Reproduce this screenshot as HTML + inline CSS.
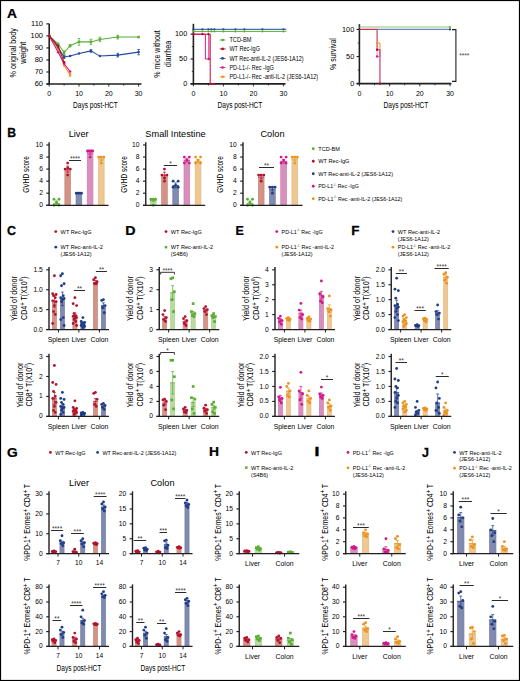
<!DOCTYPE html><html><head><meta charset="utf-8"><style>html,body{margin:0;padding:0;background:#fff}svg{display:block}text{font-family:"Liberation Sans",sans-serif;stroke:none}</style></head><body>
<svg width="520" height="681" viewBox="0 0 520 681">
<rect x="0" y="0" width="520" height="681" fill="#fff"/>
<text transform="translate(6.95 17.5) scale(1.0808 1)" x="0" y="0" font-size="12.8" font-weight="bold" fill="#000" style="stroke:#000;stroke-width:0.25px">A</text>
<line x1="49.2" y1="23.85" x2="49.2" y2="84.6" stroke="#231f20" stroke-width="1.6"/>
<line x1="46.4" y1="84" x2="49.2" y2="84" stroke="#231f20" stroke-width="1.15"/>
<text transform="translate(43 86.34)" x="-8.34" y="0" font-size="7.5">60</text>
<line x1="46.4" y1="71.97" x2="49.2" y2="71.97" stroke="#231f20" stroke-width="1.15"/>
<text transform="translate(43 74.31)" x="-8.34" y="0" font-size="7.5">70</text>
<line x1="46.4" y1="59.94" x2="49.2" y2="59.94" stroke="#231f20" stroke-width="1.15"/>
<text transform="translate(43 62.27)" x="-8.34" y="0" font-size="7.5">80</text>
<line x1="46.4" y1="47.91" x2="49.2" y2="47.91" stroke="#231f20" stroke-width="1.15"/>
<text transform="translate(43 50.24)" x="-8.34" y="0" font-size="7.5">90</text>
<line x1="46.4" y1="35.88" x2="49.2" y2="35.88" stroke="#231f20" stroke-width="1.15"/>
<text transform="translate(43 38.22)" x="-12.51" y="0" font-size="7.5">100</text>
<line x1="46.4" y1="23.85" x2="49.2" y2="23.85" stroke="#231f20" stroke-width="1.15"/>
<text transform="translate(43 26.18)" x="-11.96" y="0" font-size="7.5">110</text>
<line x1="46.4" y1="84" x2="141.5" y2="84" stroke="#231f20" stroke-width="1.6"/>
<line x1="49.2" y1="84" x2="49.2" y2="86.6" stroke="#231f20" stroke-width="0.9"/>
<line x1="64.1" y1="84" x2="64.1" y2="85.6" stroke="#231f20" stroke-width="0.9"/>
<line x1="79" y1="84" x2="79" y2="86.6" stroke="#231f20" stroke-width="0.9"/>
<line x1="93.9" y1="84" x2="93.9" y2="85.6" stroke="#231f20" stroke-width="0.9"/>
<line x1="108.8" y1="84" x2="108.8" y2="86.6" stroke="#231f20" stroke-width="0.9"/>
<line x1="123.7" y1="84" x2="123.7" y2="85.6" stroke="#231f20" stroke-width="0.9"/>
<line x1="138.6" y1="84" x2="138.6" y2="86.6" stroke="#231f20" stroke-width="0.9"/>
<text transform="translate(49.2 96.3)" x="-1.95" y="0" font-size="7">0</text>
<text transform="translate(79 96.3)" x="-3.89" y="0" font-size="7">10</text>
<text transform="translate(108.8 96.3)" x="-3.89" y="0" font-size="7">20</text>
<text transform="translate(138.6 96.3)" x="-3.89" y="0" font-size="7">30</text>
<text transform="translate(95.5 108.4) scale(0.7284 1)" x="-30.75" y="0" font-size="9">Days post-HCT</text>
<text transform="translate(15.5 52.7) rotate(-90) scale(0.7526 1)" x="-32.82" y="0" font-size="9.6">% original body</text>
<text transform="translate(26 52.7) rotate(-90) scale(0.7928 1)" x="-13.87" y="0" font-size="9.6">weight</text>
<polyline points="49.2,35.88 58.14,43.82 64.1,52.72 70.06,45.74 79,41.89 90.92,41.89 99.86,39.49 117.74,37.08 138.6,37.08" fill="none" stroke="#5aae32" stroke-width="1.05"/>
<rect x="47.95" y="34.63" width="2.5" height="2.5" fill="#5aae32"/>
<rect x="56.89" y="42.57" width="2.5" height="2.5" fill="#5aae32"/>
<rect x="62.85" y="51.47" width="2.5" height="2.5" fill="#5aae32"/>
<line x1="64.1" y1="50.92" x2="64.1" y2="54.53" stroke="#5aae32" stroke-width="0.8"/>
<line x1="62.8" y1="50.92" x2="65.4" y2="50.92" stroke="#5aae32" stroke-width="0.8"/>
<line x1="62.8" y1="54.53" x2="65.4" y2="54.53" stroke="#5aae32" stroke-width="0.8"/>
<rect x="68.81" y="44.49" width="2.5" height="2.5" fill="#5aae32"/>
<line x1="70.06" y1="44.54" x2="70.06" y2="46.95" stroke="#5aae32" stroke-width="0.8"/>
<line x1="68.76" y1="44.54" x2="71.36" y2="44.54" stroke="#5aae32" stroke-width="0.8"/>
<line x1="68.76" y1="46.95" x2="71.36" y2="46.95" stroke="#5aae32" stroke-width="0.8"/>
<rect x="77.75" y="40.64" width="2.5" height="2.5" fill="#5aae32"/>
<line x1="79" y1="38.53" x2="79" y2="45.26" stroke="#5aae32" stroke-width="0.8"/>
<line x1="77.7" y1="38.53" x2="80.3" y2="38.53" stroke="#5aae32" stroke-width="0.8"/>
<line x1="77.7" y1="45.26" x2="80.3" y2="45.26" stroke="#5aae32" stroke-width="0.8"/>
<rect x="89.67" y="40.64" width="2.5" height="2.5" fill="#5aae32"/>
<line x1="90.92" y1="39.37" x2="90.92" y2="44.42" stroke="#5aae32" stroke-width="0.8"/>
<line x1="89.62" y1="39.37" x2="92.22" y2="39.37" stroke="#5aae32" stroke-width="0.8"/>
<line x1="89.62" y1="44.42" x2="92.22" y2="44.42" stroke="#5aae32" stroke-width="0.8"/>
<rect x="98.61" y="38.24" width="2.5" height="2.5" fill="#5aae32"/>
<line x1="99.86" y1="37.2" x2="99.86" y2="41.77" stroke="#5aae32" stroke-width="0.8"/>
<line x1="98.56" y1="37.2" x2="101.16" y2="37.2" stroke="#5aae32" stroke-width="0.8"/>
<line x1="98.56" y1="41.77" x2="101.16" y2="41.77" stroke="#5aae32" stroke-width="0.8"/>
<rect x="116.49" y="35.83" width="2.5" height="2.5" fill="#5aae32"/>
<line x1="117.74" y1="35.16" x2="117.74" y2="39.01" stroke="#5aae32" stroke-width="0.8"/>
<line x1="116.44" y1="35.16" x2="119.04" y2="35.16" stroke="#5aae32" stroke-width="0.8"/>
<line x1="116.44" y1="39.01" x2="119.04" y2="39.01" stroke="#5aae32" stroke-width="0.8"/>
<rect x="137.35" y="35.83" width="2.5" height="2.5" fill="#5aae32"/>
<polyline points="49.2,35.88 58.14,47.67 64.1,56.93 70.06,56.09 79,53.44 90.92,50.92 99.86,56.09 117.74,55.13 138.6,52.12" fill="none" stroke="#24489a" stroke-width="1.05"/>
<circle cx="49.2" cy="35.88" r="1.25" fill="#24489a"/>
<circle cx="58.14" cy="47.67" r="1.25" fill="#24489a"/>
<circle cx="64.1" cy="56.93" r="1.25" fill="#24489a"/>
<line x1="64.1" y1="55.49" x2="64.1" y2="58.38" stroke="#24489a" stroke-width="0.8"/>
<line x1="62.8" y1="55.49" x2="65.4" y2="55.49" stroke="#24489a" stroke-width="0.8"/>
<line x1="62.8" y1="58.38" x2="65.4" y2="58.38" stroke="#24489a" stroke-width="0.8"/>
<circle cx="70.06" cy="56.09" r="1.25" fill="#24489a"/>
<circle cx="79" cy="53.44" r="1.25" fill="#24489a"/>
<circle cx="90.92" cy="50.92" r="1.25" fill="#24489a"/>
<line x1="90.92" y1="49.59" x2="90.92" y2="52.24" stroke="#24489a" stroke-width="0.8"/>
<line x1="89.62" y1="49.59" x2="92.22" y2="49.59" stroke="#24489a" stroke-width="0.8"/>
<line x1="89.62" y1="52.24" x2="92.22" y2="52.24" stroke="#24489a" stroke-width="0.8"/>
<circle cx="99.86" cy="56.09" r="1.25" fill="#24489a"/>
<circle cx="117.74" cy="55.13" r="1.25" fill="#24489a"/>
<line x1="117.74" y1="53.32" x2="117.74" y2="56.93" stroke="#24489a" stroke-width="0.8"/>
<line x1="116.44" y1="53.32" x2="119.04" y2="53.32" stroke="#24489a" stroke-width="0.8"/>
<line x1="116.44" y1="56.93" x2="119.04" y2="56.93" stroke="#24489a" stroke-width="0.8"/>
<circle cx="138.6" cy="52.12" r="1.25" fill="#24489a"/>
<line x1="138.6" y1="49.47" x2="138.6" y2="54.77" stroke="#24489a" stroke-width="0.8"/>
<line x1="137.3" y1="49.47" x2="139.9" y2="49.47" stroke="#24489a" stroke-width="0.8"/>
<line x1="137.3" y1="54.77" x2="139.9" y2="54.77" stroke="#24489a" stroke-width="0.8"/>
<polyline points="49.2,35.88 58.14,49.96 64.1,65.47 70.06,74.74" fill="none" stroke="#f0941c" stroke-width="1.05"/>
<circle cx="49.2" cy="35.88" r="1.25" fill="#f0941c"/>
<circle cx="58.14" cy="49.96" r="1.25" fill="#f0941c"/>
<circle cx="64.1" cy="65.47" r="1.25" fill="#f0941c"/>
<circle cx="70.06" cy="74.74" r="1.25" fill="#f0941c"/>
<line x1="70.06" y1="73.17" x2="70.06" y2="76.3" stroke="#f0941c" stroke-width="0.8"/>
<line x1="68.76" y1="73.17" x2="71.36" y2="73.17" stroke="#f0941c" stroke-width="0.8"/>
<line x1="68.76" y1="76.3" x2="71.36" y2="76.3" stroke="#f0941c" stroke-width="0.8"/>
<polyline points="49.2,35.88 58.14,52.36 64.1,63.55 70.06,71.61" fill="none" stroke="#e0158c" stroke-width="1.05"/>
<circle cx="49.2" cy="35.88" r="1.25" fill="#e0158c"/>
<circle cx="58.14" cy="52.36" r="1.25" fill="#e0158c"/>
<circle cx="64.1" cy="63.55" r="1.25" fill="#e0158c"/>
<circle cx="70.06" cy="71.61" r="1.25" fill="#e0158c"/>
<polyline points="49.2,35.88 58.14,46.11 64.1,62.35" fill="none" stroke="#a8102c" stroke-width="1.05"/>
<circle cx="49.2" cy="35.88" r="1.25" fill="#a8102c"/>
<circle cx="58.14" cy="46.11" r="1.25" fill="#a8102c"/>
<circle cx="64.1" cy="62.35" r="1.25" fill="#a8102c"/>
<line x1="193.4" y1="23.8" x2="193.4" y2="84.45" stroke="#231f20" stroke-width="1.6"/>
<line x1="190.6" y1="83.85" x2="193.4" y2="83.85" stroke="#231f20" stroke-width="1.15"/>
<text transform="translate(187.2 86.11)" x="-4.06" y="0" font-size="7.3">0</text>
<line x1="190.6" y1="59" x2="193.4" y2="59" stroke="#231f20" stroke-width="1.15"/>
<text transform="translate(187.2 61.26)" x="-8.12" y="0" font-size="7.3">50</text>
<line x1="190.6" y1="34.15" x2="193.4" y2="34.15" stroke="#231f20" stroke-width="1.15"/>
<text transform="translate(187.2 36.41)" x="-12.18" y="0" font-size="7.3">100</text>
<line x1="191.8" y1="71.42" x2="193.4" y2="71.42" stroke="#231f20" stroke-width="0.8"/>
<line x1="191.8" y1="46.57" x2="193.4" y2="46.57" stroke="#231f20" stroke-width="0.8"/>
<line x1="190.6" y1="83.85" x2="285.5" y2="83.85" stroke="#231f20" stroke-width="1.6"/>
<line x1="193.4" y1="83.85" x2="193.4" y2="86.45" stroke="#231f20" stroke-width="0.9"/>
<line x1="208.4" y1="83.85" x2="208.4" y2="85.45" stroke="#231f20" stroke-width="0.9"/>
<line x1="223.4" y1="83.85" x2="223.4" y2="86.45" stroke="#231f20" stroke-width="0.9"/>
<line x1="238.4" y1="83.85" x2="238.4" y2="85.45" stroke="#231f20" stroke-width="0.9"/>
<line x1="253.4" y1="83.85" x2="253.4" y2="86.45" stroke="#231f20" stroke-width="0.9"/>
<line x1="268.4" y1="83.85" x2="268.4" y2="85.45" stroke="#231f20" stroke-width="0.9"/>
<line x1="283.4" y1="83.85" x2="283.4" y2="86.45" stroke="#231f20" stroke-width="0.9"/>
<text transform="translate(193.4 96.2)" x="-1.95" y="0" font-size="7">0</text>
<text transform="translate(223.4 96.2)" x="-3.89" y="0" font-size="7">10</text>
<text transform="translate(253.4 96.2)" x="-3.89" y="0" font-size="7">20</text>
<text transform="translate(283.4 96.2)" x="-3.89" y="0" font-size="7">30</text>
<text transform="translate(240 108.4) scale(0.7284 1)" x="-30.75" y="0" font-size="9">Days post-HCT</text>
<text transform="translate(160 54) rotate(-90) scale(0.7374 1)" x="-32.28" y="0" font-size="9.6">% mice without</text>
<text transform="translate(171.1 54) rotate(-90) scale(0.7496 1)" x="-17.61" y="0" font-size="9.6">diarrhea</text>
<line x1="193.4" y1="29.3" x2="286.4" y2="29.3" stroke="#24489a" stroke-width="1"/>
<line x1="193.4" y1="31.4" x2="286.4" y2="31.4" stroke="#5aae32" stroke-width="1"/>
<circle cx="193.4" cy="29.3" r="1.1" fill="#24489a"/>
<circle cx="193.4" cy="31.4" r="1" fill="#5aae32"/>
<circle cx="202.4" cy="29.3" r="1.1" fill="#24489a"/>
<circle cx="202.4" cy="31.4" r="1" fill="#5aae32"/>
<circle cx="208.4" cy="29.3" r="1.1" fill="#24489a"/>
<circle cx="208.4" cy="31.4" r="1" fill="#5aae32"/>
<circle cx="211.4" cy="29.3" r="1.1" fill="#24489a"/>
<circle cx="211.4" cy="31.4" r="1" fill="#5aae32"/>
<circle cx="214.4" cy="29.3" r="1.1" fill="#24489a"/>
<circle cx="214.4" cy="31.4" r="1" fill="#5aae32"/>
<circle cx="223.4" cy="29.3" r="1.1" fill="#24489a"/>
<circle cx="223.4" cy="31.4" r="1" fill="#5aae32"/>
<circle cx="235.4" cy="29.3" r="1.1" fill="#24489a"/>
<circle cx="235.4" cy="31.4" r="1" fill="#5aae32"/>
<circle cx="244.4" cy="29.3" r="1.1" fill="#24489a"/>
<circle cx="244.4" cy="31.4" r="1" fill="#5aae32"/>
<circle cx="262.4" cy="29.3" r="1.1" fill="#24489a"/>
<circle cx="262.4" cy="31.4" r="1" fill="#5aae32"/>
<circle cx="283.4" cy="29.3" r="1.1" fill="#24489a"/>
<circle cx="283.4" cy="31.4" r="1" fill="#5aae32"/>
<polyline points="193.4,34.15 205.4,34.15 205.4,59 208.85,59 208.85,34.15" fill="none" stroke="#e0158c" stroke-width="1.0"/>
<circle cx="208.85" cy="59" r="1.2" fill="#e0158c"/>
<polyline points="193.4,34.15 210.2,34.15 210.2,83.85 215,83.85" fill="none" stroke="#c8143c" stroke-width="1.05"/>
<circle cx="193.4" cy="34.15" r="1.1" fill="#a8102c"/>
<circle cx="202.4" cy="34.15" r="1.1" fill="#a8102c"/>
<circle cx="208.4" cy="34.15" r="1.1" fill="#a8102c"/>
<circle cx="211.4" cy="83.85" r="1.1" fill="#a8102c"/>
<circle cx="214.4" cy="83.85" r="1.1" fill="#a8102c"/>
<line x1="219.7" y1="40" x2="225.6" y2="40" stroke="#5aae32" stroke-width="0.9"/>
<circle cx="222.6" cy="40" r="1.35" fill="#5aae32"/>
<text transform="translate(229.4 42.3) scale(0.8841 1)" x="0" y="0" font-size="6.4">TCD-BM</text>
<line x1="219.7" y1="48.9" x2="225.6" y2="48.9" stroke="#a8102c" stroke-width="0.9"/>
<circle cx="222.6" cy="48.9" r="1.35" fill="#a8102c"/>
<text transform="translate(229.4 51.2) scale(0.8635 1)" x="0" y="0" font-size="6.4">WT Rec-IgG</text>
<line x1="219.7" y1="58.4" x2="225.6" y2="58.4" stroke="#24489a" stroke-width="0.9"/>
<circle cx="222.6" cy="58.4" r="1.35" fill="#24489a"/>
<text transform="translate(229.4 60.7) scale(0.8562 1)" x="0" y="0" font-size="6.4">WT Rec-anti-IL-2 (JES6-1A12)</text>
<line x1="219.7" y1="67.5" x2="225.6" y2="67.5" stroke="#e0158c" stroke-width="0.9"/>
<circle cx="222.6" cy="67.5" r="1.35" fill="#e0158c"/>
<text transform="translate(229.4 69.8) scale(0.8611 1)" x="0" y="0" font-size="6.4">PD-L1-/- Rec -IgG</text>
<line x1="219.7" y1="76.8" x2="225.6" y2="76.8" stroke="#f0941c" stroke-width="0.9"/>
<circle cx="222.6" cy="76.8" r="1.35" fill="#f0941c"/>
<text transform="translate(229.4 79.1) scale(0.8610 1)" x="0" y="0" font-size="6.4">PD-L1-/- Rec -anti-IL-2 (JES6-1A12)</text>
<line x1="359.4" y1="24.2" x2="359.4" y2="84.25" stroke="#231f20" stroke-width="1.6"/>
<line x1="356.6" y1="83.65" x2="359.4" y2="83.65" stroke="#231f20" stroke-width="1.15"/>
<text transform="translate(354.2 85.91)" x="-4.06" y="0" font-size="7.3">0</text>
<line x1="356.6" y1="56.53" x2="359.4" y2="56.53" stroke="#231f20" stroke-width="1.15"/>
<text transform="translate(354.2 58.79)" x="-8.12" y="0" font-size="7.3">50</text>
<line x1="356.6" y1="29.4" x2="359.4" y2="29.4" stroke="#231f20" stroke-width="1.15"/>
<text transform="translate(354.2 31.66)" x="-12.18" y="0" font-size="7.3">100</text>
<line x1="357.8" y1="70.09" x2="359.4" y2="70.09" stroke="#231f20" stroke-width="0.8"/>
<line x1="357.8" y1="42.96" x2="359.4" y2="42.96" stroke="#231f20" stroke-width="0.8"/>
<line x1="356.6" y1="83.65" x2="451.4" y2="83.65" stroke="#231f20" stroke-width="1.6"/>
<line x1="359.4" y1="83.65" x2="359.4" y2="86.25" stroke="#231f20" stroke-width="0.9"/>
<line x1="374.5" y1="83.65" x2="374.5" y2="85.25" stroke="#231f20" stroke-width="0.9"/>
<line x1="389.6" y1="83.65" x2="389.6" y2="86.25" stroke="#231f20" stroke-width="0.9"/>
<line x1="404.7" y1="83.65" x2="404.7" y2="85.25" stroke="#231f20" stroke-width="0.9"/>
<line x1="419.8" y1="83.65" x2="419.8" y2="86.25" stroke="#231f20" stroke-width="0.9"/>
<line x1="434.9" y1="83.65" x2="434.9" y2="85.25" stroke="#231f20" stroke-width="0.9"/>
<line x1="450" y1="83.65" x2="450" y2="86.25" stroke="#231f20" stroke-width="0.9"/>
<text transform="translate(359.4 96.1)" x="-1.95" y="0" font-size="7">0</text>
<text transform="translate(389.6 96.1)" x="-3.89" y="0" font-size="7">10</text>
<text transform="translate(419.8 96.1)" x="-3.89" y="0" font-size="7">20</text>
<text transform="translate(450 96.1)" x="-3.89" y="0" font-size="7">30</text>
<text transform="translate(406 108) scale(0.7284 1)" x="-30.75" y="0" font-size="9">Days post-HCT</text>
<text transform="translate(335.9 54) rotate(-90) scale(0.7424 1)" x="-21.42" y="0" font-size="9.4">% survival</text>
<line x1="359.4" y1="27" x2="450" y2="27" stroke="#8cc46c" stroke-width="1.1"/>
<circle cx="450" cy="27" r="1.1" fill="#5aae32"/>
<line x1="377.22" y1="29.4" x2="450" y2="29.4" stroke="#6f83bd" stroke-width="1.1"/>
<circle cx="450" cy="29.4" r="1.1" fill="#24489a"/>
<polyline points="377.1,49.74 377.1,56.53 379.95,56.53 379.95,49.74" fill="none" stroke="#e68ac4" stroke-width="0.9"/>
<polyline points="377.1,42.96 379.95,42.96 379.95,50.02" fill="none" stroke="#f0941c" stroke-width="1.0"/>
<polyline points="359.4,29.4 377.1,29.4 377.1,49.74 379.95,49.74 379.95,83.65" fill="none" stroke="#c92f55" stroke-width="1.1"/>
<circle cx="377.1" cy="42.96" r="1.2" fill="#f0941c"/>
<circle cx="377.1" cy="56.53" r="1.2" fill="#e0158c"/>
<circle cx="377.1" cy="49.74" r="1.2" fill="#a8102c"/>
<circle cx="379.95" cy="83.65" r="1.2" fill="#a8102c"/>
<polyline points="452.0,29.6 455.9,29.6 455.9,81.4 452.0,81.4" fill="none" stroke="#231f20" stroke-width="1.1"/>
<text transform="translate(464.3 58.3)" x="-5.14" y="0" font-size="6.6" fill="#444">****</text>
<text transform="translate(7.3 137.2) scale(0.9556 1)" x="0" y="0" font-size="12.8" font-weight="bold" fill="#000" style="stroke:#000;stroke-width:0.25px">B</text>
<rect x="53.65" y="203.79" width="5.7" height="1.46" fill="#badaa2" stroke="#a9cf8e" stroke-width="0.7"/>
<rect x="64.85" y="169.45" width="5.7" height="35.8" fill="#d39487" stroke="#c7867a" stroke-width="0.7"/>
<rect x="76.05" y="193.55" width="5.7" height="11.7" fill="#818aaf" stroke="#727ba3" stroke-width="0.7"/>
<rect x="87.25" y="153.18" width="5.7" height="52.07" fill="#d890ba" stroke="#cc7dac" stroke-width="0.7"/>
<rect x="98.45" y="159.21" width="5.7" height="46.04" fill="#edc893" stroke="#e4b97e" stroke-width="0.7"/>
<line x1="56.5" y1="205.85" x2="56.5" y2="201.03" stroke="#5aae32" stroke-width="0.7"/>
<line x1="55" y1="201.03" x2="58" y2="201.03" stroke="#5aae32" stroke-width="0.7"/>
<line x1="55" y1="205.25" x2="58" y2="205.25" stroke="#5aae32" stroke-width="0.7"/>
<line x1="53.3" y1="203.44" x2="59.7" y2="203.44" stroke="#5aae32" stroke-width="0.7"/>
<line x1="67.7" y1="172.11" x2="67.7" y2="166.09" stroke="#b3122e" stroke-width="0.7"/>
<line x1="66.2" y1="166.09" x2="69.2" y2="166.09" stroke="#b3122e" stroke-width="0.7"/>
<line x1="66.2" y1="172.11" x2="69.2" y2="172.11" stroke="#b3122e" stroke-width="0.7"/>
<line x1="64.5" y1="169.1" x2="70.9" y2="169.1" stroke="#b3122e" stroke-width="0.7"/>
<line x1="75.7" y1="193.2" x2="82.1" y2="193.2" stroke="#1f3d87" stroke-width="0.7"/>
<line x1="90.1" y1="154.64" x2="90.1" y2="151.03" stroke="#d3168a" stroke-width="0.7"/>
<line x1="88.6" y1="151.03" x2="91.6" y2="151.03" stroke="#d3168a" stroke-width="0.7"/>
<line x1="88.6" y1="154.64" x2="91.6" y2="154.64" stroke="#d3168a" stroke-width="0.7"/>
<line x1="86.9" y1="152.83" x2="93.3" y2="152.83" stroke="#d3168a" stroke-width="0.7"/>
<line x1="101.3" y1="160.66" x2="101.3" y2="157.05" stroke="#ec921e" stroke-width="0.7"/>
<line x1="99.8" y1="157.05" x2="102.8" y2="157.05" stroke="#ec921e" stroke-width="0.7"/>
<line x1="99.8" y1="160.66" x2="102.8" y2="160.66" stroke="#ec921e" stroke-width="0.7"/>
<line x1="98.1" y1="158.86" x2="104.5" y2="158.86" stroke="#ec921e" stroke-width="0.7"/>
<circle cx="54" cy="199.22" r="1.42" fill="#5aae32"/>
<circle cx="59" cy="199.22" r="1.42" fill="#5aae32"/>
<circle cx="56.5" cy="202.24" r="1.42" fill="#5aae32"/>
<circle cx="54" cy="205.25" r="1.42" fill="#5aae32"/>
<circle cx="59" cy="205.25" r="1.42" fill="#5aae32"/>
<circle cx="67.7" cy="163.07" r="1.42" fill="#b3122e"/>
<circle cx="65.1" cy="169.1" r="1.42" fill="#b3122e"/>
<circle cx="70.3" cy="169.1" r="1.42" fill="#b3122e"/>
<circle cx="67.7" cy="167.89" r="1.42" fill="#b3122e"/>
<circle cx="67.7" cy="175.12" r="1.42" fill="#b3122e"/>
<circle cx="76.3" cy="193.2" r="1.42" fill="#1f3d87"/>
<circle cx="78" cy="193.2" r="1.42" fill="#1f3d87"/>
<circle cx="79.8" cy="193.2" r="1.42" fill="#1f3d87"/>
<circle cx="81.5" cy="193.2" r="1.42" fill="#1f3d87"/>
<circle cx="87.5" cy="151.03" r="1.42" fill="#d3168a"/>
<circle cx="89.2" cy="151.03" r="1.42" fill="#d3168a"/>
<circle cx="91" cy="151.03" r="1.42" fill="#d3168a"/>
<circle cx="92.7" cy="151.03" r="1.42" fill="#d3168a"/>
<circle cx="90.1" cy="157.05" r="1.42" fill="#d3168a"/>
<circle cx="98.7" cy="157.05" r="1.42" fill="#ec921e"/>
<circle cx="101.3" cy="157.05" r="1.42" fill="#ec921e"/>
<circle cx="103.9" cy="157.05" r="1.42" fill="#ec921e"/>
<circle cx="101.3" cy="163.07" r="1.42" fill="#ec921e"/>
<line x1="49.1" y1="142.2" x2="49.1" y2="205.85" stroke="#231f20" stroke-width="1.4"/>
<line x1="46.3" y1="205.25" x2="49.1" y2="205.25" stroke="#231f20" stroke-width="1.15"/>
<text transform="translate(42.9 207.3)" x="-3.73" y="0" font-size="6.7">0</text>
<line x1="46.3" y1="193.2" x2="49.1" y2="193.2" stroke="#231f20" stroke-width="1.15"/>
<text transform="translate(42.9 195.25)" x="-3.73" y="0" font-size="6.7">2</text>
<line x1="46.3" y1="181.15" x2="49.1" y2="181.15" stroke="#231f20" stroke-width="1.15"/>
<text transform="translate(42.9 183.2)" x="-3.73" y="0" font-size="6.7">4</text>
<line x1="46.3" y1="169.1" x2="49.1" y2="169.1" stroke="#231f20" stroke-width="1.15"/>
<text transform="translate(42.9 171.15)" x="-3.73" y="0" font-size="6.7">6</text>
<line x1="46.3" y1="157.05" x2="49.1" y2="157.05" stroke="#231f20" stroke-width="1.15"/>
<text transform="translate(42.9 159.1)" x="-3.73" y="0" font-size="6.7">8</text>
<line x1="46.3" y1="145" x2="49.1" y2="145" stroke="#231f20" stroke-width="1.15"/>
<text transform="translate(42.9 147.05)" x="-7.45" y="0" font-size="6.7">10</text>
<line x1="46.3" y1="205.25" x2="108.6" y2="205.25" stroke="#231f20" stroke-width="1.25"/>
<line x1="69" y1="160.5" x2="81" y2="160.5" stroke="#231f20" stroke-width="0.95"/>
<text transform="translate(75 161.1)" x="-5.06" y="0" font-size="6.5" fill="#333">****</text>
<text transform="translate(78.6 137.4)" x="-9.97" y="0" font-size="9.2">Liver</text>
<text transform="translate(29.3 174.4) rotate(-90) scale(0.7012 1)" x="-26.1" y="0" font-size="9.3">GVHD score</text>
<rect x="150.4" y="200.78" width="5.7" height="4.47" fill="#badaa2" stroke="#a9cf8e" stroke-width="0.7"/>
<rect x="161.6" y="175.47" width="5.7" height="29.77" fill="#d39487" stroke="#c7867a" stroke-width="0.7"/>
<rect x="172.8" y="185.72" width="5.7" height="19.53" fill="#818aaf" stroke="#727ba3" stroke-width="0.7"/>
<rect x="184" y="160.41" width="5.7" height="44.84" fill="#d890ba" stroke="#cc7dac" stroke-width="0.7"/>
<rect x="195.2" y="161.62" width="5.7" height="43.63" fill="#edc893" stroke="#e4b97e" stroke-width="0.7"/>
<line x1="153.25" y1="201.63" x2="153.25" y2="199.22" stroke="#5aae32" stroke-width="0.7"/>
<line x1="151.75" y1="199.22" x2="154.75" y2="199.22" stroke="#5aae32" stroke-width="0.7"/>
<line x1="151.75" y1="201.63" x2="154.75" y2="201.63" stroke="#5aae32" stroke-width="0.7"/>
<line x1="150.05" y1="200.43" x2="156.45" y2="200.43" stroke="#5aae32" stroke-width="0.7"/>
<line x1="164.45" y1="178.14" x2="164.45" y2="172.11" stroke="#b3122e" stroke-width="0.7"/>
<line x1="162.95" y1="172.11" x2="165.95" y2="172.11" stroke="#b3122e" stroke-width="0.7"/>
<line x1="162.95" y1="178.14" x2="165.95" y2="178.14" stroke="#b3122e" stroke-width="0.7"/>
<line x1="161.25" y1="175.12" x2="167.65" y2="175.12" stroke="#b3122e" stroke-width="0.7"/>
<line x1="175.65" y1="187.78" x2="175.65" y2="182.96" stroke="#1f3d87" stroke-width="0.7"/>
<line x1="174.15" y1="182.96" x2="177.15" y2="182.96" stroke="#1f3d87" stroke-width="0.7"/>
<line x1="174.15" y1="187.78" x2="177.15" y2="187.78" stroke="#1f3d87" stroke-width="0.7"/>
<line x1="172.45" y1="185.37" x2="178.85" y2="185.37" stroke="#1f3d87" stroke-width="0.7"/>
<line x1="186.85" y1="161.87" x2="186.85" y2="158.25" stroke="#d3168a" stroke-width="0.7"/>
<line x1="185.35" y1="158.25" x2="188.35" y2="158.25" stroke="#d3168a" stroke-width="0.7"/>
<line x1="185.35" y1="161.87" x2="188.35" y2="161.87" stroke="#d3168a" stroke-width="0.7"/>
<line x1="183.65" y1="160.06" x2="190.05" y2="160.06" stroke="#d3168a" stroke-width="0.7"/>
<line x1="198.05" y1="163.07" x2="198.05" y2="159.46" stroke="#ec921e" stroke-width="0.7"/>
<line x1="196.55" y1="159.46" x2="199.55" y2="159.46" stroke="#ec921e" stroke-width="0.7"/>
<line x1="196.55" y1="163.07" x2="199.55" y2="163.07" stroke="#ec921e" stroke-width="0.7"/>
<line x1="194.85" y1="161.27" x2="201.25" y2="161.27" stroke="#ec921e" stroke-width="0.7"/>
<circle cx="150.95" cy="199.22" r="1.42" fill="#5aae32"/>
<circle cx="153.25" cy="199.22" r="1.42" fill="#5aae32"/>
<circle cx="155.55" cy="199.22" r="1.42" fill="#5aae32"/>
<circle cx="153.25" cy="205.25" r="1.42" fill="#5aae32"/>
<circle cx="164.45" cy="169.1" r="1.42" fill="#b3122e"/>
<circle cx="161.95" cy="175.12" r="1.42" fill="#b3122e"/>
<circle cx="166.95" cy="175.12" r="1.42" fill="#b3122e"/>
<circle cx="164.45" cy="178.14" r="1.42" fill="#b3122e"/>
<circle cx="164.45" cy="181.15" r="1.42" fill="#b3122e"/>
<circle cx="173.15" cy="181.15" r="1.42" fill="#1f3d87"/>
<circle cx="178.15" cy="181.15" r="1.42" fill="#1f3d87"/>
<circle cx="175.65" cy="185.37" r="1.42" fill="#1f3d87"/>
<circle cx="173.15" cy="187.18" r="1.42" fill="#1f3d87"/>
<circle cx="178.15" cy="187.18" r="1.42" fill="#1f3d87"/>
<circle cx="184.35" cy="157.05" r="1.42" fill="#d3168a"/>
<circle cx="189.35" cy="157.05" r="1.42" fill="#d3168a"/>
<circle cx="186.85" cy="160.06" r="1.42" fill="#d3168a"/>
<circle cx="184.35" cy="163.07" r="1.42" fill="#d3168a"/>
<circle cx="189.35" cy="163.07" r="1.42" fill="#d3168a"/>
<circle cx="195.55" cy="157.05" r="1.42" fill="#ec921e"/>
<circle cx="200.55" cy="157.05" r="1.42" fill="#ec921e"/>
<circle cx="198.05" cy="160.06" r="1.42" fill="#ec921e"/>
<circle cx="195.55" cy="163.07" r="1.42" fill="#ec921e"/>
<circle cx="200.55" cy="163.07" r="1.42" fill="#ec921e"/>
<line x1="145.75" y1="142.2" x2="145.75" y2="205.85" stroke="#231f20" stroke-width="1.4"/>
<line x1="142.95" y1="205.25" x2="145.75" y2="205.25" stroke="#231f20" stroke-width="1.15"/>
<text transform="translate(139.55 207.3)" x="-3.73" y="0" font-size="6.7">0</text>
<line x1="142.95" y1="193.2" x2="145.75" y2="193.2" stroke="#231f20" stroke-width="1.15"/>
<text transform="translate(139.55 195.25)" x="-3.73" y="0" font-size="6.7">2</text>
<line x1="142.95" y1="181.15" x2="145.75" y2="181.15" stroke="#231f20" stroke-width="1.15"/>
<text transform="translate(139.55 183.2)" x="-3.73" y="0" font-size="6.7">4</text>
<line x1="142.95" y1="169.1" x2="145.75" y2="169.1" stroke="#231f20" stroke-width="1.15"/>
<text transform="translate(139.55 171.15)" x="-3.73" y="0" font-size="6.7">6</text>
<line x1="142.95" y1="157.05" x2="145.75" y2="157.05" stroke="#231f20" stroke-width="1.15"/>
<text transform="translate(139.55 159.1)" x="-3.73" y="0" font-size="6.7">8</text>
<line x1="142.95" y1="145" x2="145.75" y2="145" stroke="#231f20" stroke-width="1.15"/>
<text transform="translate(139.55 147.05)" x="-7.45" y="0" font-size="6.7">10</text>
<line x1="142.95" y1="205.25" x2="205.25" y2="205.25" stroke="#231f20" stroke-width="1.25"/>
<line x1="163.75" y1="165.5" x2="177" y2="165.5" stroke="#231f20" stroke-width="0.95"/>
<text transform="translate(170.38 166.1)" x="-1.26" y="0" font-size="6.5" fill="#333">*</text>
<text transform="translate(175.5 137.4)" x="-30.17" y="0" font-size="9.2">Small Intestine</text>
<text transform="translate(126.8 174.4) rotate(-90) scale(0.7012 1)" x="-26.1" y="0" font-size="9.3">GVHD score</text>
<rect x="247.15" y="203.79" width="5.7" height="1.46" fill="#badaa2" stroke="#a9cf8e" stroke-width="0.7"/>
<rect x="258.35" y="177.28" width="5.7" height="27.97" fill="#d39487" stroke="#c7867a" stroke-width="0.7"/>
<rect x="269.55" y="189.33" width="5.7" height="15.92" fill="#818aaf" stroke="#727ba3" stroke-width="0.7"/>
<rect x="280.75" y="161.62" width="5.7" height="43.63" fill="#d890ba" stroke="#cc7dac" stroke-width="0.7"/>
<rect x="291.95" y="159.21" width="5.7" height="46.04" fill="#edc893" stroke="#e4b97e" stroke-width="0.7"/>
<line x1="250" y1="205.85" x2="250" y2="201.03" stroke="#5aae32" stroke-width="0.7"/>
<line x1="248.5" y1="201.03" x2="251.5" y2="201.03" stroke="#5aae32" stroke-width="0.7"/>
<line x1="248.5" y1="205.25" x2="251.5" y2="205.25" stroke="#5aae32" stroke-width="0.7"/>
<line x1="246.8" y1="203.44" x2="253.2" y2="203.44" stroke="#5aae32" stroke-width="0.7"/>
<line x1="261.2" y1="178.74" x2="261.2" y2="175.12" stroke="#b3122e" stroke-width="0.7"/>
<line x1="259.7" y1="175.12" x2="262.7" y2="175.12" stroke="#b3122e" stroke-width="0.7"/>
<line x1="259.7" y1="178.74" x2="262.7" y2="178.74" stroke="#b3122e" stroke-width="0.7"/>
<line x1="258" y1="176.93" x2="264.4" y2="176.93" stroke="#b3122e" stroke-width="0.7"/>
<line x1="272.4" y1="190.79" x2="272.4" y2="187.18" stroke="#1f3d87" stroke-width="0.7"/>
<line x1="270.9" y1="187.18" x2="273.9" y2="187.18" stroke="#1f3d87" stroke-width="0.7"/>
<line x1="270.9" y1="190.79" x2="273.9" y2="190.79" stroke="#1f3d87" stroke-width="0.7"/>
<line x1="269.2" y1="188.98" x2="275.6" y2="188.98" stroke="#1f3d87" stroke-width="0.7"/>
<line x1="283.6" y1="163.07" x2="283.6" y2="159.46" stroke="#d3168a" stroke-width="0.7"/>
<line x1="282.1" y1="159.46" x2="285.1" y2="159.46" stroke="#d3168a" stroke-width="0.7"/>
<line x1="282.1" y1="163.07" x2="285.1" y2="163.07" stroke="#d3168a" stroke-width="0.7"/>
<line x1="280.4" y1="161.27" x2="286.8" y2="161.27" stroke="#d3168a" stroke-width="0.7"/>
<line x1="294.8" y1="160.66" x2="294.8" y2="157.05" stroke="#ec921e" stroke-width="0.7"/>
<line x1="293.3" y1="157.05" x2="296.3" y2="157.05" stroke="#ec921e" stroke-width="0.7"/>
<line x1="293.3" y1="160.66" x2="296.3" y2="160.66" stroke="#ec921e" stroke-width="0.7"/>
<line x1="291.6" y1="158.86" x2="298" y2="158.86" stroke="#ec921e" stroke-width="0.7"/>
<circle cx="247.5" cy="199.22" r="1.42" fill="#5aae32"/>
<circle cx="252.5" cy="199.22" r="1.42" fill="#5aae32"/>
<circle cx="250" cy="202.24" r="1.42" fill="#5aae32"/>
<circle cx="247.5" cy="205.25" r="1.42" fill="#5aae32"/>
<circle cx="252.5" cy="205.25" r="1.42" fill="#5aae32"/>
<circle cx="258.6" cy="175.12" r="1.42" fill="#b3122e"/>
<circle cx="261.2" cy="175.12" r="1.42" fill="#b3122e"/>
<circle cx="263.8" cy="175.12" r="1.42" fill="#b3122e"/>
<circle cx="261.2" cy="181.15" r="1.42" fill="#b3122e"/>
<circle cx="269.8" cy="187.18" r="1.42" fill="#1f3d87"/>
<circle cx="272.4" cy="187.18" r="1.42" fill="#1f3d87"/>
<circle cx="275" cy="187.18" r="1.42" fill="#1f3d87"/>
<circle cx="272.4" cy="193.2" r="1.42" fill="#1f3d87"/>
<circle cx="281.1" cy="157.05" r="1.42" fill="#d3168a"/>
<circle cx="286.1" cy="157.05" r="1.42" fill="#d3168a"/>
<circle cx="283.6" cy="160.06" r="1.42" fill="#d3168a"/>
<circle cx="281.1" cy="163.07" r="1.42" fill="#d3168a"/>
<circle cx="286.1" cy="163.07" r="1.42" fill="#d3168a"/>
<circle cx="292.2" cy="157.05" r="1.42" fill="#ec921e"/>
<circle cx="294.8" cy="157.05" r="1.42" fill="#ec921e"/>
<circle cx="297.4" cy="157.05" r="1.42" fill="#ec921e"/>
<circle cx="294.8" cy="163.07" r="1.42" fill="#ec921e"/>
<line x1="243" y1="142.2" x2="243" y2="205.85" stroke="#231f20" stroke-width="1.4"/>
<line x1="240.2" y1="205.25" x2="243" y2="205.25" stroke="#231f20" stroke-width="1.15"/>
<text transform="translate(236.8 207.3)" x="-3.73" y="0" font-size="6.7">0</text>
<line x1="240.2" y1="193.2" x2="243" y2="193.2" stroke="#231f20" stroke-width="1.15"/>
<text transform="translate(236.8 195.25)" x="-3.73" y="0" font-size="6.7">2</text>
<line x1="240.2" y1="181.15" x2="243" y2="181.15" stroke="#231f20" stroke-width="1.15"/>
<text transform="translate(236.8 183.2)" x="-3.73" y="0" font-size="6.7">4</text>
<line x1="240.2" y1="169.1" x2="243" y2="169.1" stroke="#231f20" stroke-width="1.15"/>
<text transform="translate(236.8 171.15)" x="-3.73" y="0" font-size="6.7">6</text>
<line x1="240.2" y1="157.05" x2="243" y2="157.05" stroke="#231f20" stroke-width="1.15"/>
<text transform="translate(236.8 159.1)" x="-3.73" y="0" font-size="6.7">8</text>
<line x1="240.2" y1="145" x2="243" y2="145" stroke="#231f20" stroke-width="1.15"/>
<text transform="translate(236.8 147.05)" x="-7.45" y="0" font-size="6.7">10</text>
<line x1="240.2" y1="205.25" x2="302.5" y2="205.25" stroke="#231f20" stroke-width="1.25"/>
<line x1="259" y1="167.5" x2="274" y2="167.5" stroke="#231f20" stroke-width="0.95"/>
<text transform="translate(266.5 168.1)" x="-2.53" y="0" font-size="6.5" fill="#333">**</text>
<text transform="translate(272.5 137.4)" x="-12.02" y="0" font-size="9.2">Colon</text>
<text transform="translate(223.2 174.4) rotate(-90) scale(0.7012 1)" x="-26.1" y="0" font-size="9.3">GVHD score</text>
<circle cx="313.25" cy="148.75" r="1.4" fill="#5aae32"/>
<text transform="translate(318.3 150.85) scale(0.9216 1)" x="0" y="0" font-size="6">TCD-BM</text>
<circle cx="313.25" cy="161.25" r="1.4" fill="#b3122e"/>
<text transform="translate(318.3 163.35) scale(0.9391 1)" x="0" y="0" font-size="6">WT Rec-IgG</text>
<circle cx="313.25" cy="173.75" r="1.4" fill="#1f3d87"/>
<text transform="translate(318.3 175.85) scale(0.9157 1)" x="0" y="0" font-size="6">WT Rec-anti-IL-2 (JES6-1A12)</text>
<circle cx="313.25" cy="186.25" r="1.4" fill="#d3168a"/>
<text transform="translate(318.3 188.35) scale(0.8747 1)" x="0" y="0" font-size="6">PD-L1<tspan dy="-2.64" font-size="3.84">-/-</tspan><tspan dy="2.64"> Rec -IgG</tspan></text>
<circle cx="313.25" cy="198.75" r="1.4" fill="#ec921e"/>
<text transform="translate(318.3 200.85) scale(0.8896 1)" x="0" y="0" font-size="6">PD-L1<tspan dy="-2.64" font-size="3.84">-/-</tspan><tspan dy="2.64"> Rec -anti-IL-2 (JES6-1A12)</tspan></text>
<text transform="translate(7 235.4) scale(0.9736 1)" x="0" y="0" font-size="12.8" font-weight="bold" fill="#000" style="stroke:#000;stroke-width:0.25px">C</text>
<text transform="translate(125.17 235.4) scale(1.1142 1)" x="0" y="0" font-size="12.8" font-weight="bold" fill="#000" style="stroke:#000;stroke-width:0.25px">D</text>
<text transform="translate(235.49 235.4) scale(0.9766 1)" x="0" y="0" font-size="12.8" font-weight="bold" fill="#000" style="stroke:#000;stroke-width:0.25px">E</text>
<text transform="translate(351.32 235.4) scale(1.0520 1)" x="0" y="0" font-size="12.8" font-weight="bold" fill="#000" style="stroke:#000;stroke-width:0.25px">F</text>
<circle cx="55.8" cy="231.6" r="1.4" fill="#b3122e"/>
<text transform="translate(60.6 233.7) scale(0.9331 1)" x="0" y="0" font-size="6">WT Rec-IgG</text>
<circle cx="55.8" cy="247.2" r="1.4" fill="#1f3d87"/>
<text transform="translate(60.6 249.3) scale(0.9306 1)" x="0" y="0" font-size="6">WT Rec-anti-IL-2</text>
<text transform="translate(60.6 256.2) scale(0.9026 1)" x="0" y="0" font-size="6">(JES6-1A12)</text>
<circle cx="166" cy="231.6" r="1.4" fill="#b3122e"/>
<text transform="translate(170.8 233.7) scale(0.9331 1)" x="0" y="0" font-size="6">WT Rec-IgG</text>
<rect x="164.75" y="245.95" width="2.5" height="2.5" fill="#5aae32"/>
<text transform="translate(170.8 249.3) scale(0.9306 1)" x="0" y="0" font-size="6">WT Rec-anti-IL-2</text>
<text transform="translate(170.8 256.2) scale(0.9104 1)" x="0" y="0" font-size="6">(S4B6)</text>
<circle cx="276.8" cy="231.6" r="1.4" fill="#d3168a"/>
<text transform="translate(281.6 233.7) scale(0.8855 1)" x="0" y="0" font-size="6">PD-L1<tspan dy="-2.64" font-size="3.84">-/-</tspan><tspan dy="2.64"> Rec -IgG</tspan></text>
<circle cx="276.8" cy="247.2" r="1.4" fill="#ec921e"/>
<text transform="translate(281.6 249.3) scale(0.8970 1)" x="0" y="0" font-size="6">PD-L1<tspan dy="-2.64" font-size="3.84">-/-</tspan><tspan dy="2.64"> Rec -anti-IL-2</tspan></text>
<text transform="translate(281.6 256.2) scale(0.9026 1)" x="0" y="0" font-size="6">(JES6-1A12)</text>
<circle cx="393" cy="231.6" r="1.4" fill="#1f3d87"/>
<text transform="translate(397.8 233.7) scale(0.9306 1)" x="0" y="0" font-size="6">WT Rec-anti-IL-2</text>
<text transform="translate(397.8 240.6) scale(0.9026 1)" x="0" y="0" font-size="6">(JES6-1A12)</text>
<circle cx="393" cy="247.2" r="1.4" fill="#ec921e"/>
<text transform="translate(397.8 249.3) scale(0.8970 1)" x="0" y="0" font-size="6">PD-L1<tspan dy="-2.64" font-size="3.84">-/-</tspan><tspan dy="2.64"> Rec -anti-IL-2</tspan></text>
<text transform="translate(397.8 256.2) scale(0.9026 1)" x="0" y="0" font-size="6">(JES6-1A12)</text>
<rect x="52.35" y="301.59" width="4.1" height="27.91" fill="#d39487" stroke="#c7867a" stroke-width="0.7"/>
<rect x="60.35" y="299.2" width="4.1" height="30.3" fill="#818aaf" stroke="#727ba3" stroke-width="0.7"/>
<rect x="72.85" y="315.92" width="4.1" height="13.58" fill="#d39487" stroke="#c7867a" stroke-width="0.7"/>
<rect x="80.85" y="323.48" width="4.1" height="6.02" fill="#818aaf" stroke="#727ba3" stroke-width="0.7"/>
<rect x="93.35" y="282.89" width="4.1" height="46.61" fill="#d39487" stroke="#c7867a" stroke-width="0.7"/>
<rect x="101.35" y="305.97" width="4.1" height="23.53" fill="#818aaf" stroke="#727ba3" stroke-width="0.7"/>
<line x1="54.4" y1="307.21" x2="54.4" y2="295.27" stroke="#b3122e" stroke-width="0.7"/>
<line x1="52.9" y1="295.27" x2="55.9" y2="295.27" stroke="#b3122e" stroke-width="0.7"/>
<line x1="52.9" y1="307.21" x2="55.9" y2="307.21" stroke="#b3122e" stroke-width="0.7"/>
<line x1="52" y1="301.24" x2="56.8" y2="301.24" stroke="#b3122e" stroke-width="0.7"/>
<line x1="62.4" y1="305.62" x2="62.4" y2="292.09" stroke="#1f3d87" stroke-width="0.7"/>
<line x1="60.9" y1="292.09" x2="63.9" y2="292.09" stroke="#1f3d87" stroke-width="0.7"/>
<line x1="60.9" y1="305.62" x2="63.9" y2="305.62" stroke="#1f3d87" stroke-width="0.7"/>
<line x1="60" y1="298.85" x2="64.8" y2="298.85" stroke="#1f3d87" stroke-width="0.7"/>
<line x1="74.9" y1="318.36" x2="74.9" y2="312.78" stroke="#b3122e" stroke-width="0.7"/>
<line x1="73.4" y1="312.78" x2="76.4" y2="312.78" stroke="#b3122e" stroke-width="0.7"/>
<line x1="73.4" y1="318.36" x2="76.4" y2="318.36" stroke="#b3122e" stroke-width="0.7"/>
<line x1="72.5" y1="315.57" x2="77.3" y2="315.57" stroke="#b3122e" stroke-width="0.7"/>
<line x1="82.9" y1="324.33" x2="82.9" y2="321.94" stroke="#1f3d87" stroke-width="0.7"/>
<line x1="81.4" y1="321.94" x2="84.4" y2="321.94" stroke="#1f3d87" stroke-width="0.7"/>
<line x1="81.4" y1="324.33" x2="84.4" y2="324.33" stroke="#1f3d87" stroke-width="0.7"/>
<line x1="80.5" y1="323.13" x2="85.3" y2="323.13" stroke="#1f3d87" stroke-width="0.7"/>
<line x1="95.4" y1="284.53" x2="95.4" y2="280.55" stroke="#b3122e" stroke-width="0.7"/>
<line x1="93.9" y1="280.55" x2="96.9" y2="280.55" stroke="#b3122e" stroke-width="0.7"/>
<line x1="93.9" y1="284.53" x2="96.9" y2="284.53" stroke="#b3122e" stroke-width="0.7"/>
<line x1="93" y1="282.54" x2="97.8" y2="282.54" stroke="#b3122e" stroke-width="0.7"/>
<line x1="103.4" y1="308.41" x2="103.4" y2="302.83" stroke="#1f3d87" stroke-width="0.7"/>
<line x1="101.9" y1="302.83" x2="104.9" y2="302.83" stroke="#1f3d87" stroke-width="0.7"/>
<line x1="101.9" y1="308.41" x2="104.9" y2="308.41" stroke="#1f3d87" stroke-width="0.7"/>
<line x1="101" y1="305.62" x2="105.8" y2="305.62" stroke="#1f3d87" stroke-width="0.7"/>
<circle cx="54.4" cy="275.77" r="1.42" fill="#b3122e"/>
<circle cx="52.7" cy="293.68" r="1.42" fill="#b3122e"/>
<circle cx="56.1" cy="294.48" r="1.42" fill="#b3122e"/>
<circle cx="53.55" cy="295.67" r="1.42" fill="#b3122e"/>
<circle cx="55.25" cy="297.66" r="1.42" fill="#b3122e"/>
<circle cx="52.7" cy="300.84" r="1.42" fill="#b3122e"/>
<circle cx="56.1" cy="301.64" r="1.42" fill="#b3122e"/>
<circle cx="54.4" cy="305.62" r="1.42" fill="#b3122e"/>
<circle cx="53.55" cy="311.59" r="1.42" fill="#b3122e"/>
<circle cx="55.25" cy="314.38" r="1.42" fill="#b3122e"/>
<circle cx="52.7" cy="323.53" r="1.42" fill="#b3122e"/>
<circle cx="62.4" cy="273.78" r="1.42" fill="#1f3d87"/>
<circle cx="60.7" cy="275.77" r="1.42" fill="#1f3d87"/>
<circle cx="64.1" cy="283.73" r="1.42" fill="#1f3d87"/>
<circle cx="61.55" cy="285.72" r="1.42" fill="#1f3d87"/>
<circle cx="63.25" cy="295.67" r="1.42" fill="#1f3d87"/>
<circle cx="60.7" cy="297.66" r="1.42" fill="#1f3d87"/>
<circle cx="64.1" cy="298.46" r="1.42" fill="#1f3d87"/>
<circle cx="62.4" cy="299.65" r="1.42" fill="#1f3d87"/>
<circle cx="61.55" cy="301.64" r="1.42" fill="#1f3d87"/>
<circle cx="63.25" cy="317.56" r="1.42" fill="#1f3d87"/>
<circle cx="60.7" cy="319.55" r="1.42" fill="#1f3d87"/>
<circle cx="64.1" cy="325.52" r="1.42" fill="#1f3d87"/>
<circle cx="74.9" cy="297.66" r="1.42" fill="#b3122e"/>
<circle cx="73.2" cy="303.63" r="1.42" fill="#b3122e"/>
<circle cx="76.6" cy="305.62" r="1.42" fill="#b3122e"/>
<circle cx="74.05" cy="313.58" r="1.42" fill="#b3122e"/>
<circle cx="75.75" cy="315.57" r="1.42" fill="#b3122e"/>
<circle cx="73.2" cy="316.37" r="1.42" fill="#b3122e"/>
<circle cx="76.6" cy="317.56" r="1.42" fill="#b3122e"/>
<circle cx="74.9" cy="318.36" r="1.42" fill="#b3122e"/>
<circle cx="74.05" cy="319.55" r="1.42" fill="#b3122e"/>
<circle cx="75.75" cy="321.54" r="1.42" fill="#b3122e"/>
<circle cx="73.2" cy="323.53" r="1.42" fill="#b3122e"/>
<circle cx="76.6" cy="325.52" r="1.42" fill="#b3122e"/>
<circle cx="82.9" cy="317.56" r="1.42" fill="#1f3d87"/>
<circle cx="81.2" cy="321.54" r="1.42" fill="#1f3d87"/>
<circle cx="84.6" cy="322.34" r="1.42" fill="#1f3d87"/>
<circle cx="82.05" cy="323.53" r="1.42" fill="#1f3d87"/>
<circle cx="83.75" cy="324.72" r="1.42" fill="#1f3d87"/>
<circle cx="81.2" cy="325.52" r="1.42" fill="#1f3d87"/>
<circle cx="84.6" cy="326.32" r="1.42" fill="#1f3d87"/>
<circle cx="82.9" cy="327.51" r="1.42" fill="#1f3d87"/>
<circle cx="95.4" cy="277.76" r="1.42" fill="#b3122e"/>
<circle cx="93.7" cy="279.75" r="1.42" fill="#b3122e"/>
<circle cx="97.1" cy="281.74" r="1.42" fill="#b3122e"/>
<circle cx="94.55" cy="283.73" r="1.42" fill="#b3122e"/>
<circle cx="96.25" cy="283.73" r="1.42" fill="#b3122e"/>
<circle cx="103.4" cy="299.65" r="1.42" fill="#1f3d87"/>
<circle cx="101.7" cy="300.45" r="1.42" fill="#1f3d87"/>
<circle cx="105.1" cy="305.62" r="1.42" fill="#1f3d87"/>
<circle cx="102.55" cy="307.61" r="1.42" fill="#1f3d87"/>
<circle cx="104.25" cy="312.78" r="1.42" fill="#1f3d87"/>
<line x1="49" y1="267" x2="49" y2="330.1" stroke="#231f20" stroke-width="1.4"/>
<line x1="46.2" y1="329.5" x2="49" y2="329.5" stroke="#231f20" stroke-width="1.15"/>
<text transform="translate(42.8 331.55)" x="-9.31" y="0" font-size="6.7">0.0</text>
<line x1="46.2" y1="309.6" x2="49" y2="309.6" stroke="#231f20" stroke-width="1.15"/>
<text transform="translate(42.8 311.65)" x="-9.31" y="0" font-size="6.7">0.5</text>
<line x1="46.2" y1="289.7" x2="49" y2="289.7" stroke="#231f20" stroke-width="1.15"/>
<text transform="translate(42.8 291.75)" x="-9.31" y="0" font-size="6.7">1.0</text>
<line x1="46.2" y1="269.8" x2="49" y2="269.8" stroke="#231f20" stroke-width="1.15"/>
<text transform="translate(42.8 271.85)" x="-9.31" y="0" font-size="6.7">1.5</text>
<line x1="46.2" y1="329.5" x2="109" y2="329.5" stroke="#231f20" stroke-width="1.25"/>
<line x1="58.4" y1="329.5" x2="58.4" y2="332.5" stroke="#231f20" stroke-width="1"/>
<line x1="78.9" y1="329.5" x2="78.9" y2="332.5" stroke="#231f20" stroke-width="1"/>
<line x1="99.4" y1="329.5" x2="99.4" y2="332.5" stroke="#231f20" stroke-width="1"/>
<text transform="translate(58.4 341.7)" x="-10.74" y="0" font-size="6.9">Spleen</text>
<text transform="translate(78.9 341.7)" x="-7.48" y="0" font-size="6.9">Liver</text>
<text transform="translate(99.4 341.7)" x="-9.01" y="0" font-size="6.9">Colon</text>
<line x1="74" y1="290.5" x2="85" y2="290.5" stroke="#231f20" stroke-width="0.95"/>
<text transform="translate(79.5 291.1)" x="-2.53" y="0" font-size="6.5" fill="#333">**</text>
<line x1="95.9" y1="271.5" x2="106.9" y2="271.5" stroke="#231f20" stroke-width="0.95"/>
<text transform="translate(101.4 272.1)" x="-2.53" y="0" font-size="6.5" fill="#333">**</text>
<text transform="translate(17.3 298.5) rotate(-90) scale(0.7805 1)" x="-28.83" y="0" font-size="9.4">Yield of donor</text>
<text transform="translate(27.3 298.2) rotate(-90) scale(0.7836 1)" x="-27.76" y="0" font-size="9">CD4<tspan dy="-2.34" font-size="7.65">+</tspan><tspan dy="2.34"> T(X10</tspan><tspan dy="-3.96" font-size="5.76">6</tspan><tspan dy="3.96">)</tspan></text>
<rect x="52.35" y="398.78" width="4.1" height="17.62" fill="#d39487" stroke="#c7867a" stroke-width="0.7"/>
<rect x="60.35" y="406.77" width="4.1" height="9.63" fill="#818aaf" stroke="#727ba3" stroke-width="0.7"/>
<rect x="72.85" y="410.76" width="4.1" height="5.64" fill="#d39487" stroke="#c7867a" stroke-width="0.7"/>
<rect x="80.85" y="413.75" width="4.1" height="2.64" fill="#818aaf" stroke="#727ba3" stroke-width="0.7"/>
<rect x="93.35" y="401.77" width="4.1" height="14.62" fill="#d39487" stroke="#c7867a" stroke-width="0.7"/>
<rect x="101.35" y="406.77" width="4.1" height="9.63" fill="#818aaf" stroke="#727ba3" stroke-width="0.7"/>
<line x1="54.4" y1="404.42" x2="54.4" y2="392.44" stroke="#b3122e" stroke-width="0.7"/>
<line x1="52.9" y1="392.44" x2="55.9" y2="392.44" stroke="#b3122e" stroke-width="0.7"/>
<line x1="52.9" y1="404.42" x2="55.9" y2="404.42" stroke="#b3122e" stroke-width="0.7"/>
<line x1="52" y1="398.43" x2="56.8" y2="398.43" stroke="#b3122e" stroke-width="0.7"/>
<line x1="62.4" y1="408.81" x2="62.4" y2="404.02" stroke="#1f3d87" stroke-width="0.7"/>
<line x1="60.9" y1="404.02" x2="63.9" y2="404.02" stroke="#1f3d87" stroke-width="0.7"/>
<line x1="60.9" y1="408.81" x2="63.9" y2="408.81" stroke="#1f3d87" stroke-width="0.7"/>
<line x1="60" y1="406.42" x2="64.8" y2="406.42" stroke="#1f3d87" stroke-width="0.7"/>
<line x1="74.9" y1="411.81" x2="74.9" y2="409.01" stroke="#b3122e" stroke-width="0.7"/>
<line x1="73.4" y1="409.01" x2="76.4" y2="409.01" stroke="#b3122e" stroke-width="0.7"/>
<line x1="73.4" y1="411.81" x2="76.4" y2="411.81" stroke="#b3122e" stroke-width="0.7"/>
<line x1="72.5" y1="410.41" x2="77.3" y2="410.41" stroke="#b3122e" stroke-width="0.7"/>
<line x1="82.9" y1="414" x2="82.9" y2="412.81" stroke="#1f3d87" stroke-width="0.7"/>
<line x1="81.4" y1="412.81" x2="84.4" y2="412.81" stroke="#1f3d87" stroke-width="0.7"/>
<line x1="81.4" y1="414" x2="84.4" y2="414" stroke="#1f3d87" stroke-width="0.7"/>
<line x1="80.5" y1="413.4" x2="85.3" y2="413.4" stroke="#1f3d87" stroke-width="0.7"/>
<line x1="95.4" y1="404.42" x2="95.4" y2="398.43" stroke="#b3122e" stroke-width="0.7"/>
<line x1="93.9" y1="398.43" x2="96.9" y2="398.43" stroke="#b3122e" stroke-width="0.7"/>
<line x1="93.9" y1="404.42" x2="96.9" y2="404.42" stroke="#b3122e" stroke-width="0.7"/>
<line x1="93" y1="401.42" x2="97.8" y2="401.42" stroke="#b3122e" stroke-width="0.7"/>
<line x1="103.4" y1="407.81" x2="103.4" y2="405.02" stroke="#1f3d87" stroke-width="0.7"/>
<line x1="101.9" y1="405.02" x2="104.9" y2="405.02" stroke="#1f3d87" stroke-width="0.7"/>
<line x1="101.9" y1="407.81" x2="104.9" y2="407.81" stroke="#1f3d87" stroke-width="0.7"/>
<line x1="101" y1="406.42" x2="105.8" y2="406.42" stroke="#1f3d87" stroke-width="0.7"/>
<circle cx="54.4" cy="365.49" r="1.42" fill="#b3122e"/>
<circle cx="52.7" cy="382.46" r="1.42" fill="#b3122e"/>
<circle cx="56.1" cy="384.45" r="1.42" fill="#b3122e"/>
<circle cx="53.55" cy="391.44" r="1.42" fill="#b3122e"/>
<circle cx="55.25" cy="396.43" r="1.42" fill="#b3122e"/>
<circle cx="52.7" cy="398.43" r="1.42" fill="#b3122e"/>
<circle cx="56.1" cy="402.42" r="1.42" fill="#b3122e"/>
<circle cx="54.4" cy="406.42" r="1.42" fill="#b3122e"/>
<circle cx="53.55" cy="410.41" r="1.42" fill="#b3122e"/>
<circle cx="55.25" cy="412.41" r="1.42" fill="#b3122e"/>
<circle cx="62.4" cy="392.44" r="1.42" fill="#1f3d87"/>
<circle cx="60.7" cy="398.43" r="1.42" fill="#1f3d87"/>
<circle cx="64.1" cy="399.43" r="1.42" fill="#1f3d87"/>
<circle cx="61.55" cy="402.42" r="1.42" fill="#1f3d87"/>
<circle cx="63.25" cy="404.42" r="1.42" fill="#1f3d87"/>
<circle cx="60.7" cy="406.42" r="1.42" fill="#1f3d87"/>
<circle cx="64.1" cy="407.41" r="1.42" fill="#1f3d87"/>
<circle cx="62.4" cy="408.41" r="1.42" fill="#1f3d87"/>
<circle cx="61.55" cy="410.41" r="1.42" fill="#1f3d87"/>
<circle cx="63.25" cy="412.41" r="1.42" fill="#1f3d87"/>
<circle cx="60.7" cy="414.4" r="1.42" fill="#1f3d87"/>
<circle cx="74.9" cy="400.83" r="1.42" fill="#b3122e"/>
<circle cx="73.2" cy="407.41" r="1.42" fill="#b3122e"/>
<circle cx="76.6" cy="408.41" r="1.42" fill="#b3122e"/>
<circle cx="74.05" cy="409.41" r="1.42" fill="#b3122e"/>
<circle cx="75.75" cy="410.41" r="1.42" fill="#b3122e"/>
<circle cx="73.2" cy="411.41" r="1.42" fill="#b3122e"/>
<circle cx="76.6" cy="412.41" r="1.42" fill="#b3122e"/>
<circle cx="74.9" cy="413.4" r="1.42" fill="#b3122e"/>
<circle cx="74.05" cy="414.4" r="1.42" fill="#b3122e"/>
<circle cx="82.9" cy="412.41" r="1.42" fill="#1f3d87"/>
<circle cx="81.2" cy="412.81" r="1.42" fill="#1f3d87"/>
<circle cx="84.6" cy="413.4" r="1.42" fill="#1f3d87"/>
<circle cx="82.05" cy="414" r="1.42" fill="#1f3d87"/>
<circle cx="83.75" cy="414.4" r="1.42" fill="#1f3d87"/>
<circle cx="81.2" cy="414.8" r="1.42" fill="#1f3d87"/>
<circle cx="95.4" cy="392.44" r="1.42" fill="#b3122e"/>
<circle cx="93.7" cy="393.44" r="1.42" fill="#b3122e"/>
<circle cx="97.1" cy="399.43" r="1.42" fill="#b3122e"/>
<circle cx="94.55" cy="404.42" r="1.42" fill="#b3122e"/>
<circle cx="96.25" cy="406.42" r="1.42" fill="#b3122e"/>
<circle cx="103.4" cy="403.42" r="1.42" fill="#1f3d87"/>
<circle cx="101.7" cy="404.42" r="1.42" fill="#1f3d87"/>
<circle cx="105.1" cy="405.42" r="1.42" fill="#1f3d87"/>
<circle cx="102.55" cy="407.41" r="1.42" fill="#1f3d87"/>
<circle cx="104.25" cy="409.41" r="1.42" fill="#1f3d87"/>
<line x1="49" y1="353.7" x2="49" y2="417" stroke="#231f20" stroke-width="1.4"/>
<line x1="46.2" y1="416.4" x2="49" y2="416.4" stroke="#231f20" stroke-width="1.15"/>
<text transform="translate(42.8 418.45)" x="-3.73" y="0" font-size="6.7">0</text>
<line x1="46.2" y1="396.43" x2="49" y2="396.43" stroke="#231f20" stroke-width="1.15"/>
<text transform="translate(42.8 398.48)" x="-3.73" y="0" font-size="6.7">1</text>
<line x1="46.2" y1="376.47" x2="49" y2="376.47" stroke="#231f20" stroke-width="1.15"/>
<text transform="translate(42.8 378.52)" x="-3.73" y="0" font-size="6.7">2</text>
<line x1="46.2" y1="356.5" x2="49" y2="356.5" stroke="#231f20" stroke-width="1.15"/>
<text transform="translate(42.8 358.55)" x="-3.73" y="0" font-size="6.7">3</text>
<line x1="46.2" y1="416.4" x2="109" y2="416.4" stroke="#231f20" stroke-width="1.25"/>
<line x1="58.4" y1="416.4" x2="58.4" y2="419.4" stroke="#231f20" stroke-width="1"/>
<line x1="78.9" y1="416.4" x2="78.9" y2="419.4" stroke="#231f20" stroke-width="1"/>
<line x1="99.4" y1="416.4" x2="99.4" y2="419.4" stroke="#231f20" stroke-width="1"/>
<text transform="translate(58.4 428.6)" x="-10.74" y="0" font-size="6.9">Spleen</text>
<text transform="translate(78.9 428.6)" x="-7.48" y="0" font-size="6.9">Liver</text>
<text transform="translate(99.4 428.6)" x="-9.01" y="0" font-size="6.9">Colon</text>
<text transform="translate(22.9 385) rotate(-90) scale(0.7805 1)" x="-28.83" y="0" font-size="9.4">Yield of donor</text>
<text transform="translate(32.3 384.7) rotate(-90) scale(0.7836 1)" x="-27.76" y="0" font-size="9">CD8<tspan dy="-2.34" font-size="7.65">+</tspan><tspan dy="2.34"> T(X10</tspan><tspan dy="-3.96" font-size="5.76">6</tspan><tspan dy="3.96">)</tspan></text>
<rect x="162.6" y="318.91" width="4.1" height="10.59" fill="#d39487" stroke="#c7867a" stroke-width="0.7"/>
<rect x="170.6" y="293.04" width="4.1" height="36.46" fill="#badaa2" stroke="#a9cf8e" stroke-width="0.7"/>
<rect x="183.1" y="321.89" width="4.1" height="7.61" fill="#d39487" stroke="#c7867a" stroke-width="0.7"/>
<rect x="191.1" y="313.93" width="4.1" height="15.57" fill="#badaa2" stroke="#a9cf8e" stroke-width="0.7"/>
<rect x="203.6" y="310.95" width="4.1" height="18.55" fill="#d39487" stroke="#c7867a" stroke-width="0.7"/>
<rect x="211.6" y="316.92" width="4.1" height="12.58" fill="#badaa2" stroke="#a9cf8e" stroke-width="0.7"/>
<line x1="164.65" y1="320.55" x2="164.65" y2="316.56" stroke="#b3122e" stroke-width="0.7"/>
<line x1="163.15" y1="316.56" x2="166.15" y2="316.56" stroke="#b3122e" stroke-width="0.7"/>
<line x1="163.15" y1="320.55" x2="166.15" y2="320.55" stroke="#b3122e" stroke-width="0.7"/>
<line x1="162.25" y1="318.56" x2="167.05" y2="318.56" stroke="#b3122e" stroke-width="0.7"/>
<line x1="172.65" y1="299.65" x2="172.65" y2="285.72" stroke="#5aae32" stroke-width="0.7"/>
<line x1="171.15" y1="285.72" x2="174.15" y2="285.72" stroke="#5aae32" stroke-width="0.7"/>
<line x1="171.15" y1="299.65" x2="174.15" y2="299.65" stroke="#5aae32" stroke-width="0.7"/>
<line x1="170.25" y1="292.69" x2="175.05" y2="292.69" stroke="#5aae32" stroke-width="0.7"/>
<line x1="185.15" y1="323.13" x2="185.15" y2="319.95" stroke="#b3122e" stroke-width="0.7"/>
<line x1="183.65" y1="319.95" x2="186.65" y2="319.95" stroke="#b3122e" stroke-width="0.7"/>
<line x1="183.65" y1="323.13" x2="186.65" y2="323.13" stroke="#b3122e" stroke-width="0.7"/>
<line x1="182.75" y1="321.54" x2="187.55" y2="321.54" stroke="#b3122e" stroke-width="0.7"/>
<line x1="193.15" y1="315.57" x2="193.15" y2="311.59" stroke="#5aae32" stroke-width="0.7"/>
<line x1="191.65" y1="311.59" x2="194.65" y2="311.59" stroke="#5aae32" stroke-width="0.7"/>
<line x1="191.65" y1="315.57" x2="194.65" y2="315.57" stroke="#5aae32" stroke-width="0.7"/>
<line x1="190.75" y1="313.58" x2="195.55" y2="313.58" stroke="#5aae32" stroke-width="0.7"/>
<line x1="205.65" y1="311.99" x2="205.65" y2="309.2" stroke="#b3122e" stroke-width="0.7"/>
<line x1="204.15" y1="309.2" x2="207.15" y2="309.2" stroke="#b3122e" stroke-width="0.7"/>
<line x1="204.15" y1="311.99" x2="207.15" y2="311.99" stroke="#b3122e" stroke-width="0.7"/>
<line x1="203.25" y1="310.6" x2="208.05" y2="310.6" stroke="#b3122e" stroke-width="0.7"/>
<line x1="213.65" y1="317.96" x2="213.65" y2="315.17" stroke="#5aae32" stroke-width="0.7"/>
<line x1="212.15" y1="315.17" x2="215.15" y2="315.17" stroke="#5aae32" stroke-width="0.7"/>
<line x1="212.15" y1="317.96" x2="215.15" y2="317.96" stroke="#5aae32" stroke-width="0.7"/>
<line x1="211.25" y1="316.56" x2="216.05" y2="316.56" stroke="#5aae32" stroke-width="0.7"/>
<circle cx="164.65" cy="310.6" r="1.42" fill="#b3122e"/>
<circle cx="162.95" cy="314.57" r="1.42" fill="#b3122e"/>
<circle cx="166.35" cy="317.56" r="1.42" fill="#b3122e"/>
<circle cx="163.8" cy="319.55" r="1.42" fill="#b3122e"/>
<circle cx="165.5" cy="321.54" r="1.42" fill="#b3122e"/>
<rect x="171.3" y="276.41" width="2.7" height="2.7" fill="#5aae32"/>
<rect x="169.6" y="277.4" width="2.7" height="2.7" fill="#5aae32"/>
<rect x="173" y="290.34" width="2.7" height="2.7" fill="#5aae32"/>
<rect x="170.45" y="298.3" width="2.7" height="2.7" fill="#5aae32"/>
<rect x="172.15" y="310.24" width="2.7" height="2.7" fill="#5aae32"/>
<circle cx="185.15" cy="316.56" r="1.42" fill="#b3122e"/>
<circle cx="183.45" cy="318.56" r="1.42" fill="#b3122e"/>
<circle cx="186.85" cy="320.55" r="1.42" fill="#b3122e"/>
<circle cx="184.3" cy="323.53" r="1.42" fill="#b3122e"/>
<circle cx="186" cy="325.52" r="1.42" fill="#b3122e"/>
<rect x="191.8" y="302.28" width="2.7" height="2.7" fill="#5aae32"/>
<rect x="190.1" y="310.24" width="2.7" height="2.7" fill="#5aae32"/>
<rect x="193.5" y="312.23" width="2.7" height="2.7" fill="#5aae32"/>
<rect x="190.95" y="314.22" width="2.7" height="2.7" fill="#5aae32"/>
<rect x="192.65" y="315.21" width="2.7" height="2.7" fill="#5aae32"/>
<circle cx="205.65" cy="306.62" r="1.42" fill="#b3122e"/>
<circle cx="203.95" cy="308.61" r="1.42" fill="#b3122e"/>
<circle cx="207.35" cy="309.6" r="1.42" fill="#b3122e"/>
<circle cx="204.8" cy="311.59" r="1.42" fill="#b3122e"/>
<circle cx="206.5" cy="314.57" r="1.42" fill="#b3122e"/>
<rect x="212.3" y="312.23" width="2.7" height="2.7" fill="#5aae32"/>
<rect x="210.6" y="314.22" width="2.7" height="2.7" fill="#5aae32"/>
<rect x="214" y="315.21" width="2.7" height="2.7" fill="#5aae32"/>
<rect x="211.45" y="316.21" width="2.7" height="2.7" fill="#5aae32"/>
<rect x="213.15" y="320.19" width="2.7" height="2.7" fill="#5aae32"/>
<line x1="159.25" y1="267" x2="159.25" y2="330.1" stroke="#231f20" stroke-width="1.4"/>
<line x1="156.45" y1="329.5" x2="159.25" y2="329.5" stroke="#231f20" stroke-width="1.15"/>
<text transform="translate(153.05 331.55)" x="-3.73" y="0" font-size="6.7">0</text>
<line x1="156.45" y1="309.6" x2="159.25" y2="309.6" stroke="#231f20" stroke-width="1.15"/>
<text transform="translate(153.05 311.65)" x="-3.73" y="0" font-size="6.7">1</text>
<line x1="156.45" y1="289.7" x2="159.25" y2="289.7" stroke="#231f20" stroke-width="1.15"/>
<text transform="translate(153.05 291.75)" x="-3.73" y="0" font-size="6.7">2</text>
<line x1="156.45" y1="269.8" x2="159.25" y2="269.8" stroke="#231f20" stroke-width="1.15"/>
<text transform="translate(153.05 271.85)" x="-3.73" y="0" font-size="6.7">3</text>
<line x1="156.45" y1="329.5" x2="219.25" y2="329.5" stroke="#231f20" stroke-width="1.25"/>
<line x1="168.65" y1="329.5" x2="168.65" y2="332.5" stroke="#231f20" stroke-width="1"/>
<line x1="189.15" y1="329.5" x2="189.15" y2="332.5" stroke="#231f20" stroke-width="1"/>
<line x1="209.65" y1="329.5" x2="209.65" y2="332.5" stroke="#231f20" stroke-width="1"/>
<text transform="translate(168.65 341.7)" x="-10.74" y="0" font-size="6.9">Spleen</text>
<text transform="translate(189.15 341.7)" x="-7.48" y="0" font-size="6.9">Liver</text>
<text transform="translate(209.65 341.7)" x="-9.01" y="0" font-size="6.9">Colon</text>
<text transform="translate(132.9 298.5) rotate(-90) scale(0.7805 1)" x="-28.83" y="0" font-size="9.4">Yield of donor</text>
<text transform="translate(142.9 298.2) rotate(-90) scale(0.7836 1)" x="-27.76" y="0" font-size="9">CD4<tspan dy="-2.34" font-size="7.65">+</tspan><tspan dy="2.34"> T(X10</tspan><tspan dy="-3.96" font-size="5.76">6</tspan><tspan dy="3.96">)</tspan></text>
<rect x="162.6" y="403.27" width="4.1" height="13.13" fill="#d39487" stroke="#c7867a" stroke-width="0.7"/>
<rect x="170.6" y="383.06" width="4.1" height="33.34" fill="#badaa2" stroke="#a9cf8e" stroke-width="0.7"/>
<rect x="183.1" y="410.76" width="4.1" height="5.64" fill="#d39487" stroke="#c7867a" stroke-width="0.7"/>
<rect x="191.1" y="402.52" width="4.1" height="13.88" fill="#badaa2" stroke="#a9cf8e" stroke-width="0.7"/>
<rect x="203.6" y="410.01" width="4.1" height="6.39" fill="#d39487" stroke="#c7867a" stroke-width="0.7"/>
<rect x="211.6" y="407.76" width="4.1" height="8.63" fill="#badaa2" stroke="#a9cf8e" stroke-width="0.7"/>
<line x1="164.65" y1="404.79" x2="164.65" y2="401.05" stroke="#b3122e" stroke-width="0.7"/>
<line x1="163.15" y1="401.05" x2="166.15" y2="401.05" stroke="#b3122e" stroke-width="0.7"/>
<line x1="163.15" y1="404.79" x2="166.15" y2="404.79" stroke="#b3122e" stroke-width="0.7"/>
<line x1="162.25" y1="402.92" x2="167.05" y2="402.92" stroke="#b3122e" stroke-width="0.7"/>
<line x1="172.65" y1="393.94" x2="172.65" y2="371.48" stroke="#5aae32" stroke-width="0.7"/>
<line x1="171.15" y1="371.48" x2="174.15" y2="371.48" stroke="#5aae32" stroke-width="0.7"/>
<line x1="171.15" y1="393.94" x2="174.15" y2="393.94" stroke="#5aae32" stroke-width="0.7"/>
<line x1="170.25" y1="382.71" x2="175.05" y2="382.71" stroke="#5aae32" stroke-width="0.7"/>
<line x1="185.15" y1="411.31" x2="185.15" y2="409.51" stroke="#b3122e" stroke-width="0.7"/>
<line x1="183.65" y1="409.51" x2="186.65" y2="409.51" stroke="#b3122e" stroke-width="0.7"/>
<line x1="183.65" y1="411.31" x2="186.65" y2="411.31" stroke="#b3122e" stroke-width="0.7"/>
<line x1="182.75" y1="410.41" x2="187.55" y2="410.41" stroke="#b3122e" stroke-width="0.7"/>
<line x1="193.15" y1="406.67" x2="193.15" y2="397.68" stroke="#5aae32" stroke-width="0.7"/>
<line x1="191.65" y1="397.68" x2="194.65" y2="397.68" stroke="#5aae32" stroke-width="0.7"/>
<line x1="191.65" y1="406.67" x2="194.65" y2="406.67" stroke="#5aae32" stroke-width="0.7"/>
<line x1="190.75" y1="402.17" x2="195.55" y2="402.17" stroke="#5aae32" stroke-width="0.7"/>
<line x1="205.65" y1="411.01" x2="205.65" y2="408.31" stroke="#b3122e" stroke-width="0.7"/>
<line x1="204.15" y1="408.31" x2="207.15" y2="408.31" stroke="#b3122e" stroke-width="0.7"/>
<line x1="204.15" y1="411.01" x2="207.15" y2="411.01" stroke="#b3122e" stroke-width="0.7"/>
<line x1="203.25" y1="409.66" x2="208.05" y2="409.66" stroke="#b3122e" stroke-width="0.7"/>
<line x1="213.65" y1="409.29" x2="213.65" y2="405.54" stroke="#5aae32" stroke-width="0.7"/>
<line x1="212.15" y1="405.54" x2="215.15" y2="405.54" stroke="#5aae32" stroke-width="0.7"/>
<line x1="212.15" y1="409.29" x2="215.15" y2="409.29" stroke="#5aae32" stroke-width="0.7"/>
<line x1="211.25" y1="407.41" x2="216.05" y2="407.41" stroke="#5aae32" stroke-width="0.7"/>
<circle cx="164.65" cy="399.18" r="1.42" fill="#b3122e"/>
<circle cx="162.95" cy="399.93" r="1.42" fill="#b3122e"/>
<circle cx="166.35" cy="401.42" r="1.42" fill="#b3122e"/>
<circle cx="163.8" cy="405.17" r="1.42" fill="#b3122e"/>
<circle cx="165.5" cy="409.66" r="1.42" fill="#b3122e"/>
<rect x="171.3" y="358.89" width="2.7" height="2.7" fill="#5aae32"/>
<rect x="169.6" y="358.89" width="2.7" height="2.7" fill="#5aae32"/>
<rect x="173" y="375.37" width="2.7" height="2.7" fill="#5aae32"/>
<rect x="170.45" y="398.58" width="2.7" height="2.7" fill="#5aae32"/>
<rect x="172.15" y="407.56" width="2.7" height="2.7" fill="#5aae32"/>
<circle cx="185.15" cy="407.41" r="1.42" fill="#b3122e"/>
<circle cx="183.45" cy="408.91" r="1.42" fill="#b3122e"/>
<circle cx="186.85" cy="410.41" r="1.42" fill="#b3122e"/>
<circle cx="184.3" cy="411.91" r="1.42" fill="#b3122e"/>
<circle cx="186" cy="412.66" r="1.42" fill="#b3122e"/>
<rect x="191.8" y="385.1" width="2.7" height="2.7" fill="#5aae32"/>
<rect x="190.1" y="396.33" width="2.7" height="2.7" fill="#5aae32"/>
<rect x="193.5" y="397.83" width="2.7" height="2.7" fill="#5aae32"/>
<rect x="190.95" y="407.56" width="2.7" height="2.7" fill="#5aae32"/>
<rect x="192.65" y="412.05" width="2.7" height="2.7" fill="#5aae32"/>
<circle cx="205.65" cy="405.17" r="1.42" fill="#b3122e"/>
<circle cx="203.95" cy="408.16" r="1.42" fill="#b3122e"/>
<circle cx="207.35" cy="409.66" r="1.42" fill="#b3122e"/>
<circle cx="204.8" cy="411.16" r="1.42" fill="#b3122e"/>
<circle cx="206.5" cy="413.4" r="1.42" fill="#b3122e"/>
<rect x="212.3" y="400.82" width="2.7" height="2.7" fill="#5aae32"/>
<rect x="210.6" y="403.07" width="2.7" height="2.7" fill="#5aae32"/>
<rect x="214" y="406.06" width="2.7" height="2.7" fill="#5aae32"/>
<rect x="211.45" y="410.56" width="2.7" height="2.7" fill="#5aae32"/>
<rect x="213.15" y="412.05" width="2.7" height="2.7" fill="#5aae32"/>
<line x1="159.25" y1="353.7" x2="159.25" y2="417" stroke="#231f20" stroke-width="1.4"/>
<line x1="156.45" y1="416.4" x2="159.25" y2="416.4" stroke="#231f20" stroke-width="1.15"/>
<text transform="translate(153.05 418.45)" x="-3.73" y="0" font-size="6.7">0</text>
<line x1="156.45" y1="401.42" x2="159.25" y2="401.42" stroke="#231f20" stroke-width="1.15"/>
<text transform="translate(153.05 403.47)" x="-3.73" y="0" font-size="6.7">2</text>
<line x1="156.45" y1="386.45" x2="159.25" y2="386.45" stroke="#231f20" stroke-width="1.15"/>
<text transform="translate(153.05 388.5)" x="-3.73" y="0" font-size="6.7">4</text>
<line x1="156.45" y1="371.48" x2="159.25" y2="371.48" stroke="#231f20" stroke-width="1.15"/>
<text transform="translate(153.05 373.52)" x="-3.73" y="0" font-size="6.7">6</text>
<line x1="156.45" y1="356.5" x2="159.25" y2="356.5" stroke="#231f20" stroke-width="1.15"/>
<text transform="translate(153.05 358.55)" x="-3.73" y="0" font-size="6.7">8</text>
<line x1="156.45" y1="416.4" x2="219.25" y2="416.4" stroke="#231f20" stroke-width="1.25"/>
<line x1="168.65" y1="416.4" x2="168.65" y2="419.4" stroke="#231f20" stroke-width="1"/>
<line x1="189.15" y1="416.4" x2="189.15" y2="419.4" stroke="#231f20" stroke-width="1"/>
<line x1="209.65" y1="416.4" x2="209.65" y2="419.4" stroke="#231f20" stroke-width="1"/>
<text transform="translate(168.65 428.6)" x="-10.74" y="0" font-size="6.9">Spleen</text>
<text transform="translate(189.15 428.6)" x="-7.48" y="0" font-size="6.9">Liver</text>
<text transform="translate(209.65 428.6)" x="-9.01" y="0" font-size="6.9">Colon</text>
<text transform="translate(133.3 385) rotate(-90) scale(0.7805 1)" x="-28.83" y="0" font-size="9.4">Yield of donor</text>
<text transform="translate(142.6 384.7) rotate(-90) scale(0.7836 1)" x="-27.76" y="0" font-size="9">CD8<tspan dy="-2.34" font-size="7.65">+</tspan><tspan dy="2.34"> T(X10</tspan><tspan dy="-3.96" font-size="5.76">6</tspan><tspan dy="3.96">)</tspan></text>
<polyline points="160.6,274.5 160.6,272.3 174.4,272.3 174.4,274.5" fill="none" stroke="#231f20" stroke-width="0.9"/>
<text transform="translate(167.5 272.9)" x="-5.06" y="0" font-size="6.5" fill="#333">****</text>
<polyline points="160.6,354.7 160.6,352.5 174.4,352.5 174.4,354.7" fill="none" stroke="#231f20" stroke-width="0.9"/>
<text transform="translate(167.5 353.1)" x="-1.26" y="0" font-size="6.5" fill="#333">*</text>
<rect x="278.35" y="320.15" width="4.1" height="9.35" fill="#d890ba" stroke="#cc7dac" stroke-width="0.7"/>
<rect x="286.35" y="319.4" width="4.1" height="10.1" fill="#edc893" stroke="#e4b97e" stroke-width="0.7"/>
<rect x="298.85" y="313.43" width="4.1" height="16.07" fill="#d890ba" stroke="#cc7dac" stroke-width="0.7"/>
<rect x="306.85" y="319.4" width="4.1" height="10.1" fill="#edc893" stroke="#e4b97e" stroke-width="0.7"/>
<rect x="319.35" y="295.52" width="4.1" height="33.98" fill="#d890ba" stroke="#cc7dac" stroke-width="0.7"/>
<rect x="327.35" y="308.96" width="4.1" height="20.54" fill="#edc893" stroke="#e4b97e" stroke-width="0.7"/>
<line x1="280.4" y1="321.29" x2="280.4" y2="318.31" stroke="#d3168a" stroke-width="0.7"/>
<line x1="278.9" y1="318.31" x2="281.9" y2="318.31" stroke="#d3168a" stroke-width="0.7"/>
<line x1="278.9" y1="321.29" x2="281.9" y2="321.29" stroke="#d3168a" stroke-width="0.7"/>
<line x1="278" y1="319.8" x2="282.8" y2="319.8" stroke="#d3168a" stroke-width="0.7"/>
<line x1="288.4" y1="319.8" x2="288.4" y2="318.31" stroke="#ec921e" stroke-width="0.7"/>
<line x1="286.9" y1="318.31" x2="289.9" y2="318.31" stroke="#ec921e" stroke-width="0.7"/>
<line x1="286.9" y1="319.8" x2="289.9" y2="319.8" stroke="#ec921e" stroke-width="0.7"/>
<line x1="286" y1="319.05" x2="290.8" y2="319.05" stroke="#ec921e" stroke-width="0.7"/>
<line x1="300.9" y1="316.07" x2="300.9" y2="310.1" stroke="#d3168a" stroke-width="0.7"/>
<line x1="299.4" y1="310.1" x2="302.4" y2="310.1" stroke="#d3168a" stroke-width="0.7"/>
<line x1="299.4" y1="316.07" x2="302.4" y2="316.07" stroke="#d3168a" stroke-width="0.7"/>
<line x1="298.5" y1="313.08" x2="303.3" y2="313.08" stroke="#d3168a" stroke-width="0.7"/>
<line x1="308.9" y1="319.95" x2="308.9" y2="318.16" stroke="#ec921e" stroke-width="0.7"/>
<line x1="307.4" y1="318.16" x2="310.4" y2="318.16" stroke="#ec921e" stroke-width="0.7"/>
<line x1="307.4" y1="319.95" x2="310.4" y2="319.95" stroke="#ec921e" stroke-width="0.7"/>
<line x1="306.5" y1="319.05" x2="311.3" y2="319.05" stroke="#ec921e" stroke-width="0.7"/>
<line x1="321.4" y1="298.9" x2="321.4" y2="291.44" stroke="#d3168a" stroke-width="0.7"/>
<line x1="319.9" y1="291.44" x2="322.9" y2="291.44" stroke="#d3168a" stroke-width="0.7"/>
<line x1="319.9" y1="298.9" x2="322.9" y2="298.9" stroke="#d3168a" stroke-width="0.7"/>
<line x1="319" y1="295.17" x2="323.8" y2="295.17" stroke="#d3168a" stroke-width="0.7"/>
<line x1="329.4" y1="312.34" x2="329.4" y2="304.87" stroke="#ec921e" stroke-width="0.7"/>
<line x1="327.9" y1="304.87" x2="330.9" y2="304.87" stroke="#ec921e" stroke-width="0.7"/>
<line x1="327.9" y1="312.34" x2="330.9" y2="312.34" stroke="#ec921e" stroke-width="0.7"/>
<line x1="327" y1="308.61" x2="331.8" y2="308.61" stroke="#ec921e" stroke-width="0.7"/>
<circle cx="280.4" cy="316.07" r="1.42" fill="#d3168a"/>
<circle cx="278.7" cy="318.31" r="1.42" fill="#d3168a"/>
<circle cx="282.1" cy="320.55" r="1.42" fill="#d3168a"/>
<circle cx="279.55" cy="322.04" r="1.42" fill="#d3168a"/>
<circle cx="281.25" cy="324.28" r="1.42" fill="#d3168a"/>
<circle cx="288.4" cy="317.56" r="1.42" fill="#ec921e"/>
<circle cx="286.7" cy="318.31" r="1.42" fill="#ec921e"/>
<circle cx="290.1" cy="319.05" r="1.42" fill="#ec921e"/>
<circle cx="287.55" cy="319.8" r="1.42" fill="#ec921e"/>
<circle cx="289.25" cy="320.55" r="1.42" fill="#ec921e"/>
<circle cx="300.9" cy="303.38" r="1.42" fill="#d3168a"/>
<circle cx="299.2" cy="310.1" r="1.42" fill="#d3168a"/>
<circle cx="302.6" cy="314.57" r="1.42" fill="#d3168a"/>
<circle cx="300.05" cy="317.56" r="1.42" fill="#d3168a"/>
<circle cx="301.75" cy="319.05" r="1.42" fill="#d3168a"/>
<circle cx="308.9" cy="316.81" r="1.42" fill="#ec921e"/>
<circle cx="307.2" cy="318.31" r="1.42" fill="#ec921e"/>
<circle cx="310.6" cy="319.05" r="1.42" fill="#ec921e"/>
<circle cx="308.05" cy="320.55" r="1.42" fill="#ec921e"/>
<circle cx="309.75" cy="321.29" r="1.42" fill="#ec921e"/>
<circle cx="321.4" cy="280.99" r="1.42" fill="#d3168a"/>
<circle cx="319.7" cy="293.68" r="1.42" fill="#d3168a"/>
<circle cx="323.1" cy="296.67" r="1.42" fill="#d3168a"/>
<circle cx="320.55" cy="301.14" r="1.42" fill="#d3168a"/>
<circle cx="322.25" cy="302.63" r="1.42" fill="#d3168a"/>
<circle cx="329.4" cy="295.92" r="1.42" fill="#ec921e"/>
<circle cx="327.7" cy="308.61" r="1.42" fill="#ec921e"/>
<circle cx="331.1" cy="310.1" r="1.42" fill="#ec921e"/>
<circle cx="328.55" cy="311.59" r="1.42" fill="#ec921e"/>
<circle cx="330.25" cy="316.07" r="1.42" fill="#ec921e"/>
<line x1="275" y1="267" x2="275" y2="330.1" stroke="#231f20" stroke-width="1.4"/>
<line x1="272.2" y1="329.5" x2="275" y2="329.5" stroke="#231f20" stroke-width="1.15"/>
<text transform="translate(268.8 331.55)" x="-3.73" y="0" font-size="6.7">0</text>
<line x1="272.2" y1="314.57" x2="275" y2="314.57" stroke="#231f20" stroke-width="1.15"/>
<text transform="translate(268.8 316.62)" x="-3.73" y="0" font-size="6.7">1</text>
<line x1="272.2" y1="299.65" x2="275" y2="299.65" stroke="#231f20" stroke-width="1.15"/>
<text transform="translate(268.8 301.7)" x="-3.73" y="0" font-size="6.7">2</text>
<line x1="272.2" y1="284.73" x2="275" y2="284.73" stroke="#231f20" stroke-width="1.15"/>
<text transform="translate(268.8 286.77)" x="-3.73" y="0" font-size="6.7">3</text>
<line x1="272.2" y1="269.8" x2="275" y2="269.8" stroke="#231f20" stroke-width="1.15"/>
<text transform="translate(268.8 271.85)" x="-3.73" y="0" font-size="6.7">4</text>
<line x1="272.2" y1="329.5" x2="335" y2="329.5" stroke="#231f20" stroke-width="1.25"/>
<line x1="284.4" y1="329.5" x2="284.4" y2="332.5" stroke="#231f20" stroke-width="1"/>
<line x1="304.9" y1="329.5" x2="304.9" y2="332.5" stroke="#231f20" stroke-width="1"/>
<line x1="325.4" y1="329.5" x2="325.4" y2="332.5" stroke="#231f20" stroke-width="1"/>
<text transform="translate(284.4 341.7)" x="-10.74" y="0" font-size="6.9">Spleen</text>
<text transform="translate(304.9 341.7)" x="-7.48" y="0" font-size="6.9">Liver</text>
<text transform="translate(325.4 341.7)" x="-9.01" y="0" font-size="6.9">Colon</text>
<text transform="translate(248.9 298.5) rotate(-90) scale(0.7805 1)" x="-28.83" y="0" font-size="9.4">Yield of donor</text>
<text transform="translate(258.9 298.2) rotate(-90) scale(0.7836 1)" x="-27.76" y="0" font-size="9">CD4<tspan dy="-2.34" font-size="7.65">+</tspan><tspan dy="2.34"> T(X10</tspan><tspan dy="-3.96" font-size="5.76">6</tspan><tspan dy="3.96">)</tspan></text>
<rect x="278.35" y="398.78" width="4.1" height="17.62" fill="#d890ba" stroke="#cc7dac" stroke-width="0.7"/>
<rect x="286.35" y="391.29" width="4.1" height="25.11" fill="#edc893" stroke="#e4b97e" stroke-width="0.7"/>
<rect x="298.85" y="392.79" width="4.1" height="23.61" fill="#d890ba" stroke="#cc7dac" stroke-width="0.7"/>
<rect x="306.85" y="398.78" width="4.1" height="17.62" fill="#edc893" stroke="#e4b97e" stroke-width="0.7"/>
<rect x="319.35" y="395.79" width="4.1" height="20.61" fill="#d890ba" stroke="#cc7dac" stroke-width="0.7"/>
<rect x="327.35" y="406.27" width="4.1" height="10.13" fill="#edc893" stroke="#e4b97e" stroke-width="0.7"/>
<line x1="280.4" y1="401.42" x2="280.4" y2="395.44" stroke="#d3168a" stroke-width="0.7"/>
<line x1="278.9" y1="395.44" x2="281.9" y2="395.44" stroke="#d3168a" stroke-width="0.7"/>
<line x1="278.9" y1="401.42" x2="281.9" y2="401.42" stroke="#d3168a" stroke-width="0.7"/>
<line x1="278" y1="398.43" x2="282.8" y2="398.43" stroke="#d3168a" stroke-width="0.7"/>
<line x1="288.4" y1="393.94" x2="288.4" y2="387.95" stroke="#ec921e" stroke-width="0.7"/>
<line x1="286.9" y1="387.95" x2="289.9" y2="387.95" stroke="#ec921e" stroke-width="0.7"/>
<line x1="286.9" y1="393.94" x2="289.9" y2="393.94" stroke="#ec921e" stroke-width="0.7"/>
<line x1="286" y1="390.94" x2="290.8" y2="390.94" stroke="#ec921e" stroke-width="0.7"/>
<line x1="300.9" y1="398.43" x2="300.9" y2="386.45" stroke="#d3168a" stroke-width="0.7"/>
<line x1="299.4" y1="386.45" x2="302.4" y2="386.45" stroke="#d3168a" stroke-width="0.7"/>
<line x1="299.4" y1="398.43" x2="302.4" y2="398.43" stroke="#d3168a" stroke-width="0.7"/>
<line x1="298.5" y1="392.44" x2="303.3" y2="392.44" stroke="#d3168a" stroke-width="0.7"/>
<line x1="308.9" y1="400.83" x2="308.9" y2="396.03" stroke="#ec921e" stroke-width="0.7"/>
<line x1="307.4" y1="396.03" x2="310.4" y2="396.03" stroke="#ec921e" stroke-width="0.7"/>
<line x1="307.4" y1="400.83" x2="310.4" y2="400.83" stroke="#ec921e" stroke-width="0.7"/>
<line x1="306.5" y1="398.43" x2="311.3" y2="398.43" stroke="#ec921e" stroke-width="0.7"/>
<line x1="321.4" y1="397.83" x2="321.4" y2="393.04" stroke="#d3168a" stroke-width="0.7"/>
<line x1="319.9" y1="393.04" x2="322.9" y2="393.04" stroke="#d3168a" stroke-width="0.7"/>
<line x1="319.9" y1="397.83" x2="322.9" y2="397.83" stroke="#d3168a" stroke-width="0.7"/>
<line x1="319" y1="395.44" x2="323.8" y2="395.44" stroke="#d3168a" stroke-width="0.7"/>
<line x1="329.4" y1="408.01" x2="329.4" y2="403.82" stroke="#ec921e" stroke-width="0.7"/>
<line x1="327.9" y1="403.82" x2="330.9" y2="403.82" stroke="#ec921e" stroke-width="0.7"/>
<line x1="327.9" y1="408.01" x2="330.9" y2="408.01" stroke="#ec921e" stroke-width="0.7"/>
<line x1="327" y1="405.92" x2="331.8" y2="405.92" stroke="#ec921e" stroke-width="0.7"/>
<circle cx="280.4" cy="387.35" r="1.42" fill="#d3168a"/>
<circle cx="278.7" cy="396.93" r="1.42" fill="#d3168a"/>
<circle cx="282.1" cy="398.43" r="1.42" fill="#d3168a"/>
<circle cx="279.55" cy="399.93" r="1.42" fill="#d3168a"/>
<circle cx="281.25" cy="402.92" r="1.42" fill="#d3168a"/>
<circle cx="288.4" cy="383.45" r="1.42" fill="#ec921e"/>
<circle cx="286.7" cy="386.45" r="1.42" fill="#ec921e"/>
<circle cx="290.1" cy="390.94" r="1.42" fill="#ec921e"/>
<circle cx="287.55" cy="395.44" r="1.42" fill="#ec921e"/>
<circle cx="289.25" cy="396.93" r="1.42" fill="#ec921e"/>
<circle cx="300.9" cy="372.37" r="1.42" fill="#d3168a"/>
<circle cx="299.2" cy="390.94" r="1.42" fill="#d3168a"/>
<circle cx="302.6" cy="393.94" r="1.42" fill="#d3168a"/>
<circle cx="300.05" cy="399.93" r="1.42" fill="#d3168a"/>
<circle cx="301.75" cy="404.42" r="1.42" fill="#d3168a"/>
<circle cx="308.9" cy="390.94" r="1.42" fill="#ec921e"/>
<circle cx="307.2" cy="395.44" r="1.42" fill="#ec921e"/>
<circle cx="310.6" cy="398.43" r="1.42" fill="#ec921e"/>
<circle cx="308.05" cy="401.42" r="1.42" fill="#ec921e"/>
<circle cx="309.75" cy="402.92" r="1.42" fill="#ec921e"/>
<circle cx="321.4" cy="387.05" r="1.42" fill="#d3168a"/>
<circle cx="319.7" cy="393.94" r="1.42" fill="#d3168a"/>
<circle cx="323.1" cy="395.44" r="1.42" fill="#d3168a"/>
<circle cx="320.55" cy="396.93" r="1.42" fill="#d3168a"/>
<circle cx="322.25" cy="398.43" r="1.42" fill="#d3168a"/>
<circle cx="329.4" cy="399.93" r="1.42" fill="#ec921e"/>
<circle cx="327.7" cy="402.92" r="1.42" fill="#ec921e"/>
<circle cx="331.1" cy="405.92" r="1.42" fill="#ec921e"/>
<circle cx="328.55" cy="407.41" r="1.42" fill="#ec921e"/>
<circle cx="330.25" cy="410.41" r="1.42" fill="#ec921e"/>
<line x1="275" y1="353.7" x2="275" y2="417" stroke="#231f20" stroke-width="1.4"/>
<line x1="272.2" y1="416.4" x2="275" y2="416.4" stroke="#231f20" stroke-width="1.15"/>
<text transform="translate(268.8 418.45)" x="-9.31" y="0" font-size="6.7">0.0</text>
<line x1="272.2" y1="401.42" x2="275" y2="401.42" stroke="#231f20" stroke-width="1.15"/>
<text transform="translate(268.8 403.47)" x="-9.31" y="0" font-size="6.7">0.5</text>
<line x1="272.2" y1="386.45" x2="275" y2="386.45" stroke="#231f20" stroke-width="1.15"/>
<text transform="translate(268.8 388.5)" x="-9.31" y="0" font-size="6.7">1.0</text>
<line x1="272.2" y1="371.48" x2="275" y2="371.48" stroke="#231f20" stroke-width="1.15"/>
<text transform="translate(268.8 373.52)" x="-9.31" y="0" font-size="6.7">1.5</text>
<line x1="272.2" y1="356.5" x2="275" y2="356.5" stroke="#231f20" stroke-width="1.15"/>
<text transform="translate(268.8 358.55)" x="-9.31" y="0" font-size="6.7">2.0</text>
<line x1="272.2" y1="416.4" x2="335" y2="416.4" stroke="#231f20" stroke-width="1.25"/>
<line x1="284.4" y1="416.4" x2="284.4" y2="419.4" stroke="#231f20" stroke-width="1"/>
<line x1="304.9" y1="416.4" x2="304.9" y2="419.4" stroke="#231f20" stroke-width="1"/>
<line x1="325.4" y1="416.4" x2="325.4" y2="419.4" stroke="#231f20" stroke-width="1"/>
<text transform="translate(284.4 428.6)" x="-10.74" y="0" font-size="6.9">Spleen</text>
<text transform="translate(304.9 428.6)" x="-7.48" y="0" font-size="6.9">Liver</text>
<text transform="translate(325.4 428.6)" x="-9.01" y="0" font-size="6.9">Colon</text>
<line x1="321" y1="379.5" x2="333" y2="379.5" stroke="#231f20" stroke-width="0.95"/>
<text transform="translate(327 380.1)" x="-1.26" y="0" font-size="6.5" fill="#333">*</text>
<text transform="translate(244 385) rotate(-90) scale(0.7805 1)" x="-28.83" y="0" font-size="9.4">Yield of donor</text>
<text transform="translate(253.4 384.7) rotate(-90) scale(0.7836 1)" x="-27.76" y="0" font-size="9">CD8<tspan dy="-2.34" font-size="7.65">+</tspan><tspan dy="2.34"> T(X10</tspan><tspan dy="-3.96" font-size="5.76">6</tspan><tspan dy="3.96">)</tspan></text>
<rect x="394.6" y="305.97" width="4.1" height="23.53" fill="#818aaf" stroke="#727ba3" stroke-width="0.7"/>
<rect x="402.6" y="320.9" width="4.1" height="8.6" fill="#edc893" stroke="#e4b97e" stroke-width="0.7"/>
<rect x="415.1" y="325.97" width="4.1" height="3.53" fill="#818aaf" stroke="#727ba3" stroke-width="0.7"/>
<rect x="423.1" y="320" width="4.1" height="9.5" fill="#edc893" stroke="#e4b97e" stroke-width="0.7"/>
<rect x="435.6" y="313.43" width="4.1" height="16.07" fill="#818aaf" stroke="#727ba3" stroke-width="0.7"/>
<rect x="443.6" y="277.61" width="4.1" height="51.89" fill="#edc893" stroke="#e4b97e" stroke-width="0.7"/>
<line x1="396.65" y1="310.99" x2="396.65" y2="300.25" stroke="#1f3d87" stroke-width="0.7"/>
<line x1="395.15" y1="300.25" x2="398.15" y2="300.25" stroke="#1f3d87" stroke-width="0.7"/>
<line x1="395.15" y1="310.99" x2="398.15" y2="310.99" stroke="#1f3d87" stroke-width="0.7"/>
<line x1="394.25" y1="305.62" x2="399.05" y2="305.62" stroke="#1f3d87" stroke-width="0.7"/>
<line x1="404.65" y1="322.04" x2="404.65" y2="319.05" stroke="#ec921e" stroke-width="0.7"/>
<line x1="403.15" y1="319.05" x2="406.15" y2="319.05" stroke="#ec921e" stroke-width="0.7"/>
<line x1="403.15" y1="322.04" x2="406.15" y2="322.04" stroke="#ec921e" stroke-width="0.7"/>
<line x1="402.25" y1="320.55" x2="407.05" y2="320.55" stroke="#ec921e" stroke-width="0.7"/>
<line x1="417.15" y1="326.22" x2="417.15" y2="325.02" stroke="#1f3d87" stroke-width="0.7"/>
<line x1="415.65" y1="325.02" x2="418.65" y2="325.02" stroke="#1f3d87" stroke-width="0.7"/>
<line x1="415.65" y1="326.22" x2="418.65" y2="326.22" stroke="#1f3d87" stroke-width="0.7"/>
<line x1="414.75" y1="325.62" x2="419.55" y2="325.62" stroke="#1f3d87" stroke-width="0.7"/>
<line x1="425.15" y1="320.55" x2="425.15" y2="318.75" stroke="#ec921e" stroke-width="0.7"/>
<line x1="423.65" y1="318.75" x2="426.65" y2="318.75" stroke="#ec921e" stroke-width="0.7"/>
<line x1="423.65" y1="320.55" x2="426.65" y2="320.55" stroke="#ec921e" stroke-width="0.7"/>
<line x1="422.75" y1="319.65" x2="427.55" y2="319.65" stroke="#ec921e" stroke-width="0.7"/>
<line x1="437.65" y1="315.47" x2="437.65" y2="310.69" stroke="#1f3d87" stroke-width="0.7"/>
<line x1="436.15" y1="310.69" x2="439.15" y2="310.69" stroke="#1f3d87" stroke-width="0.7"/>
<line x1="436.15" y1="315.47" x2="439.15" y2="315.47" stroke="#1f3d87" stroke-width="0.7"/>
<line x1="435.25" y1="313.08" x2="440.05" y2="313.08" stroke="#1f3d87" stroke-width="0.7"/>
<line x1="445.65" y1="279.65" x2="445.65" y2="274.87" stroke="#ec921e" stroke-width="0.7"/>
<line x1="444.15" y1="274.87" x2="447.15" y2="274.87" stroke="#ec921e" stroke-width="0.7"/>
<line x1="444.15" y1="279.65" x2="447.15" y2="279.65" stroke="#ec921e" stroke-width="0.7"/>
<line x1="443.25" y1="277.26" x2="448.05" y2="277.26" stroke="#ec921e" stroke-width="0.7"/>
<circle cx="396.65" cy="278.16" r="1.42" fill="#1f3d87"/>
<circle cx="394.95" cy="289.2" r="1.42" fill="#1f3d87"/>
<circle cx="398.35" cy="290.69" r="1.42" fill="#1f3d87"/>
<circle cx="395.8" cy="298.16" r="1.42" fill="#1f3d87"/>
<circle cx="397.5" cy="304.13" r="1.42" fill="#1f3d87"/>
<circle cx="394.95" cy="305.62" r="1.42" fill="#1f3d87"/>
<circle cx="398.35" cy="307.11" r="1.42" fill="#1f3d87"/>
<circle cx="396.65" cy="308.61" r="1.42" fill="#1f3d87"/>
<circle cx="395.8" cy="311.59" r="1.42" fill="#1f3d87"/>
<circle cx="397.5" cy="314.57" r="1.42" fill="#1f3d87"/>
<circle cx="394.95" cy="317.56" r="1.42" fill="#1f3d87"/>
<circle cx="398.35" cy="320.55" r="1.42" fill="#1f3d87"/>
<circle cx="404.65" cy="314.57" r="1.42" fill="#ec921e"/>
<circle cx="402.95" cy="316.07" r="1.42" fill="#ec921e"/>
<circle cx="406.35" cy="317.56" r="1.42" fill="#ec921e"/>
<circle cx="403.8" cy="319.05" r="1.42" fill="#ec921e"/>
<circle cx="405.5" cy="320.55" r="1.42" fill="#ec921e"/>
<circle cx="402.95" cy="322.04" r="1.42" fill="#ec921e"/>
<circle cx="406.35" cy="323.53" r="1.42" fill="#ec921e"/>
<circle cx="404.65" cy="325.02" r="1.42" fill="#ec921e"/>
<circle cx="403.8" cy="326.51" r="1.42" fill="#ec921e"/>
<circle cx="417.15" cy="324.72" r="1.42" fill="#1f3d87"/>
<circle cx="415.45" cy="325.32" r="1.42" fill="#1f3d87"/>
<circle cx="418.85" cy="325.62" r="1.42" fill="#1f3d87"/>
<circle cx="416.3" cy="325.92" r="1.42" fill="#1f3d87"/>
<circle cx="418" cy="326.51" r="1.42" fill="#1f3d87"/>
<circle cx="425.15" cy="318.16" r="1.42" fill="#ec921e"/>
<circle cx="423.45" cy="318.75" r="1.42" fill="#ec921e"/>
<circle cx="426.85" cy="319.65" r="1.42" fill="#ec921e"/>
<circle cx="424.3" cy="320.55" r="1.42" fill="#ec921e"/>
<circle cx="426" cy="322.04" r="1.42" fill="#ec921e"/>
<circle cx="437.65" cy="305.02" r="1.42" fill="#1f3d87"/>
<circle cx="435.95" cy="311.59" r="1.42" fill="#1f3d87"/>
<circle cx="439.35" cy="313.08" r="1.42" fill="#1f3d87"/>
<circle cx="436.8" cy="314.57" r="1.42" fill="#1f3d87"/>
<circle cx="438.5" cy="319.05" r="1.42" fill="#1f3d87"/>
<circle cx="445.65" cy="272.79" r="1.42" fill="#ec921e"/>
<circle cx="443.95" cy="274.28" r="1.42" fill="#ec921e"/>
<circle cx="447.35" cy="277.26" r="1.42" fill="#ec921e"/>
<circle cx="444.8" cy="280.25" r="1.42" fill="#ec921e"/>
<circle cx="446.5" cy="283.23" r="1.42" fill="#ec921e"/>
<line x1="391.25" y1="267" x2="391.25" y2="330.1" stroke="#231f20" stroke-width="1.4"/>
<line x1="388.45" y1="329.5" x2="391.25" y2="329.5" stroke="#231f20" stroke-width="1.15"/>
<text transform="translate(385.05 331.55)" x="-9.31" y="0" font-size="6.7">0.0</text>
<line x1="388.45" y1="314.57" x2="391.25" y2="314.57" stroke="#231f20" stroke-width="1.15"/>
<text transform="translate(385.05 316.62)" x="-9.31" y="0" font-size="6.7">0.5</text>
<line x1="388.45" y1="299.65" x2="391.25" y2="299.65" stroke="#231f20" stroke-width="1.15"/>
<text transform="translate(385.05 301.7)" x="-9.31" y="0" font-size="6.7">1.0</text>
<line x1="388.45" y1="284.73" x2="391.25" y2="284.73" stroke="#231f20" stroke-width="1.15"/>
<text transform="translate(385.05 286.77)" x="-9.31" y="0" font-size="6.7">1.5</text>
<line x1="388.45" y1="269.8" x2="391.25" y2="269.8" stroke="#231f20" stroke-width="1.15"/>
<text transform="translate(385.05 271.85)" x="-9.31" y="0" font-size="6.7">2.0</text>
<line x1="388.45" y1="329.5" x2="451.25" y2="329.5" stroke="#231f20" stroke-width="1.25"/>
<line x1="400.65" y1="329.5" x2="400.65" y2="332.5" stroke="#231f20" stroke-width="1"/>
<line x1="421.15" y1="329.5" x2="421.15" y2="332.5" stroke="#231f20" stroke-width="1"/>
<line x1="441.65" y1="329.5" x2="441.65" y2="332.5" stroke="#231f20" stroke-width="1"/>
<text transform="translate(400.65 341.7)" x="-10.74" y="0" font-size="6.9">Spleen</text>
<text transform="translate(421.15 341.7)" x="-7.48" y="0" font-size="6.9">Liver</text>
<text transform="translate(441.65 341.7)" x="-9.01" y="0" font-size="6.9">Colon</text>
<line x1="395.75" y1="273.5" x2="407" y2="273.5" stroke="#231f20" stroke-width="0.95"/>
<text transform="translate(401.38 274.1)" x="-2.53" y="0" font-size="6.5" fill="#333">**</text>
<line x1="414.5" y1="310.5" x2="425.75" y2="310.5" stroke="#231f20" stroke-width="0.95"/>
<text transform="translate(420.12 311.1)" x="-3.79" y="0" font-size="6.5" fill="#333">***</text>
<line x1="434.5" y1="268.5" x2="448.75" y2="268.5" stroke="#231f20" stroke-width="0.95"/>
<text transform="translate(441.62 269.1)" x="-5.06" y="0" font-size="6.5" fill="#333">****</text>
<text transform="translate(359.5 298.5) rotate(-90) scale(0.7805 1)" x="-28.83" y="0" font-size="9.4">Yield of donor</text>
<text transform="translate(369.2 298.2) rotate(-90) scale(0.7836 1)" x="-27.76" y="0" font-size="9">CD4<tspan dy="-2.34" font-size="7.65">+</tspan><tspan dy="2.34"> T(X10</tspan><tspan dy="-3.96" font-size="5.76">6</tspan><tspan dy="3.96">)</tspan></text>
<rect x="394.6" y="392.79" width="4.1" height="23.61" fill="#818aaf" stroke="#727ba3" stroke-width="0.7"/>
<rect x="402.6" y="406.27" width="4.1" height="10.13" fill="#edc893" stroke="#e4b97e" stroke-width="0.7"/>
<rect x="415.1" y="412.26" width="4.1" height="4.14" fill="#818aaf" stroke="#727ba3" stroke-width="0.7"/>
<rect x="423.1" y="409.26" width="4.1" height="7.14" fill="#edc893" stroke="#e4b97e" stroke-width="0.7"/>
<rect x="435.6" y="403.27" width="4.1" height="13.13" fill="#818aaf" stroke="#727ba3" stroke-width="0.7"/>
<rect x="443.6" y="410.76" width="4.1" height="5.64" fill="#edc893" stroke="#e4b97e" stroke-width="0.7"/>
<line x1="396.65" y1="396.93" x2="396.65" y2="387.95" stroke="#1f3d87" stroke-width="0.7"/>
<line x1="395.15" y1="387.95" x2="398.15" y2="387.95" stroke="#1f3d87" stroke-width="0.7"/>
<line x1="395.15" y1="396.93" x2="398.15" y2="396.93" stroke="#1f3d87" stroke-width="0.7"/>
<line x1="394.25" y1="392.44" x2="399.05" y2="392.44" stroke="#1f3d87" stroke-width="0.7"/>
<line x1="404.65" y1="407.12" x2="404.65" y2="404.72" stroke="#ec921e" stroke-width="0.7"/>
<line x1="403.15" y1="404.72" x2="406.15" y2="404.72" stroke="#ec921e" stroke-width="0.7"/>
<line x1="403.15" y1="407.12" x2="406.15" y2="407.12" stroke="#ec921e" stroke-width="0.7"/>
<line x1="402.25" y1="405.92" x2="407.05" y2="405.92" stroke="#ec921e" stroke-width="0.7"/>
<line x1="417.15" y1="413.4" x2="417.15" y2="410.41" stroke="#1f3d87" stroke-width="0.7"/>
<line x1="415.65" y1="410.41" x2="418.65" y2="410.41" stroke="#1f3d87" stroke-width="0.7"/>
<line x1="415.65" y1="413.4" x2="418.65" y2="413.4" stroke="#1f3d87" stroke-width="0.7"/>
<line x1="414.75" y1="411.91" x2="419.55" y2="411.91" stroke="#1f3d87" stroke-width="0.7"/>
<line x1="425.15" y1="409.51" x2="425.15" y2="408.31" stroke="#ec921e" stroke-width="0.7"/>
<line x1="423.65" y1="408.31" x2="426.65" y2="408.31" stroke="#ec921e" stroke-width="0.7"/>
<line x1="423.65" y1="409.51" x2="426.65" y2="409.51" stroke="#ec921e" stroke-width="0.7"/>
<line x1="422.75" y1="408.91" x2="427.55" y2="408.91" stroke="#ec921e" stroke-width="0.7"/>
<line x1="437.65" y1="411.91" x2="437.65" y2="393.94" stroke="#1f3d87" stroke-width="0.7"/>
<line x1="436.15" y1="393.94" x2="439.15" y2="393.94" stroke="#1f3d87" stroke-width="0.7"/>
<line x1="436.15" y1="411.91" x2="439.15" y2="411.91" stroke="#1f3d87" stroke-width="0.7"/>
<line x1="435.25" y1="402.92" x2="440.05" y2="402.92" stroke="#1f3d87" stroke-width="0.7"/>
<line x1="445.65" y1="411.91" x2="445.65" y2="408.91" stroke="#ec921e" stroke-width="0.7"/>
<line x1="444.15" y1="408.91" x2="447.15" y2="408.91" stroke="#ec921e" stroke-width="0.7"/>
<line x1="444.15" y1="411.91" x2="447.15" y2="411.91" stroke="#ec921e" stroke-width="0.7"/>
<line x1="443.25" y1="410.41" x2="448.05" y2="410.41" stroke="#ec921e" stroke-width="0.7"/>
<circle cx="396.65" cy="368.48" r="1.42" fill="#1f3d87"/>
<circle cx="394.95" cy="378.96" r="1.42" fill="#1f3d87"/>
<circle cx="398.35" cy="380.46" r="1.42" fill="#1f3d87"/>
<circle cx="395.8" cy="386.45" r="1.42" fill="#1f3d87"/>
<circle cx="397.5" cy="387.95" r="1.42" fill="#1f3d87"/>
<circle cx="394.95" cy="392.44" r="1.42" fill="#1f3d87"/>
<circle cx="398.35" cy="395.44" r="1.42" fill="#1f3d87"/>
<circle cx="396.65" cy="398.43" r="1.42" fill="#1f3d87"/>
<circle cx="395.8" cy="401.42" r="1.42" fill="#1f3d87"/>
<circle cx="397.5" cy="402.92" r="1.42" fill="#1f3d87"/>
<circle cx="394.95" cy="407.41" r="1.42" fill="#1f3d87"/>
<circle cx="404.65" cy="401.42" r="1.42" fill="#ec921e"/>
<circle cx="402.95" cy="402.92" r="1.42" fill="#ec921e"/>
<circle cx="406.35" cy="404.42" r="1.42" fill="#ec921e"/>
<circle cx="403.8" cy="405.92" r="1.42" fill="#ec921e"/>
<circle cx="405.5" cy="407.41" r="1.42" fill="#ec921e"/>
<circle cx="402.95" cy="408.91" r="1.42" fill="#ec921e"/>
<circle cx="406.35" cy="410.41" r="1.42" fill="#ec921e"/>
<circle cx="404.65" cy="411.91" r="1.42" fill="#ec921e"/>
<circle cx="417.15" cy="401.42" r="1.42" fill="#1f3d87"/>
<circle cx="415.45" cy="407.41" r="1.42" fill="#1f3d87"/>
<circle cx="418.85" cy="410.41" r="1.42" fill="#1f3d87"/>
<circle cx="416.3" cy="411.91" r="1.42" fill="#1f3d87"/>
<circle cx="418" cy="413.4" r="1.42" fill="#1f3d87"/>
<circle cx="415.45" cy="414.9" r="1.42" fill="#1f3d87"/>
<circle cx="425.15" cy="408.01" r="1.42" fill="#ec921e"/>
<circle cx="423.45" cy="408.31" r="1.42" fill="#ec921e"/>
<circle cx="426.85" cy="408.91" r="1.42" fill="#ec921e"/>
<circle cx="424.3" cy="409.81" r="1.42" fill="#ec921e"/>
<circle cx="426" cy="410.41" r="1.42" fill="#ec921e"/>
<circle cx="437.65" cy="381.96" r="1.42" fill="#1f3d87"/>
<circle cx="435.95" cy="387.95" r="1.42" fill="#1f3d87"/>
<circle cx="439.35" cy="398.43" r="1.42" fill="#1f3d87"/>
<circle cx="436.8" cy="402.92" r="1.42" fill="#1f3d87"/>
<circle cx="438.5" cy="407.41" r="1.42" fill="#1f3d87"/>
<circle cx="435.95" cy="410.41" r="1.42" fill="#1f3d87"/>
<circle cx="439.35" cy="413.4" r="1.42" fill="#1f3d87"/>
<circle cx="445.65" cy="402.92" r="1.42" fill="#ec921e"/>
<circle cx="443.95" cy="407.41" r="1.42" fill="#ec921e"/>
<circle cx="447.35" cy="410.41" r="1.42" fill="#ec921e"/>
<circle cx="444.8" cy="411.91" r="1.42" fill="#ec921e"/>
<circle cx="446.5" cy="413.4" r="1.42" fill="#ec921e"/>
<circle cx="443.95" cy="414.9" r="1.42" fill="#ec921e"/>
<line x1="391.25" y1="353.7" x2="391.25" y2="417" stroke="#231f20" stroke-width="1.4"/>
<line x1="388.45" y1="416.4" x2="391.25" y2="416.4" stroke="#231f20" stroke-width="1.15"/>
<text transform="translate(385.05 418.45)" x="-9.31" y="0" font-size="6.7">0.0</text>
<line x1="388.45" y1="401.42" x2="391.25" y2="401.42" stroke="#231f20" stroke-width="1.15"/>
<text transform="translate(385.05 403.47)" x="-9.31" y="0" font-size="6.7">0.5</text>
<line x1="388.45" y1="386.45" x2="391.25" y2="386.45" stroke="#231f20" stroke-width="1.15"/>
<text transform="translate(385.05 388.5)" x="-9.31" y="0" font-size="6.7">1.0</text>
<line x1="388.45" y1="371.48" x2="391.25" y2="371.48" stroke="#231f20" stroke-width="1.15"/>
<text transform="translate(385.05 373.52)" x="-9.31" y="0" font-size="6.7">1.5</text>
<line x1="388.45" y1="356.5" x2="391.25" y2="356.5" stroke="#231f20" stroke-width="1.15"/>
<text transform="translate(385.05 358.55)" x="-9.31" y="0" font-size="6.7">2.0</text>
<line x1="388.45" y1="416.4" x2="451.25" y2="416.4" stroke="#231f20" stroke-width="1.25"/>
<line x1="400.65" y1="416.4" x2="400.65" y2="419.4" stroke="#231f20" stroke-width="1"/>
<line x1="421.15" y1="416.4" x2="421.15" y2="419.4" stroke="#231f20" stroke-width="1"/>
<line x1="441.65" y1="416.4" x2="441.65" y2="419.4" stroke="#231f20" stroke-width="1"/>
<text transform="translate(400.65 428.6)" x="-10.74" y="0" font-size="6.9">Spleen</text>
<text transform="translate(421.15 428.6)" x="-7.48" y="0" font-size="6.9">Liver</text>
<text transform="translate(441.65 428.6)" x="-9.01" y="0" font-size="6.9">Colon</text>
<line x1="395.5" y1="362.5" x2="407" y2="362.5" stroke="#231f20" stroke-width="0.95"/>
<text transform="translate(401.25 363.1)" x="-2.53" y="0" font-size="6.5" fill="#333">**</text>
<line x1="435.75" y1="376.5" x2="448.75" y2="376.5" stroke="#231f20" stroke-width="0.95"/>
<text transform="translate(442.25 377.1)" x="-1.26" y="0" font-size="6.5" fill="#333">*</text>
<text transform="translate(360 385) rotate(-90) scale(0.7805 1)" x="-28.83" y="0" font-size="9.4">Yield of donor</text>
<text transform="translate(369.4 384.7) rotate(-90) scale(0.7836 1)" x="-27.76" y="0" font-size="9">CD8<tspan dy="-2.34" font-size="7.65">+</tspan><tspan dy="2.34"> T(X10</tspan><tspan dy="-3.96" font-size="5.76">6</tspan><tspan dy="3.96">)</tspan></text>
<text transform="translate(6.95 456.7) scale(1.0728 1)" x="0" y="0" font-size="12.8" font-weight="bold" fill="#000" style="stroke:#000;stroke-width:0.25px">G</text>
<text transform="translate(209.1 456.3) scale(1.0817 1)" x="0" y="0" font-size="12.8" font-weight="bold" fill="#000" style="stroke:#000;stroke-width:0.25px">H</text>
<text transform="translate(314.35 456.4) scale(1.5067 1)" x="0" y="0" font-size="12.8" font-weight="bold" fill="#000" style="stroke:#000;stroke-width:0.25px">I</text>
<text transform="translate(421.91 456.6) scale(0.9807 1)" x="0" y="0" font-size="12.8" font-weight="bold" fill="#000" style="stroke:#000;stroke-width:0.25px">J</text>
<circle cx="50.4" cy="452.4" r="1.4" fill="#b3122e"/>
<text transform="translate(55.2 454.5) scale(0.9150 1)" x="0" y="0" font-size="6">WT Rec-IgG</text>
<circle cx="97.6" cy="452.4" r="1.4" fill="#1f3d87"/>
<text transform="translate(102.4 454.5) scale(0.9071 1)" x="0" y="0" font-size="6">WT Rec-anti-IL-2 (JES6-1A12)</text>
<circle cx="246.3" cy="452.4" r="1.4" fill="#b3122e"/>
<text transform="translate(251.1 454.5) scale(0.9331 1)" x="0" y="0" font-size="6">WT Rec-IgG</text>
<rect x="245.05" y="466.35" width="2.5" height="2.5" fill="#5aae32"/>
<text transform="translate(251.1 469.7) scale(0.9306 1)" x="0" y="0" font-size="6">WT Rec-anti-IL-2</text>
<text transform="translate(251.1 476.6) scale(0.9104 1)" x="0" y="0" font-size="6">(S4B6)</text>
<circle cx="348" cy="452.4" r="1.4" fill="#d3168a"/>
<text transform="translate(352.8 454.5) scale(0.8855 1)" x="0" y="0" font-size="6">PD-L1<tspan dy="-2.64" font-size="3.84">-/-</tspan><tspan dy="2.64"> Rec -IgG</tspan></text>
<circle cx="348" cy="467.8" r="1.4" fill="#ec921e"/>
<text transform="translate(352.8 469.9) scale(0.8970 1)" x="0" y="0" font-size="6">PD-L1<tspan dy="-2.64" font-size="3.84">-/-</tspan><tspan dy="2.64"> Rec -anti-IL-2</tspan></text>
<text transform="translate(352.8 476.8) scale(0.9026 1)" x="0" y="0" font-size="6">(JES6-1A12)</text>
<circle cx="454.5" cy="452.4" r="1.4" fill="#1f3d87"/>
<text transform="translate(459.3 454.5) scale(0.9306 1)" x="0" y="0" font-size="6">WT Rec-anti-IL-2</text>
<text transform="translate(459.3 461.4) scale(0.9026 1)" x="0" y="0" font-size="6">(JES6-1A12)</text>
<circle cx="454.5" cy="468.2" r="1.4" fill="#ec921e"/>
<text transform="translate(459.3 470.3) scale(0.8970 1)" x="0" y="0" font-size="6">PD-L1<tspan dy="-2.64" font-size="3.84">-/-</tspan><tspan dy="2.64"> Rec -anti-IL-2</tspan></text>
<text transform="translate(459.3 477.2) scale(0.9026 1)" x="0" y="0" font-size="6">(JES6-1A12)</text>
<text transform="translate(79 486)" x="-9.97" y="0" font-size="9.2">Liver</text>
<text transform="translate(162.5 486)" x="-12.02" y="0" font-size="9.2">Colon</text>
<rect x="51.95" y="551.97" width="4.1" height="1.63" fill="#d39487" stroke="#c7867a" stroke-width="0.7"/>
<rect x="59.95" y="543.04" width="4.1" height="10.56" fill="#818aaf" stroke="#727ba3" stroke-width="0.7"/>
<rect x="72.7" y="551.97" width="4.1" height="1.63" fill="#d39487" stroke="#c7867a" stroke-width="0.7"/>
<rect x="80.7" y="543.04" width="4.1" height="10.56" fill="#818aaf" stroke="#727ba3" stroke-width="0.7"/>
<rect x="93.45" y="544.03" width="4.1" height="9.57" fill="#d39487" stroke="#c7867a" stroke-width="0.7"/>
<rect x="101.45" y="507.34" width="4.1" height="46.26" fill="#818aaf" stroke="#727ba3" stroke-width="0.7"/>
<line x1="54" y1="551.91" x2="54" y2="551.32" stroke="#b3122e" stroke-width="0.7"/>
<line x1="52.5" y1="551.32" x2="55.5" y2="551.32" stroke="#b3122e" stroke-width="0.7"/>
<line x1="52.5" y1="551.91" x2="55.5" y2="551.91" stroke="#b3122e" stroke-width="0.7"/>
<line x1="51.6" y1="551.62" x2="56.4" y2="551.62" stroke="#b3122e" stroke-width="0.7"/>
<line x1="62" y1="544.28" x2="62" y2="541.11" stroke="#1f3d87" stroke-width="0.7"/>
<line x1="60.5" y1="541.11" x2="63.5" y2="541.11" stroke="#1f3d87" stroke-width="0.7"/>
<line x1="60.5" y1="544.28" x2="63.5" y2="544.28" stroke="#1f3d87" stroke-width="0.7"/>
<line x1="59.6" y1="542.69" x2="64.4" y2="542.69" stroke="#1f3d87" stroke-width="0.7"/>
<line x1="74.75" y1="552.31" x2="74.75" y2="550.92" stroke="#b3122e" stroke-width="0.7"/>
<line x1="73.25" y1="550.92" x2="76.25" y2="550.92" stroke="#b3122e" stroke-width="0.7"/>
<line x1="73.25" y1="552.31" x2="76.25" y2="552.31" stroke="#b3122e" stroke-width="0.7"/>
<line x1="72.35" y1="551.62" x2="77.15" y2="551.62" stroke="#b3122e" stroke-width="0.7"/>
<line x1="82.75" y1="544.08" x2="82.75" y2="541.3" stroke="#1f3d87" stroke-width="0.7"/>
<line x1="81.25" y1="541.3" x2="84.25" y2="541.3" stroke="#1f3d87" stroke-width="0.7"/>
<line x1="81.25" y1="544.08" x2="84.25" y2="544.08" stroke="#1f3d87" stroke-width="0.7"/>
<line x1="80.35" y1="542.69" x2="85.15" y2="542.69" stroke="#1f3d87" stroke-width="0.7"/>
<line x1="95.5" y1="544.08" x2="95.5" y2="543.29" stroke="#b3122e" stroke-width="0.7"/>
<line x1="94" y1="543.29" x2="97" y2="543.29" stroke="#b3122e" stroke-width="0.7"/>
<line x1="94" y1="544.08" x2="97" y2="544.08" stroke="#b3122e" stroke-width="0.7"/>
<line x1="93.1" y1="543.68" x2="97.9" y2="543.68" stroke="#b3122e" stroke-width="0.7"/>
<line x1="103.5" y1="508.98" x2="103.5" y2="505.01" stroke="#1f3d87" stroke-width="0.7"/>
<line x1="102" y1="505.01" x2="105" y2="505.01" stroke="#1f3d87" stroke-width="0.7"/>
<line x1="102" y1="508.98" x2="105" y2="508.98" stroke="#1f3d87" stroke-width="0.7"/>
<line x1="101.1" y1="506.99" x2="105.9" y2="506.99" stroke="#1f3d87" stroke-width="0.7"/>
<circle cx="54" cy="551.02" r="1.42" fill="#b3122e"/>
<circle cx="52.3" cy="551.42" r="1.42" fill="#b3122e"/>
<circle cx="55.7" cy="551.62" r="1.42" fill="#b3122e"/>
<circle cx="53.15" cy="552.01" r="1.42" fill="#b3122e"/>
<circle cx="54.85" cy="552.21" r="1.42" fill="#b3122e"/>
<circle cx="62" cy="535.75" r="1.42" fill="#1f3d87"/>
<circle cx="60.3" cy="540.71" r="1.42" fill="#1f3d87"/>
<circle cx="63.7" cy="542.69" r="1.42" fill="#1f3d87"/>
<circle cx="61.15" cy="543.68" r="1.42" fill="#1f3d87"/>
<circle cx="62.85" cy="545.67" r="1.42" fill="#1f3d87"/>
<circle cx="74.75" cy="549.24" r="1.42" fill="#b3122e"/>
<circle cx="73.05" cy="551.62" r="1.42" fill="#b3122e"/>
<circle cx="76.45" cy="552.41" r="1.42" fill="#b3122e"/>
<circle cx="73.9" cy="552.61" r="1.42" fill="#b3122e"/>
<circle cx="75.6" cy="552.81" r="1.42" fill="#b3122e"/>
<circle cx="82.75" cy="538.73" r="1.42" fill="#1f3d87"/>
<circle cx="81.05" cy="540.71" r="1.42" fill="#1f3d87"/>
<circle cx="84.45" cy="542.69" r="1.42" fill="#1f3d87"/>
<circle cx="81.9" cy="544.08" r="1.42" fill="#1f3d87"/>
<circle cx="83.6" cy="546.66" r="1.42" fill="#1f3d87"/>
<circle cx="95.5" cy="542.69" r="1.42" fill="#b3122e"/>
<circle cx="93.8" cy="543.29" r="1.42" fill="#b3122e"/>
<circle cx="97.2" cy="543.68" r="1.42" fill="#b3122e"/>
<circle cx="94.65" cy="544.08" r="1.42" fill="#b3122e"/>
<circle cx="96.35" cy="544.68" r="1.42" fill="#b3122e"/>
<circle cx="103.5" cy="502.03" r="1.42" fill="#1f3d87"/>
<circle cx="101.8" cy="504.02" r="1.42" fill="#1f3d87"/>
<circle cx="105.2" cy="506.99" r="1.42" fill="#1f3d87"/>
<circle cx="102.65" cy="508.98" r="1.42" fill="#1f3d87"/>
<circle cx="104.35" cy="510.96" r="1.42" fill="#1f3d87"/>
<line x1="49" y1="491.3" x2="49" y2="554.2" stroke="#231f20" stroke-width="1.4"/>
<line x1="46.2" y1="553.6" x2="49" y2="553.6" stroke="#231f20" stroke-width="1.15"/>
<text transform="translate(42.8 555.65)" x="-3.73" y="0" font-size="6.7">0</text>
<line x1="46.2" y1="533.77" x2="49" y2="533.77" stroke="#231f20" stroke-width="1.15"/>
<text transform="translate(42.8 535.82)" x="-7.45" y="0" font-size="6.7">10</text>
<line x1="46.2" y1="513.93" x2="49" y2="513.93" stroke="#231f20" stroke-width="1.15"/>
<text transform="translate(42.8 515.98)" x="-7.45" y="0" font-size="6.7">20</text>
<line x1="46.2" y1="494.1" x2="49" y2="494.1" stroke="#231f20" stroke-width="1.15"/>
<text transform="translate(42.8 496.15)" x="-7.45" y="0" font-size="6.7">30</text>
<line x1="46.2" y1="553.6" x2="109" y2="553.6" stroke="#231f20" stroke-width="1.25"/>
<line x1="58" y1="553.6" x2="58" y2="556.6" stroke="#231f20" stroke-width="1"/>
<line x1="78.75" y1="553.6" x2="78.75" y2="556.6" stroke="#231f20" stroke-width="1"/>
<line x1="99.5" y1="553.6" x2="99.5" y2="556.6" stroke="#231f20" stroke-width="1"/>
<text transform="translate(58 565.2)" x="-1.84" y="0" font-size="6.6">7</text>
<text transform="translate(78.75 565.2)" x="-3.67" y="0" font-size="6.6">10</text>
<text transform="translate(99.5 565.2)" x="-3.67" y="0" font-size="6.6">14</text>
<line x1="51" y1="530.5" x2="63.2" y2="530.5" stroke="#231f20" stroke-width="0.95"/>
<text transform="translate(57.1 531.1)" x="-5.06" y="0" font-size="6.5" fill="#333">****</text>
<line x1="71" y1="533.5" x2="83.8" y2="533.5" stroke="#231f20" stroke-width="0.95"/>
<text transform="translate(77.4 534.1)" x="-3.79" y="0" font-size="6.5" fill="#333">***</text>
<line x1="93.7" y1="496.5" x2="106.6" y2="496.5" stroke="#231f20" stroke-width="0.95"/>
<text transform="translate(100.15 497.1)" x="-5.06" y="0" font-size="6.5" fill="#333">****</text>
<text transform="translate(30.2 522.3) rotate(-90) scale(0.7816 1)" x="-49.26" y="0" font-size="8.8">%PD-1<tspan dy="-2.29" font-size="7.48">+</tspan><tspan dy="2.29"> Eomes</tspan><tspan dy="-2.29" font-size="7.48">+</tspan><tspan dy="2.29"> CD4</tspan><tspan dy="-2.29" font-size="7.48">+</tspan><tspan dy="2.29"> T</tspan></text>
<rect x="135.45" y="551.87" width="4.1" height="1.73" fill="#d39487" stroke="#c7867a" stroke-width="0.7"/>
<rect x="143.45" y="549.49" width="4.1" height="4.11" fill="#818aaf" stroke="#727ba3" stroke-width="0.7"/>
<rect x="156.2" y="552.46" width="4.1" height="1.14" fill="#d39487" stroke="#c7867a" stroke-width="0.7"/>
<rect x="164.2" y="545.03" width="4.1" height="8.58" fill="#818aaf" stroke="#727ba3" stroke-width="0.7"/>
<rect x="176.95" y="548" width="4.1" height="5.6" fill="#d39487" stroke="#c7867a" stroke-width="0.7"/>
<rect x="184.95" y="504.27" width="4.1" height="49.33" fill="#818aaf" stroke="#727ba3" stroke-width="0.7"/>
<line x1="137.5" y1="551.82" x2="137.5" y2="551.22" stroke="#b3122e" stroke-width="0.7"/>
<line x1="136" y1="551.22" x2="139" y2="551.22" stroke="#b3122e" stroke-width="0.7"/>
<line x1="136" y1="551.82" x2="139" y2="551.82" stroke="#b3122e" stroke-width="0.7"/>
<line x1="135.1" y1="551.52" x2="139.9" y2="551.52" stroke="#b3122e" stroke-width="0.7"/>
<line x1="145.5" y1="549.73" x2="145.5" y2="548.54" stroke="#1f3d87" stroke-width="0.7"/>
<line x1="144" y1="548.54" x2="147" y2="548.54" stroke="#1f3d87" stroke-width="0.7"/>
<line x1="144" y1="549.73" x2="147" y2="549.73" stroke="#1f3d87" stroke-width="0.7"/>
<line x1="143.1" y1="549.14" x2="147.9" y2="549.14" stroke="#1f3d87" stroke-width="0.7"/>
<line x1="158.25" y1="552.41" x2="158.25" y2="551.82" stroke="#b3122e" stroke-width="0.7"/>
<line x1="156.75" y1="551.82" x2="159.75" y2="551.82" stroke="#b3122e" stroke-width="0.7"/>
<line x1="156.75" y1="552.41" x2="159.75" y2="552.41" stroke="#b3122e" stroke-width="0.7"/>
<line x1="155.85" y1="552.11" x2="160.65" y2="552.11" stroke="#b3122e" stroke-width="0.7"/>
<line x1="166.25" y1="546.46" x2="166.25" y2="542.89" stroke="#1f3d87" stroke-width="0.7"/>
<line x1="164.75" y1="542.89" x2="167.75" y2="542.89" stroke="#1f3d87" stroke-width="0.7"/>
<line x1="164.75" y1="546.46" x2="167.75" y2="546.46" stroke="#1f3d87" stroke-width="0.7"/>
<line x1="163.85" y1="544.68" x2="168.65" y2="544.68" stroke="#1f3d87" stroke-width="0.7"/>
<line x1="179" y1="547.95" x2="179" y2="547.35" stroke="#b3122e" stroke-width="0.7"/>
<line x1="177.5" y1="547.35" x2="180.5" y2="547.35" stroke="#b3122e" stroke-width="0.7"/>
<line x1="177.5" y1="547.95" x2="180.5" y2="547.95" stroke="#b3122e" stroke-width="0.7"/>
<line x1="176.6" y1="547.65" x2="181.4" y2="547.65" stroke="#b3122e" stroke-width="0.7"/>
<line x1="187" y1="505.41" x2="187" y2="502.43" stroke="#1f3d87" stroke-width="0.7"/>
<line x1="185.5" y1="502.43" x2="188.5" y2="502.43" stroke="#1f3d87" stroke-width="0.7"/>
<line x1="185.5" y1="505.41" x2="188.5" y2="505.41" stroke="#1f3d87" stroke-width="0.7"/>
<line x1="184.6" y1="503.92" x2="189.4" y2="503.92" stroke="#1f3d87" stroke-width="0.7"/>
<circle cx="137.5" cy="550.62" r="1.42" fill="#b3122e"/>
<circle cx="135.8" cy="551.22" r="1.42" fill="#b3122e"/>
<circle cx="139.2" cy="551.82" r="1.42" fill="#b3122e"/>
<circle cx="136.65" cy="552.11" r="1.42" fill="#b3122e"/>
<circle cx="138.35" cy="552.41" r="1.42" fill="#b3122e"/>
<circle cx="145.5" cy="547.65" r="1.42" fill="#1f3d87"/>
<circle cx="143.8" cy="548.25" r="1.42" fill="#1f3d87"/>
<circle cx="147.2" cy="549.14" r="1.42" fill="#1f3d87"/>
<circle cx="144.65" cy="550.03" r="1.42" fill="#1f3d87"/>
<circle cx="146.35" cy="550.62" r="1.42" fill="#1f3d87"/>
<circle cx="158.25" cy="551.22" r="1.42" fill="#b3122e"/>
<circle cx="156.55" cy="551.82" r="1.42" fill="#b3122e"/>
<circle cx="159.95" cy="552.11" r="1.42" fill="#b3122e"/>
<circle cx="157.4" cy="552.41" r="1.42" fill="#b3122e"/>
<circle cx="159.1" cy="552.71" r="1.42" fill="#b3122e"/>
<circle cx="166.25" cy="540.21" r="1.42" fill="#1f3d87"/>
<circle cx="164.55" cy="540.81" r="1.42" fill="#1f3d87"/>
<circle cx="167.95" cy="545.27" r="1.42" fill="#1f3d87"/>
<circle cx="165.4" cy="547.65" r="1.42" fill="#1f3d87"/>
<circle cx="167.1" cy="548.54" r="1.42" fill="#1f3d87"/>
<circle cx="179" cy="546.76" r="1.42" fill="#b3122e"/>
<circle cx="177.3" cy="547.35" r="1.42" fill="#b3122e"/>
<circle cx="180.7" cy="547.65" r="1.42" fill="#b3122e"/>
<circle cx="178.15" cy="547.95" r="1.42" fill="#b3122e"/>
<circle cx="179.85" cy="548.25" r="1.42" fill="#b3122e"/>
<circle cx="187" cy="500.05" r="1.42" fill="#1f3d87"/>
<circle cx="185.3" cy="503.03" r="1.42" fill="#1f3d87"/>
<circle cx="188.7" cy="504.51" r="1.42" fill="#1f3d87"/>
<circle cx="186.15" cy="506" r="1.42" fill="#1f3d87"/>
<circle cx="187.85" cy="507.49" r="1.42" fill="#1f3d87"/>
<line x1="132.5" y1="491.3" x2="132.5" y2="554.2" stroke="#231f20" stroke-width="1.4"/>
<line x1="129.7" y1="553.6" x2="132.5" y2="553.6" stroke="#231f20" stroke-width="1.15"/>
<text transform="translate(126.3 555.65)" x="-3.73" y="0" font-size="6.7">0</text>
<line x1="129.7" y1="538.73" x2="132.5" y2="538.73" stroke="#231f20" stroke-width="1.15"/>
<text transform="translate(126.3 540.77)" x="-3.73" y="0" font-size="6.7">5</text>
<line x1="129.7" y1="523.85" x2="132.5" y2="523.85" stroke="#231f20" stroke-width="1.15"/>
<text transform="translate(126.3 525.9)" x="-7.45" y="0" font-size="6.7">10</text>
<line x1="129.7" y1="508.98" x2="132.5" y2="508.98" stroke="#231f20" stroke-width="1.15"/>
<text transform="translate(126.3 511.02)" x="-7.45" y="0" font-size="6.7">15</text>
<line x1="129.7" y1="494.1" x2="132.5" y2="494.1" stroke="#231f20" stroke-width="1.15"/>
<text transform="translate(126.3 496.15)" x="-7.45" y="0" font-size="6.7">20</text>
<line x1="129.7" y1="553.6" x2="192.5" y2="553.6" stroke="#231f20" stroke-width="1.25"/>
<line x1="141.5" y1="553.6" x2="141.5" y2="556.6" stroke="#231f20" stroke-width="1"/>
<line x1="162.25" y1="553.6" x2="162.25" y2="556.6" stroke="#231f20" stroke-width="1"/>
<line x1="183" y1="553.6" x2="183" y2="556.6" stroke="#231f20" stroke-width="1"/>
<text transform="translate(141.5 565.2)" x="-1.84" y="0" font-size="6.6">7</text>
<text transform="translate(162.25 565.2)" x="-3.67" y="0" font-size="6.6">10</text>
<text transform="translate(183 565.2)" x="-3.67" y="0" font-size="6.6">14</text>
<line x1="133.75" y1="540.5" x2="146.25" y2="540.5" stroke="#231f20" stroke-width="0.95"/>
<text transform="translate(140 541.1)" x="-2.53" y="0" font-size="6.5" fill="#333">**</text>
<line x1="159.5" y1="532.5" x2="167" y2="532.5" stroke="#231f20" stroke-width="0.95"/>
<text transform="translate(163.25 533.1)" x="-3.79" y="0" font-size="6.5" fill="#333">***</text>
<line x1="175" y1="498.5" x2="185.5" y2="498.5" stroke="#231f20" stroke-width="0.95"/>
<text transform="translate(180.25 499.1)" x="-5.06" y="0" font-size="6.5" fill="#333">****</text>
<rect x="51.95" y="640.83" width="4.1" height="5.57" fill="#d39487" stroke="#c7867a" stroke-width="0.7"/>
<rect x="59.95" y="633.43" width="4.1" height="12.97" fill="#818aaf" stroke="#727ba3" stroke-width="0.7"/>
<rect x="72.7" y="639.35" width="4.1" height="7.05" fill="#d39487" stroke="#c7867a" stroke-width="0.7"/>
<rect x="80.7" y="620.85" width="4.1" height="25.55" fill="#818aaf" stroke="#727ba3" stroke-width="0.7"/>
<rect x="93.45" y="624.55" width="4.1" height="21.85" fill="#d39487" stroke="#c7867a" stroke-width="0.7"/>
<rect x="101.45" y="596.43" width="4.1" height="49.97" fill="#818aaf" stroke="#727ba3" stroke-width="0.7"/>
<line x1="54" y1="641.22" x2="54" y2="639.74" stroke="#b3122e" stroke-width="0.7"/>
<line x1="52.5" y1="639.74" x2="55.5" y2="639.74" stroke="#b3122e" stroke-width="0.7"/>
<line x1="52.5" y1="641.22" x2="55.5" y2="641.22" stroke="#b3122e" stroke-width="0.7"/>
<line x1="51.6" y1="640.48" x2="56.4" y2="640.48" stroke="#b3122e" stroke-width="0.7"/>
<line x1="62" y1="634.93" x2="62" y2="631.23" stroke="#1f3d87" stroke-width="0.7"/>
<line x1="60.5" y1="631.23" x2="63.5" y2="631.23" stroke="#1f3d87" stroke-width="0.7"/>
<line x1="60.5" y1="634.93" x2="63.5" y2="634.93" stroke="#1f3d87" stroke-width="0.7"/>
<line x1="59.6" y1="633.08" x2="64.4" y2="633.08" stroke="#1f3d87" stroke-width="0.7"/>
<line x1="74.75" y1="640.85" x2="74.75" y2="637.15" stroke="#b3122e" stroke-width="0.7"/>
<line x1="73.25" y1="637.15" x2="76.25" y2="637.15" stroke="#b3122e" stroke-width="0.7"/>
<line x1="73.25" y1="640.85" x2="76.25" y2="640.85" stroke="#b3122e" stroke-width="0.7"/>
<line x1="72.35" y1="639" x2="77.15" y2="639" stroke="#b3122e" stroke-width="0.7"/>
<line x1="82.75" y1="622.72" x2="82.75" y2="618.28" stroke="#1f3d87" stroke-width="0.7"/>
<line x1="81.25" y1="618.28" x2="84.25" y2="618.28" stroke="#1f3d87" stroke-width="0.7"/>
<line x1="81.25" y1="622.72" x2="84.25" y2="622.72" stroke="#1f3d87" stroke-width="0.7"/>
<line x1="80.35" y1="620.5" x2="85.15" y2="620.5" stroke="#1f3d87" stroke-width="0.7"/>
<line x1="95.5" y1="624.57" x2="95.5" y2="623.83" stroke="#b3122e" stroke-width="0.7"/>
<line x1="94" y1="623.83" x2="97" y2="623.83" stroke="#b3122e" stroke-width="0.7"/>
<line x1="94" y1="624.57" x2="97" y2="624.57" stroke="#b3122e" stroke-width="0.7"/>
<line x1="93.1" y1="624.2" x2="97.9" y2="624.2" stroke="#b3122e" stroke-width="0.7"/>
<line x1="103.5" y1="597.19" x2="103.5" y2="594.97" stroke="#1f3d87" stroke-width="0.7"/>
<line x1="102" y1="594.97" x2="105" y2="594.97" stroke="#1f3d87" stroke-width="0.7"/>
<line x1="102" y1="597.19" x2="105" y2="597.19" stroke="#1f3d87" stroke-width="0.7"/>
<line x1="101.1" y1="596.08" x2="105.9" y2="596.08" stroke="#1f3d87" stroke-width="0.7"/>
<circle cx="54" cy="639" r="1.42" fill="#b3122e"/>
<circle cx="52.3" cy="639.74" r="1.42" fill="#b3122e"/>
<circle cx="55.7" cy="640.48" r="1.42" fill="#b3122e"/>
<circle cx="53.15" cy="641.22" r="1.42" fill="#b3122e"/>
<circle cx="54.85" cy="642.7" r="1.42" fill="#b3122e"/>
<circle cx="62" cy="627.16" r="1.42" fill="#1f3d87"/>
<circle cx="60.3" cy="630.12" r="1.42" fill="#1f3d87"/>
<circle cx="63.7" cy="632.34" r="1.42" fill="#1f3d87"/>
<circle cx="61.15" cy="634.56" r="1.42" fill="#1f3d87"/>
<circle cx="62.85" cy="637.52" r="1.42" fill="#1f3d87"/>
<circle cx="74.75" cy="633.08" r="1.42" fill="#b3122e"/>
<circle cx="73.05" cy="637.52" r="1.42" fill="#b3122e"/>
<circle cx="76.45" cy="639" r="1.42" fill="#b3122e"/>
<circle cx="73.9" cy="641.22" r="1.42" fill="#b3122e"/>
<circle cx="75.6" cy="642.7" r="1.42" fill="#b3122e"/>
<circle cx="82.75" cy="610.14" r="1.42" fill="#1f3d87"/>
<circle cx="81.05" cy="616.8" r="1.42" fill="#1f3d87"/>
<circle cx="84.45" cy="620.5" r="1.42" fill="#1f3d87"/>
<circle cx="81.9" cy="622.72" r="1.42" fill="#1f3d87"/>
<circle cx="83.6" cy="624.2" r="1.42" fill="#1f3d87"/>
<circle cx="95.5" cy="623.46" r="1.42" fill="#b3122e"/>
<circle cx="93.8" cy="623.83" r="1.42" fill="#b3122e"/>
<circle cx="97.2" cy="624.2" r="1.42" fill="#b3122e"/>
<circle cx="94.65" cy="624.57" r="1.42" fill="#b3122e"/>
<circle cx="96.35" cy="624.94" r="1.42" fill="#b3122e"/>
<circle cx="103.5" cy="591.64" r="1.42" fill="#1f3d87"/>
<circle cx="101.8" cy="593.86" r="1.42" fill="#1f3d87"/>
<circle cx="105.2" cy="595.34" r="1.42" fill="#1f3d87"/>
<circle cx="102.65" cy="596.82" r="1.42" fill="#1f3d87"/>
<circle cx="104.35" cy="597.56" r="1.42" fill="#1f3d87"/>
<line x1="49" y1="584.4" x2="49" y2="647" stroke="#231f20" stroke-width="1.4"/>
<line x1="46.2" y1="646.4" x2="49" y2="646.4" stroke="#231f20" stroke-width="1.15"/>
<text transform="translate(42.8 648.45)" x="-3.73" y="0" font-size="6.7">0</text>
<line x1="46.2" y1="631.6" x2="49" y2="631.6" stroke="#231f20" stroke-width="1.15"/>
<text transform="translate(42.8 633.65)" x="-7.45" y="0" font-size="6.7">20</text>
<line x1="46.2" y1="616.8" x2="49" y2="616.8" stroke="#231f20" stroke-width="1.15"/>
<text transform="translate(42.8 618.85)" x="-7.45" y="0" font-size="6.7">40</text>
<line x1="46.2" y1="602" x2="49" y2="602" stroke="#231f20" stroke-width="1.15"/>
<text transform="translate(42.8 604.05)" x="-7.45" y="0" font-size="6.7">60</text>
<line x1="46.2" y1="587.2" x2="49" y2="587.2" stroke="#231f20" stroke-width="1.15"/>
<text transform="translate(42.8 589.25)" x="-7.45" y="0" font-size="6.7">80</text>
<line x1="46.2" y1="646.4" x2="109" y2="646.4" stroke="#231f20" stroke-width="1.25"/>
<line x1="58" y1="646.4" x2="58" y2="649.4" stroke="#231f20" stroke-width="1"/>
<line x1="78.75" y1="646.4" x2="78.75" y2="649.4" stroke="#231f20" stroke-width="1"/>
<line x1="99.5" y1="646.4" x2="99.5" y2="649.4" stroke="#231f20" stroke-width="1"/>
<text transform="translate(58 658)" x="-1.84" y="0" font-size="6.6">7</text>
<text transform="translate(78.75 658)" x="-3.67" y="0" font-size="6.6">10</text>
<text transform="translate(99.5 658)" x="-3.67" y="0" font-size="6.6">14</text>
<line x1="52.5" y1="620.5" x2="61.25" y2="620.5" stroke="#231f20" stroke-width="0.95"/>
<text transform="translate(56.88 621.1)" x="-2.53" y="0" font-size="6.5" fill="#333">**</text>
<line x1="70" y1="605.5" x2="82.5" y2="605.5" stroke="#231f20" stroke-width="0.95"/>
<text transform="translate(76.25 606.1)" x="-5.06" y="0" font-size="6.5" fill="#333">****</text>
<line x1="93" y1="587.5" x2="106.25" y2="587.5" stroke="#231f20" stroke-width="0.95"/>
<text transform="translate(99.62 588.1)" x="-5.06" y="0" font-size="6.5" fill="#333">****</text>
<text transform="translate(30.2 616) rotate(-90) scale(0.7816 1)" x="-49.26" y="0" font-size="8.8">%PD-1<tspan dy="-2.29" font-size="7.48">+</tspan><tspan dy="2.29"> Eomes</tspan><tspan dy="-2.29" font-size="7.48">+</tspan><tspan dy="2.29"> CD8</tspan><tspan dy="-2.29" font-size="7.48">+</tspan><tspan dy="2.29"> T</tspan></text>
<rect x="135.45" y="640.83" width="4.1" height="5.57" fill="#d39487" stroke="#c7867a" stroke-width="0.7"/>
<rect x="143.45" y="633.43" width="4.1" height="12.97" fill="#818aaf" stroke="#727ba3" stroke-width="0.7"/>
<rect x="156.2" y="645.27" width="4.1" height="1.13" fill="#d39487" stroke="#c7867a" stroke-width="0.7"/>
<rect x="164.2" y="637.13" width="4.1" height="9.27" fill="#818aaf" stroke="#727ba3" stroke-width="0.7"/>
<rect x="176.95" y="634.91" width="4.1" height="11.49" fill="#d39487" stroke="#c7867a" stroke-width="0.7"/>
<rect x="184.95" y="602.35" width="4.1" height="44.05" fill="#818aaf" stroke="#727ba3" stroke-width="0.7"/>
<line x1="137.5" y1="641.37" x2="137.5" y2="639.59" stroke="#b3122e" stroke-width="0.7"/>
<line x1="136" y1="639.59" x2="139" y2="639.59" stroke="#b3122e" stroke-width="0.7"/>
<line x1="136" y1="641.37" x2="139" y2="641.37" stroke="#b3122e" stroke-width="0.7"/>
<line x1="135.1" y1="640.48" x2="139.9" y2="640.48" stroke="#b3122e" stroke-width="0.7"/>
<line x1="145.5" y1="634.93" x2="145.5" y2="631.23" stroke="#1f3d87" stroke-width="0.7"/>
<line x1="144" y1="631.23" x2="147" y2="631.23" stroke="#1f3d87" stroke-width="0.7"/>
<line x1="144" y1="634.93" x2="147" y2="634.93" stroke="#1f3d87" stroke-width="0.7"/>
<line x1="143.1" y1="633.08" x2="147.9" y2="633.08" stroke="#1f3d87" stroke-width="0.7"/>
<line x1="158.25" y1="645.22" x2="158.25" y2="644.62" stroke="#b3122e" stroke-width="0.7"/>
<line x1="156.75" y1="644.62" x2="159.75" y2="644.62" stroke="#b3122e" stroke-width="0.7"/>
<line x1="156.75" y1="645.22" x2="159.75" y2="645.22" stroke="#b3122e" stroke-width="0.7"/>
<line x1="155.85" y1="644.92" x2="160.65" y2="644.92" stroke="#b3122e" stroke-width="0.7"/>
<line x1="166.25" y1="639" x2="166.25" y2="634.56" stroke="#1f3d87" stroke-width="0.7"/>
<line x1="164.75" y1="634.56" x2="167.75" y2="634.56" stroke="#1f3d87" stroke-width="0.7"/>
<line x1="164.75" y1="639" x2="167.75" y2="639" stroke="#1f3d87" stroke-width="0.7"/>
<line x1="163.85" y1="636.78" x2="168.65" y2="636.78" stroke="#1f3d87" stroke-width="0.7"/>
<line x1="179" y1="635.45" x2="179" y2="633.67" stroke="#b3122e" stroke-width="0.7"/>
<line x1="177.5" y1="633.67" x2="180.5" y2="633.67" stroke="#b3122e" stroke-width="0.7"/>
<line x1="177.5" y1="635.45" x2="180.5" y2="635.45" stroke="#b3122e" stroke-width="0.7"/>
<line x1="176.6" y1="634.56" x2="181.4" y2="634.56" stroke="#b3122e" stroke-width="0.7"/>
<line x1="187" y1="603.48" x2="187" y2="600.52" stroke="#1f3d87" stroke-width="0.7"/>
<line x1="185.5" y1="600.52" x2="188.5" y2="600.52" stroke="#1f3d87" stroke-width="0.7"/>
<line x1="185.5" y1="603.48" x2="188.5" y2="603.48" stroke="#1f3d87" stroke-width="0.7"/>
<line x1="184.6" y1="602" x2="189.4" y2="602" stroke="#1f3d87" stroke-width="0.7"/>
<circle cx="137.5" cy="638.26" r="1.42" fill="#b3122e"/>
<circle cx="135.8" cy="639.74" r="1.42" fill="#b3122e"/>
<circle cx="139.2" cy="640.48" r="1.42" fill="#b3122e"/>
<circle cx="136.65" cy="641.96" r="1.42" fill="#b3122e"/>
<circle cx="138.35" cy="643.44" r="1.42" fill="#b3122e"/>
<circle cx="145.5" cy="627.16" r="1.42" fill="#1f3d87"/>
<circle cx="143.8" cy="630.12" r="1.42" fill="#1f3d87"/>
<circle cx="147.2" cy="633.08" r="1.42" fill="#1f3d87"/>
<circle cx="144.65" cy="635.3" r="1.42" fill="#1f3d87"/>
<circle cx="146.35" cy="638.26" r="1.42" fill="#1f3d87"/>
<circle cx="158.25" cy="644.18" r="1.42" fill="#b3122e"/>
<circle cx="156.55" cy="644.55" r="1.42" fill="#b3122e"/>
<circle cx="159.95" cy="644.92" r="1.42" fill="#b3122e"/>
<circle cx="157.4" cy="645.29" r="1.42" fill="#b3122e"/>
<circle cx="159.1" cy="645.66" r="1.42" fill="#b3122e"/>
<circle cx="166.25" cy="628.64" r="1.42" fill="#1f3d87"/>
<circle cx="164.55" cy="633.08" r="1.42" fill="#1f3d87"/>
<circle cx="167.95" cy="637.52" r="1.42" fill="#1f3d87"/>
<circle cx="165.4" cy="639.74" r="1.42" fill="#1f3d87"/>
<circle cx="167.1" cy="641.22" r="1.42" fill="#1f3d87"/>
<circle cx="179" cy="631.6" r="1.42" fill="#b3122e"/>
<circle cx="177.3" cy="633.08" r="1.42" fill="#b3122e"/>
<circle cx="180.7" cy="634.56" r="1.42" fill="#b3122e"/>
<circle cx="178.15" cy="635.3" r="1.42" fill="#b3122e"/>
<circle cx="179.85" cy="636.04" r="1.42" fill="#b3122e"/>
<circle cx="187" cy="598.3" r="1.42" fill="#1f3d87"/>
<circle cx="185.3" cy="599.78" r="1.42" fill="#1f3d87"/>
<circle cx="188.7" cy="601.26" r="1.42" fill="#1f3d87"/>
<circle cx="186.15" cy="603.48" r="1.42" fill="#1f3d87"/>
<circle cx="187.85" cy="605.7" r="1.42" fill="#1f3d87"/>
<line x1="132.5" y1="584.4" x2="132.5" y2="647" stroke="#231f20" stroke-width="1.4"/>
<line x1="129.7" y1="646.4" x2="132.5" y2="646.4" stroke="#231f20" stroke-width="1.15"/>
<text transform="translate(126.3 648.45)" x="-3.73" y="0" font-size="6.7">0</text>
<line x1="129.7" y1="631.6" x2="132.5" y2="631.6" stroke="#231f20" stroke-width="1.15"/>
<text transform="translate(126.3 633.65)" x="-7.45" y="0" font-size="6.7">20</text>
<line x1="129.7" y1="616.8" x2="132.5" y2="616.8" stroke="#231f20" stroke-width="1.15"/>
<text transform="translate(126.3 618.85)" x="-7.45" y="0" font-size="6.7">40</text>
<line x1="129.7" y1="602" x2="132.5" y2="602" stroke="#231f20" stroke-width="1.15"/>
<text transform="translate(126.3 604.05)" x="-7.45" y="0" font-size="6.7">60</text>
<line x1="129.7" y1="587.2" x2="132.5" y2="587.2" stroke="#231f20" stroke-width="1.15"/>
<text transform="translate(126.3 589.25)" x="-7.45" y="0" font-size="6.7">80</text>
<line x1="129.7" y1="646.4" x2="192.5" y2="646.4" stroke="#231f20" stroke-width="1.25"/>
<line x1="141.5" y1="646.4" x2="141.5" y2="649.4" stroke="#231f20" stroke-width="1"/>
<line x1="162.25" y1="646.4" x2="162.25" y2="649.4" stroke="#231f20" stroke-width="1"/>
<line x1="183" y1="646.4" x2="183" y2="649.4" stroke="#231f20" stroke-width="1"/>
<text transform="translate(141.5 658)" x="-1.84" y="0" font-size="6.6">7</text>
<text transform="translate(162.25 658)" x="-3.67" y="0" font-size="6.6">10</text>
<text transform="translate(183 658)" x="-3.67" y="0" font-size="6.6">14</text>
<line x1="136.25" y1="622.5" x2="144.5" y2="622.5" stroke="#231f20" stroke-width="0.95"/>
<text transform="translate(140.38 623.1)" x="-2.53" y="0" font-size="6.5" fill="#333">**</text>
<line x1="157" y1="623.5" x2="166.25" y2="623.5" stroke="#231f20" stroke-width="0.95"/>
<text transform="translate(161.62 624.1)" x="-2.53" y="0" font-size="6.5" fill="#333">**</text>
<line x1="175" y1="592.5" x2="186.25" y2="592.5" stroke="#231f20" stroke-width="0.95"/>
<text transform="translate(180.62 593.1)" x="-5.06" y="0" font-size="6.5" fill="#333">****</text>
<text transform="translate(79 670.6) scale(0.7284 1)" x="-30.75" y="0" font-size="9">Days post-HCT</text>
<text transform="translate(163 670.6) scale(0.7284 1)" x="-30.75" y="0" font-size="9">Days post-HCT</text>
<rect x="243.55" y="551.57" width="6.4" height="2.03" fill="#d39487" stroke="#c7867a" stroke-width="0.7"/>
<rect x="255.15" y="548.89" width="6.4" height="4.71" fill="#badaa2" stroke="#a9cf8e" stroke-width="0.7"/>
<rect x="275.55" y="553.06" width="6.4" height="0.54" fill="#d39487" stroke="#c7867a" stroke-width="0.7"/>
<rect x="287.15" y="552.76" width="6.4" height="0.84" fill="#badaa2" stroke="#a9cf8e" stroke-width="0.7"/>
<line x1="246.75" y1="551.52" x2="246.75" y2="550.92" stroke="#b3122e" stroke-width="0.7"/>
<line x1="245.25" y1="550.92" x2="248.25" y2="550.92" stroke="#b3122e" stroke-width="0.7"/>
<line x1="245.25" y1="551.52" x2="248.25" y2="551.52" stroke="#b3122e" stroke-width="0.7"/>
<line x1="243.2" y1="551.22" x2="250.3" y2="551.22" stroke="#b3122e" stroke-width="0.7"/>
<line x1="258.35" y1="549.14" x2="258.35" y2="547.95" stroke="#5aae32" stroke-width="0.7"/>
<line x1="256.85" y1="547.95" x2="259.85" y2="547.95" stroke="#5aae32" stroke-width="0.7"/>
<line x1="256.85" y1="549.14" x2="259.85" y2="549.14" stroke="#5aae32" stroke-width="0.7"/>
<line x1="254.8" y1="548.54" x2="261.9" y2="548.54" stroke="#5aae32" stroke-width="0.7"/>
<line x1="278.75" y1="552.86" x2="278.75" y2="552.56" stroke="#b3122e" stroke-width="0.7"/>
<line x1="277.25" y1="552.56" x2="280.25" y2="552.56" stroke="#b3122e" stroke-width="0.7"/>
<line x1="277.25" y1="552.86" x2="280.25" y2="552.86" stroke="#b3122e" stroke-width="0.7"/>
<line x1="275.2" y1="552.71" x2="282.3" y2="552.71" stroke="#b3122e" stroke-width="0.7"/>
<line x1="290.35" y1="552.56" x2="290.35" y2="552.26" stroke="#5aae32" stroke-width="0.7"/>
<line x1="288.85" y1="552.26" x2="291.85" y2="552.26" stroke="#5aae32" stroke-width="0.7"/>
<line x1="288.85" y1="552.56" x2="291.85" y2="552.56" stroke="#5aae32" stroke-width="0.7"/>
<line x1="286.8" y1="552.41" x2="293.9" y2="552.41" stroke="#5aae32" stroke-width="0.7"/>
<circle cx="246.75" cy="550.62" r="1.42" fill="#b3122e"/>
<circle cx="244.75" cy="550.92" r="1.42" fill="#b3122e"/>
<circle cx="248.75" cy="551.22" r="1.42" fill="#b3122e"/>
<circle cx="245.75" cy="551.52" r="1.42" fill="#b3122e"/>
<circle cx="247.75" cy="551.82" r="1.42" fill="#b3122e"/>
<rect x="257" y="545.41" width="2.7" height="2.7" fill="#5aae32"/>
<rect x="255" y="546.3" width="2.7" height="2.7" fill="#5aae32"/>
<rect x="259" y="547.19" width="2.7" height="2.7" fill="#5aae32"/>
<rect x="256" y="547.79" width="2.7" height="2.7" fill="#5aae32"/>
<rect x="258" y="548.68" width="2.7" height="2.7" fill="#5aae32"/>
<circle cx="278.75" cy="552.41" r="1.42" fill="#b3122e"/>
<circle cx="276.75" cy="552.56" r="1.42" fill="#b3122e"/>
<circle cx="280.75" cy="552.71" r="1.42" fill="#b3122e"/>
<circle cx="277.75" cy="552.86" r="1.42" fill="#b3122e"/>
<circle cx="279.75" cy="553" r="1.42" fill="#b3122e"/>
<rect x="289" y="550.47" width="2.7" height="2.7" fill="#5aae32"/>
<rect x="287" y="550.76" width="2.7" height="2.7" fill="#5aae32"/>
<rect x="291" y="551.06" width="2.7" height="2.7" fill="#5aae32"/>
<rect x="288" y="551.21" width="2.7" height="2.7" fill="#5aae32"/>
<rect x="290" y="551.36" width="2.7" height="2.7" fill="#5aae32"/>
<line x1="239.25" y1="491.3" x2="239.25" y2="554.2" stroke="#231f20" stroke-width="1.4"/>
<line x1="236.45" y1="553.6" x2="239.25" y2="553.6" stroke="#231f20" stroke-width="1.15"/>
<text transform="translate(233.05 555.65)" x="-3.73" y="0" font-size="6.7">0</text>
<line x1="236.45" y1="538.73" x2="239.25" y2="538.73" stroke="#231f20" stroke-width="1.15"/>
<text transform="translate(233.05 540.77)" x="-3.73" y="0" font-size="6.7">5</text>
<line x1="236.45" y1="523.85" x2="239.25" y2="523.85" stroke="#231f20" stroke-width="1.15"/>
<text transform="translate(233.05 525.9)" x="-7.45" y="0" font-size="6.7">10</text>
<line x1="236.45" y1="508.98" x2="239.25" y2="508.98" stroke="#231f20" stroke-width="1.15"/>
<text transform="translate(233.05 511.02)" x="-7.45" y="0" font-size="6.7">15</text>
<line x1="236.45" y1="494.1" x2="239.25" y2="494.1" stroke="#231f20" stroke-width="1.15"/>
<text transform="translate(233.05 496.15)" x="-7.45" y="0" font-size="6.7">20</text>
<line x1="236.45" y1="553.6" x2="299.25" y2="553.6" stroke="#231f20" stroke-width="1.25"/>
<line x1="252.55" y1="553.6" x2="252.55" y2="556.6" stroke="#231f20" stroke-width="1"/>
<line x1="284.55" y1="553.6" x2="284.55" y2="556.6" stroke="#231f20" stroke-width="1"/>
<text transform="translate(252.55 565.8)" x="-7.48" y="0" font-size="6.9">Liver</text>
<text transform="translate(284.55 565.8)" x="-9.01" y="0" font-size="6.9">Colon</text>
<text transform="translate(220.6 522.3) rotate(-90) scale(0.7816 1)" x="-49.26" y="0" font-size="8.8">%PD-1<tspan dy="-2.29" font-size="7.48">+</tspan><tspan dy="2.29"> Eomes</tspan><tspan dy="-2.29" font-size="7.48">+</tspan><tspan dy="2.29"> CD4</tspan><tspan dy="-2.29" font-size="7.48">+</tspan><tspan dy="2.29"> T</tspan></text>
<rect x="243.55" y="640.09" width="6.4" height="6.31" fill="#d39487" stroke="#c7867a" stroke-width="0.7"/>
<rect x="255.15" y="639.35" width="6.4" height="7.05" fill="#badaa2" stroke="#a9cf8e" stroke-width="0.7"/>
<rect x="275.55" y="639.35" width="6.4" height="7.05" fill="#d39487" stroke="#c7867a" stroke-width="0.7"/>
<rect x="287.15" y="640.83" width="6.4" height="5.57" fill="#badaa2" stroke="#a9cf8e" stroke-width="0.7"/>
<line x1="246.75" y1="640.63" x2="246.75" y2="638.85" stroke="#b3122e" stroke-width="0.7"/>
<line x1="245.25" y1="638.85" x2="248.25" y2="638.85" stroke="#b3122e" stroke-width="0.7"/>
<line x1="245.25" y1="640.63" x2="248.25" y2="640.63" stroke="#b3122e" stroke-width="0.7"/>
<line x1="243.2" y1="639.74" x2="250.3" y2="639.74" stroke="#b3122e" stroke-width="0.7"/>
<line x1="258.35" y1="639.89" x2="258.35" y2="638.11" stroke="#5aae32" stroke-width="0.7"/>
<line x1="256.85" y1="638.11" x2="259.85" y2="638.11" stroke="#5aae32" stroke-width="0.7"/>
<line x1="256.85" y1="639.89" x2="259.85" y2="639.89" stroke="#5aae32" stroke-width="0.7"/>
<line x1="254.8" y1="639" x2="261.9" y2="639" stroke="#5aae32" stroke-width="0.7"/>
<line x1="278.75" y1="640.11" x2="278.75" y2="637.89" stroke="#b3122e" stroke-width="0.7"/>
<line x1="277.25" y1="637.89" x2="280.25" y2="637.89" stroke="#b3122e" stroke-width="0.7"/>
<line x1="277.25" y1="640.11" x2="280.25" y2="640.11" stroke="#b3122e" stroke-width="0.7"/>
<line x1="275.2" y1="639" x2="282.3" y2="639" stroke="#b3122e" stroke-width="0.7"/>
<line x1="290.35" y1="642.33" x2="290.35" y2="638.63" stroke="#5aae32" stroke-width="0.7"/>
<line x1="288.85" y1="638.63" x2="291.85" y2="638.63" stroke="#5aae32" stroke-width="0.7"/>
<line x1="288.85" y1="642.33" x2="291.85" y2="642.33" stroke="#5aae32" stroke-width="0.7"/>
<line x1="286.8" y1="640.48" x2="293.9" y2="640.48" stroke="#5aae32" stroke-width="0.7"/>
<circle cx="246.75" cy="637.52" r="1.42" fill="#b3122e"/>
<circle cx="244.75" cy="638.26" r="1.42" fill="#b3122e"/>
<circle cx="248.75" cy="639.74" r="1.42" fill="#b3122e"/>
<circle cx="245.75" cy="640.48" r="1.42" fill="#b3122e"/>
<circle cx="247.75" cy="641.96" r="1.42" fill="#b3122e"/>
<rect x="257" y="634.69" width="2.7" height="2.7" fill="#5aae32"/>
<rect x="255" y="635.43" width="2.7" height="2.7" fill="#5aae32"/>
<rect x="259" y="636.91" width="2.7" height="2.7" fill="#5aae32"/>
<rect x="256" y="637.65" width="2.7" height="2.7" fill="#5aae32"/>
<rect x="258" y="639.13" width="2.7" height="2.7" fill="#5aae32"/>
<circle cx="278.75" cy="636.04" r="1.42" fill="#b3122e"/>
<circle cx="276.75" cy="637.52" r="1.42" fill="#b3122e"/>
<circle cx="280.75" cy="638.26" r="1.42" fill="#b3122e"/>
<circle cx="277.75" cy="640.48" r="1.42" fill="#b3122e"/>
<circle cx="279.75" cy="642.7" r="1.42" fill="#b3122e"/>
<rect x="289" y="631.73" width="2.7" height="2.7" fill="#5aae32"/>
<rect x="287" y="636.91" width="2.7" height="2.7" fill="#5aae32"/>
<rect x="291" y="638.39" width="2.7" height="2.7" fill="#5aae32"/>
<rect x="288" y="640.61" width="2.7" height="2.7" fill="#5aae32"/>
<rect x="290" y="642.83" width="2.7" height="2.7" fill="#5aae32"/>
<line x1="239.25" y1="584.4" x2="239.25" y2="647" stroke="#231f20" stroke-width="1.4"/>
<line x1="236.45" y1="646.4" x2="239.25" y2="646.4" stroke="#231f20" stroke-width="1.15"/>
<text transform="translate(233.05 648.45)" x="-3.73" y="0" font-size="6.7">0</text>
<line x1="236.45" y1="631.6" x2="239.25" y2="631.6" stroke="#231f20" stroke-width="1.15"/>
<text transform="translate(233.05 633.65)" x="-7.45" y="0" font-size="6.7">20</text>
<line x1="236.45" y1="616.8" x2="239.25" y2="616.8" stroke="#231f20" stroke-width="1.15"/>
<text transform="translate(233.05 618.85)" x="-7.45" y="0" font-size="6.7">40</text>
<line x1="236.45" y1="602" x2="239.25" y2="602" stroke="#231f20" stroke-width="1.15"/>
<text transform="translate(233.05 604.05)" x="-7.45" y="0" font-size="6.7">60</text>
<line x1="236.45" y1="587.2" x2="239.25" y2="587.2" stroke="#231f20" stroke-width="1.15"/>
<text transform="translate(233.05 589.25)" x="-7.45" y="0" font-size="6.7">80</text>
<line x1="236.45" y1="646.4" x2="299.25" y2="646.4" stroke="#231f20" stroke-width="1.25"/>
<line x1="252.55" y1="646.4" x2="252.55" y2="649.4" stroke="#231f20" stroke-width="1"/>
<line x1="284.55" y1="646.4" x2="284.55" y2="649.4" stroke="#231f20" stroke-width="1"/>
<text transform="translate(252.55 658.6)" x="-7.48" y="0" font-size="6.9">Liver</text>
<text transform="translate(284.55 658.6)" x="-9.01" y="0" font-size="6.9">Colon</text>
<text transform="translate(220.6 616) rotate(-90) scale(0.7816 1)" x="-49.26" y="0" font-size="8.8">%PD-1<tspan dy="-2.29" font-size="7.48">+</tspan><tspan dy="2.29"> Eomes</tspan><tspan dy="-2.29" font-size="7.48">+</tspan><tspan dy="2.29"> CD8</tspan><tspan dy="-2.29" font-size="7.48">+</tspan><tspan dy="2.29"> T</tspan></text>
<rect x="350.75" y="548" width="6.4" height="5.6" fill="#d890ba" stroke="#cc7dac" stroke-width="0.7"/>
<rect x="362.35" y="534.32" width="6.4" height="19.28" fill="#edc893" stroke="#e4b97e" stroke-width="0.7"/>
<rect x="382.75" y="549.79" width="6.4" height="3.81" fill="#d890ba" stroke="#cc7dac" stroke-width="0.7"/>
<rect x="394.35" y="543.84" width="6.4" height="9.77" fill="#edc893" stroke="#e4b97e" stroke-width="0.7"/>
<line x1="353.95" y1="548.13" x2="353.95" y2="547.17" stroke="#d3168a" stroke-width="0.7"/>
<line x1="352.45" y1="547.17" x2="355.45" y2="547.17" stroke="#d3168a" stroke-width="0.7"/>
<line x1="352.45" y1="548.13" x2="355.45" y2="548.13" stroke="#d3168a" stroke-width="0.7"/>
<line x1="350.4" y1="547.65" x2="357.5" y2="547.65" stroke="#d3168a" stroke-width="0.7"/>
<line x1="365.55" y1="535.45" x2="365.55" y2="532.48" stroke="#ec921e" stroke-width="0.7"/>
<line x1="364.05" y1="532.48" x2="367.05" y2="532.48" stroke="#ec921e" stroke-width="0.7"/>
<line x1="364.05" y1="535.45" x2="367.05" y2="535.45" stroke="#ec921e" stroke-width="0.7"/>
<line x1="362" y1="533.97" x2="369.1" y2="533.97" stroke="#ec921e" stroke-width="0.7"/>
<line x1="385.95" y1="552.11" x2="385.95" y2="546.76" stroke="#d3168a" stroke-width="0.7"/>
<line x1="384.45" y1="546.76" x2="387.45" y2="546.76" stroke="#d3168a" stroke-width="0.7"/>
<line x1="384.45" y1="552.11" x2="387.45" y2="552.11" stroke="#d3168a" stroke-width="0.7"/>
<line x1="382.4" y1="549.44" x2="389.5" y2="549.44" stroke="#d3168a" stroke-width="0.7"/>
<line x1="397.55" y1="546.46" x2="397.55" y2="540.51" stroke="#ec921e" stroke-width="0.7"/>
<line x1="396.05" y1="540.51" x2="399.05" y2="540.51" stroke="#ec921e" stroke-width="0.7"/>
<line x1="396.05" y1="546.46" x2="399.05" y2="546.46" stroke="#ec921e" stroke-width="0.7"/>
<line x1="394" y1="543.49" x2="401.1" y2="543.49" stroke="#ec921e" stroke-width="0.7"/>
<circle cx="353.95" cy="546.46" r="1.42" fill="#d3168a"/>
<circle cx="351.95" cy="547.06" r="1.42" fill="#d3168a"/>
<circle cx="355.95" cy="547.65" r="1.42" fill="#d3168a"/>
<circle cx="352.95" cy="548.25" r="1.42" fill="#d3168a"/>
<circle cx="354.95" cy="548.84" r="1.42" fill="#d3168a"/>
<circle cx="365.55" cy="529.8" r="1.42" fill="#ec921e"/>
<circle cx="363.55" cy="532.77" r="1.42" fill="#ec921e"/>
<circle cx="367.55" cy="533.97" r="1.42" fill="#ec921e"/>
<circle cx="364.55" cy="535.75" r="1.42" fill="#ec921e"/>
<circle cx="366.55" cy="536.94" r="1.42" fill="#ec921e"/>
<circle cx="385.95" cy="538.73" r="1.42" fill="#d3168a"/>
<circle cx="383.95" cy="548.84" r="1.42" fill="#d3168a"/>
<circle cx="387.95" cy="550.62" r="1.42" fill="#d3168a"/>
<circle cx="384.95" cy="551.82" r="1.42" fill="#d3168a"/>
<circle cx="386.95" cy="552.41" r="1.42" fill="#d3168a"/>
<circle cx="397.55" cy="536.35" r="1.42" fill="#ec921e"/>
<circle cx="395.55" cy="538.73" r="1.42" fill="#ec921e"/>
<circle cx="399.55" cy="544.68" r="1.42" fill="#ec921e"/>
<circle cx="396.55" cy="547.65" r="1.42" fill="#ec921e"/>
<circle cx="398.55" cy="548.84" r="1.42" fill="#ec921e"/>
<line x1="345.75" y1="491.3" x2="345.75" y2="554.2" stroke="#231f20" stroke-width="1.4"/>
<line x1="342.95" y1="553.6" x2="345.75" y2="553.6" stroke="#231f20" stroke-width="1.15"/>
<text transform="translate(339.55 555.65)" x="-3.73" y="0" font-size="6.7">0</text>
<line x1="342.95" y1="541.7" x2="345.75" y2="541.7" stroke="#231f20" stroke-width="1.15"/>
<text transform="translate(339.55 543.75)" x="-3.73" y="0" font-size="6.7">2</text>
<line x1="342.95" y1="529.8" x2="345.75" y2="529.8" stroke="#231f20" stroke-width="1.15"/>
<text transform="translate(339.55 531.85)" x="-3.73" y="0" font-size="6.7">4</text>
<line x1="342.95" y1="517.9" x2="345.75" y2="517.9" stroke="#231f20" stroke-width="1.15"/>
<text transform="translate(339.55 519.95)" x="-3.73" y="0" font-size="6.7">6</text>
<line x1="342.95" y1="506" x2="345.75" y2="506" stroke="#231f20" stroke-width="1.15"/>
<text transform="translate(339.55 508.05)" x="-3.73" y="0" font-size="6.7">8</text>
<line x1="342.95" y1="494.1" x2="345.75" y2="494.1" stroke="#231f20" stroke-width="1.15"/>
<text transform="translate(339.55 496.15)" x="-7.45" y="0" font-size="6.7">10</text>
<line x1="342.95" y1="553.6" x2="405.75" y2="553.6" stroke="#231f20" stroke-width="1.25"/>
<line x1="359.75" y1="553.6" x2="359.75" y2="556.6" stroke="#231f20" stroke-width="1"/>
<line x1="391.75" y1="553.6" x2="391.75" y2="556.6" stroke="#231f20" stroke-width="1"/>
<text transform="translate(359.75 565.8)" x="-7.48" y="0" font-size="6.9">Liver</text>
<text transform="translate(391.75 565.8)" x="-9.01" y="0" font-size="6.9">Colon</text>
<line x1="353" y1="527.5" x2="368.75" y2="527.5" stroke="#231f20" stroke-width="0.95"/>
<text transform="translate(360.88 528.1)" x="-3.79" y="0" font-size="6.5" fill="#333">***</text>
<text transform="translate(327.5 522.3) rotate(-90) scale(0.7816 1)" x="-49.26" y="0" font-size="8.8">%PD-1<tspan dy="-2.29" font-size="7.48">+</tspan><tspan dy="2.29"> Eomes</tspan><tspan dy="-2.29" font-size="7.48">+</tspan><tspan dy="2.29"> CD4</tspan><tspan dy="-2.29" font-size="7.48">+</tspan><tspan dy="2.29"> T</tspan></text>
<rect x="350.75" y="636.39" width="6.4" height="10.01" fill="#d890ba" stroke="#cc7dac" stroke-width="0.7"/>
<rect x="362.35" y="628.25" width="6.4" height="18.15" fill="#edc893" stroke="#e4b97e" stroke-width="0.7"/>
<rect x="382.75" y="643.79" width="6.4" height="2.61" fill="#d890ba" stroke="#cc7dac" stroke-width="0.7"/>
<rect x="394.35" y="641.57" width="6.4" height="4.83" fill="#edc893" stroke="#e4b97e" stroke-width="0.7"/>
<line x1="353.95" y1="637.22" x2="353.95" y2="634.86" stroke="#d3168a" stroke-width="0.7"/>
<line x1="352.45" y1="634.86" x2="355.45" y2="634.86" stroke="#d3168a" stroke-width="0.7"/>
<line x1="352.45" y1="637.22" x2="355.45" y2="637.22" stroke="#d3168a" stroke-width="0.7"/>
<line x1="350.4" y1="636.04" x2="357.5" y2="636.04" stroke="#d3168a" stroke-width="0.7"/>
<line x1="365.55" y1="629.68" x2="365.55" y2="626.12" stroke="#ec921e" stroke-width="0.7"/>
<line x1="364.05" y1="626.12" x2="367.05" y2="626.12" stroke="#ec921e" stroke-width="0.7"/>
<line x1="364.05" y1="629.68" x2="367.05" y2="629.68" stroke="#ec921e" stroke-width="0.7"/>
<line x1="362" y1="627.9" x2="369.1" y2="627.9" stroke="#ec921e" stroke-width="0.7"/>
<line x1="385.95" y1="643.74" x2="385.95" y2="643.14" stroke="#d3168a" stroke-width="0.7"/>
<line x1="384.45" y1="643.14" x2="387.45" y2="643.14" stroke="#d3168a" stroke-width="0.7"/>
<line x1="384.45" y1="643.74" x2="387.45" y2="643.74" stroke="#d3168a" stroke-width="0.7"/>
<line x1="382.4" y1="643.44" x2="389.5" y2="643.44" stroke="#d3168a" stroke-width="0.7"/>
<line x1="397.55" y1="642.55" x2="397.55" y2="639.89" stroke="#ec921e" stroke-width="0.7"/>
<line x1="396.05" y1="639.89" x2="399.05" y2="639.89" stroke="#ec921e" stroke-width="0.7"/>
<line x1="396.05" y1="642.55" x2="399.05" y2="642.55" stroke="#ec921e" stroke-width="0.7"/>
<line x1="394" y1="641.22" x2="401.1" y2="641.22" stroke="#ec921e" stroke-width="0.7"/>
<circle cx="353.95" cy="631.6" r="1.42" fill="#d3168a"/>
<circle cx="351.95" cy="634.56" r="1.42" fill="#d3168a"/>
<circle cx="355.95" cy="636.04" r="1.42" fill="#d3168a"/>
<circle cx="352.95" cy="637.52" r="1.42" fill="#d3168a"/>
<circle cx="354.95" cy="638.26" r="1.42" fill="#d3168a"/>
<circle cx="365.55" cy="622.72" r="1.42" fill="#ec921e"/>
<circle cx="363.55" cy="624.2" r="1.42" fill="#ec921e"/>
<circle cx="367.55" cy="628.64" r="1.42" fill="#ec921e"/>
<circle cx="364.55" cy="630.12" r="1.42" fill="#ec921e"/>
<circle cx="366.55" cy="631.6" r="1.42" fill="#ec921e"/>
<circle cx="385.95" cy="642.7" r="1.42" fill="#d3168a"/>
<circle cx="383.95" cy="643.14" r="1.42" fill="#d3168a"/>
<circle cx="387.95" cy="643.44" r="1.42" fill="#d3168a"/>
<circle cx="384.95" cy="643.74" r="1.42" fill="#d3168a"/>
<circle cx="386.95" cy="644.18" r="1.42" fill="#d3168a"/>
<circle cx="397.55" cy="636.78" r="1.42" fill="#ec921e"/>
<circle cx="395.55" cy="639" r="1.42" fill="#ec921e"/>
<circle cx="399.55" cy="641.22" r="1.42" fill="#ec921e"/>
<circle cx="396.55" cy="642.7" r="1.42" fill="#ec921e"/>
<circle cx="398.55" cy="643.44" r="1.42" fill="#ec921e"/>
<line x1="345.75" y1="584.4" x2="345.75" y2="647" stroke="#231f20" stroke-width="1.4"/>
<line x1="342.95" y1="646.4" x2="345.75" y2="646.4" stroke="#231f20" stroke-width="1.15"/>
<text transform="translate(339.55 648.45)" x="-3.73" y="0" font-size="6.7">0</text>
<line x1="342.95" y1="631.6" x2="345.75" y2="631.6" stroke="#231f20" stroke-width="1.15"/>
<text transform="translate(339.55 633.65)" x="-7.45" y="0" font-size="6.7">10</text>
<line x1="342.95" y1="616.8" x2="345.75" y2="616.8" stroke="#231f20" stroke-width="1.15"/>
<text transform="translate(339.55 618.85)" x="-7.45" y="0" font-size="6.7">20</text>
<line x1="342.95" y1="602" x2="345.75" y2="602" stroke="#231f20" stroke-width="1.15"/>
<text transform="translate(339.55 604.05)" x="-7.45" y="0" font-size="6.7">30</text>
<line x1="342.95" y1="587.2" x2="345.75" y2="587.2" stroke="#231f20" stroke-width="1.15"/>
<text transform="translate(339.55 589.25)" x="-7.45" y="0" font-size="6.7">40</text>
<line x1="342.95" y1="646.4" x2="405.75" y2="646.4" stroke="#231f20" stroke-width="1.25"/>
<line x1="359.75" y1="646.4" x2="359.75" y2="649.4" stroke="#231f20" stroke-width="1"/>
<line x1="391.75" y1="646.4" x2="391.75" y2="649.4" stroke="#231f20" stroke-width="1"/>
<text transform="translate(359.75 658.6)" x="-7.48" y="0" font-size="6.9">Liver</text>
<text transform="translate(391.75 658.6)" x="-9.01" y="0" font-size="6.9">Colon</text>
<line x1="353" y1="618.5" x2="369.5" y2="618.5" stroke="#231f20" stroke-width="0.95"/>
<text transform="translate(361.25 619.1)" x="-3.79" y="0" font-size="6.5" fill="#333">***</text>
<line x1="383" y1="631.5" x2="395.75" y2="631.5" stroke="#231f20" stroke-width="0.95"/>
<text transform="translate(389.38 632.1)" x="-1.26" y="0" font-size="6.5" fill="#333">*</text>
<text transform="translate(327.5 616) rotate(-90) scale(0.7816 1)" x="-49.26" y="0" font-size="8.8">%PD-1<tspan dy="-2.29" font-size="7.48">+</tspan><tspan dy="2.29"> Eomes</tspan><tspan dy="-2.29" font-size="7.48">+</tspan><tspan dy="2.29"> CD8</tspan><tspan dy="-2.29" font-size="7.48">+</tspan><tspan dy="2.29"> T</tspan></text>
<rect x="457.55" y="517.66" width="6.4" height="35.95" fill="#818aaf" stroke="#727ba3" stroke-width="0.7"/>
<rect x="469.15" y="543.84" width="6.4" height="9.77" fill="#edc893" stroke="#e4b97e" stroke-width="0.7"/>
<rect x="489.55" y="530.75" width="6.4" height="22.86" fill="#818aaf" stroke="#727ba3" stroke-width="0.7"/>
<rect x="501.15" y="548.6" width="6.4" height="5.01" fill="#edc893" stroke="#e4b97e" stroke-width="0.7"/>
<line x1="460.75" y1="522.07" x2="460.75" y2="512.55" stroke="#1f3d87" stroke-width="0.7"/>
<line x1="459.25" y1="512.55" x2="462.25" y2="512.55" stroke="#1f3d87" stroke-width="0.7"/>
<line x1="459.25" y1="522.07" x2="462.25" y2="522.07" stroke="#1f3d87" stroke-width="0.7"/>
<line x1="457.2" y1="517.31" x2="464.3" y2="517.31" stroke="#1f3d87" stroke-width="0.7"/>
<line x1="472.35" y1="547.06" x2="472.35" y2="539.92" stroke="#ec921e" stroke-width="0.7"/>
<line x1="470.85" y1="539.92" x2="473.85" y2="539.92" stroke="#ec921e" stroke-width="0.7"/>
<line x1="470.85" y1="547.06" x2="473.85" y2="547.06" stroke="#ec921e" stroke-width="0.7"/>
<line x1="468.8" y1="543.49" x2="475.9" y2="543.49" stroke="#ec921e" stroke-width="0.7"/>
<line x1="492.75" y1="535.15" x2="492.75" y2="525.63" stroke="#1f3d87" stroke-width="0.7"/>
<line x1="491.25" y1="525.63" x2="494.25" y2="525.63" stroke="#1f3d87" stroke-width="0.7"/>
<line x1="491.25" y1="535.15" x2="494.25" y2="535.15" stroke="#1f3d87" stroke-width="0.7"/>
<line x1="489.2" y1="530.39" x2="496.3" y2="530.39" stroke="#1f3d87" stroke-width="0.7"/>
<line x1="504.35" y1="550.03" x2="504.35" y2="546.46" stroke="#ec921e" stroke-width="0.7"/>
<line x1="502.85" y1="546.46" x2="505.85" y2="546.46" stroke="#ec921e" stroke-width="0.7"/>
<line x1="502.85" y1="550.03" x2="505.85" y2="550.03" stroke="#ec921e" stroke-width="0.7"/>
<line x1="500.8" y1="548.25" x2="507.9" y2="548.25" stroke="#ec921e" stroke-width="0.7"/>
<circle cx="460.75" cy="507.19" r="1.42" fill="#1f3d87"/>
<circle cx="458.75" cy="514.93" r="1.42" fill="#1f3d87"/>
<circle cx="462.75" cy="517.9" r="1.42" fill="#1f3d87"/>
<circle cx="459.75" cy="520.88" r="1.42" fill="#1f3d87"/>
<circle cx="461.75" cy="526.83" r="1.42" fill="#1f3d87"/>
<circle cx="472.35" cy="536.94" r="1.42" fill="#ec921e"/>
<circle cx="470.35" cy="539.92" r="1.42" fill="#ec921e"/>
<circle cx="474.35" cy="544.68" r="1.42" fill="#ec921e"/>
<circle cx="471.35" cy="546.46" r="1.42" fill="#ec921e"/>
<circle cx="473.35" cy="547.65" r="1.42" fill="#ec921e"/>
<circle cx="492.75" cy="518.5" r="1.42" fill="#1f3d87"/>
<circle cx="490.75" cy="529.8" r="1.42" fill="#1f3d87"/>
<circle cx="494.75" cy="532.77" r="1.42" fill="#1f3d87"/>
<circle cx="491.75" cy="535.75" r="1.42" fill="#1f3d87"/>
<circle cx="493.75" cy="541.7" r="1.42" fill="#1f3d87"/>
<circle cx="504.35" cy="541.7" r="1.42" fill="#ec921e"/>
<circle cx="502.35" cy="546.46" r="1.42" fill="#ec921e"/>
<circle cx="506.35" cy="548.84" r="1.42" fill="#ec921e"/>
<circle cx="503.35" cy="550.03" r="1.42" fill="#ec921e"/>
<circle cx="505.35" cy="550.62" r="1.42" fill="#ec921e"/>
<line x1="453.25" y1="491.3" x2="453.25" y2="554.2" stroke="#231f20" stroke-width="1.4"/>
<line x1="450.45" y1="553.6" x2="453.25" y2="553.6" stroke="#231f20" stroke-width="1.15"/>
<text transform="translate(447.05 555.65)" x="-3.73" y="0" font-size="6.7">0</text>
<line x1="450.45" y1="541.7" x2="453.25" y2="541.7" stroke="#231f20" stroke-width="1.15"/>
<text transform="translate(447.05 543.75)" x="-3.73" y="0" font-size="6.7">2</text>
<line x1="450.45" y1="529.8" x2="453.25" y2="529.8" stroke="#231f20" stroke-width="1.15"/>
<text transform="translate(447.05 531.85)" x="-3.73" y="0" font-size="6.7">4</text>
<line x1="450.45" y1="517.9" x2="453.25" y2="517.9" stroke="#231f20" stroke-width="1.15"/>
<text transform="translate(447.05 519.95)" x="-3.73" y="0" font-size="6.7">6</text>
<line x1="450.45" y1="506" x2="453.25" y2="506" stroke="#231f20" stroke-width="1.15"/>
<text transform="translate(447.05 508.05)" x="-3.73" y="0" font-size="6.7">8</text>
<line x1="450.45" y1="494.1" x2="453.25" y2="494.1" stroke="#231f20" stroke-width="1.15"/>
<text transform="translate(447.05 496.15)" x="-7.45" y="0" font-size="6.7">10</text>
<line x1="450.45" y1="553.6" x2="513.25" y2="553.6" stroke="#231f20" stroke-width="1.25"/>
<line x1="466.55" y1="553.6" x2="466.55" y2="556.6" stroke="#231f20" stroke-width="1"/>
<line x1="498.55" y1="553.6" x2="498.55" y2="556.6" stroke="#231f20" stroke-width="1"/>
<text transform="translate(466.55 565.8)" x="-7.48" y="0" font-size="6.9">Liver</text>
<text transform="translate(498.55 565.8)" x="-9.01" y="0" font-size="6.9">Colon</text>
<line x1="458.75" y1="501.5" x2="472" y2="501.5" stroke="#231f20" stroke-width="0.95"/>
<text transform="translate(465.38 502.1)" x="-3.79" y="0" font-size="6.5" fill="#333">***</text>
<line x1="490.5" y1="513.5" x2="506.75" y2="513.5" stroke="#231f20" stroke-width="0.95"/>
<text transform="translate(498.62 514.1)" x="-1.26" y="0" font-size="6.5" fill="#333">*</text>
<text transform="translate(433.2 522.3) rotate(-90) scale(0.7816 1)" x="-49.26" y="0" font-size="8.8">%PD-1<tspan dy="-2.29" font-size="7.48">+</tspan><tspan dy="2.29"> Eomes</tspan><tspan dy="-2.29" font-size="7.48">+</tspan><tspan dy="2.29"> CD4</tspan><tspan dy="-2.29" font-size="7.48">+</tspan><tspan dy="2.29"> T</tspan></text>
<rect x="457.55" y="601.61" width="6.4" height="44.79" fill="#818aaf" stroke="#727ba3" stroke-width="0.7"/>
<rect x="469.15" y="634.17" width="6.4" height="12.23" fill="#edc893" stroke="#e4b97e" stroke-width="0.7"/>
<rect x="489.55" y="620.11" width="6.4" height="26.29" fill="#818aaf" stroke="#727ba3" stroke-width="0.7"/>
<rect x="501.15" y="639.35" width="6.4" height="7.05" fill="#edc893" stroke="#e4b97e" stroke-width="0.7"/>
<line x1="460.75" y1="606.44" x2="460.75" y2="596.08" stroke="#1f3d87" stroke-width="0.7"/>
<line x1="459.25" y1="596.08" x2="462.25" y2="596.08" stroke="#1f3d87" stroke-width="0.7"/>
<line x1="459.25" y1="606.44" x2="462.25" y2="606.44" stroke="#1f3d87" stroke-width="0.7"/>
<line x1="457.2" y1="601.26" x2="464.3" y2="601.26" stroke="#1f3d87" stroke-width="0.7"/>
<line x1="472.35" y1="639" x2="472.35" y2="628.64" stroke="#ec921e" stroke-width="0.7"/>
<line x1="470.85" y1="628.64" x2="473.85" y2="628.64" stroke="#ec921e" stroke-width="0.7"/>
<line x1="470.85" y1="639" x2="473.85" y2="639" stroke="#ec921e" stroke-width="0.7"/>
<line x1="468.8" y1="633.82" x2="475.9" y2="633.82" stroke="#ec921e" stroke-width="0.7"/>
<line x1="492.75" y1="624.94" x2="492.75" y2="614.58" stroke="#1f3d87" stroke-width="0.7"/>
<line x1="491.25" y1="614.58" x2="494.25" y2="614.58" stroke="#1f3d87" stroke-width="0.7"/>
<line x1="491.25" y1="624.94" x2="494.25" y2="624.94" stroke="#1f3d87" stroke-width="0.7"/>
<line x1="489.2" y1="619.76" x2="496.3" y2="619.76" stroke="#1f3d87" stroke-width="0.7"/>
<line x1="504.35" y1="640.78" x2="504.35" y2="637.22" stroke="#ec921e" stroke-width="0.7"/>
<line x1="502.85" y1="637.22" x2="505.85" y2="637.22" stroke="#ec921e" stroke-width="0.7"/>
<line x1="502.85" y1="640.78" x2="505.85" y2="640.78" stroke="#ec921e" stroke-width="0.7"/>
<line x1="500.8" y1="639" x2="507.9" y2="639" stroke="#ec921e" stroke-width="0.7"/>
<circle cx="460.75" cy="591.64" r="1.42" fill="#1f3d87"/>
<circle cx="458.75" cy="593.12" r="1.42" fill="#1f3d87"/>
<circle cx="462.75" cy="600.52" r="1.42" fill="#1f3d87"/>
<circle cx="459.75" cy="606.44" r="1.42" fill="#1f3d87"/>
<circle cx="461.75" cy="607.92" r="1.42" fill="#1f3d87"/>
<circle cx="472.35" cy="627.16" r="1.42" fill="#ec921e"/>
<circle cx="470.35" cy="627.9" r="1.42" fill="#ec921e"/>
<circle cx="474.35" cy="631.6" r="1.42" fill="#ec921e"/>
<circle cx="471.35" cy="639" r="1.42" fill="#ec921e"/>
<circle cx="473.35" cy="643.44" r="1.42" fill="#ec921e"/>
<circle cx="492.75" cy="606.44" r="1.42" fill="#1f3d87"/>
<circle cx="490.75" cy="616.8" r="1.42" fill="#1f3d87"/>
<circle cx="494.75" cy="621.24" r="1.42" fill="#1f3d87"/>
<circle cx="491.75" cy="624.2" r="1.42" fill="#1f3d87"/>
<circle cx="493.75" cy="628.64" r="1.42" fill="#1f3d87"/>
<circle cx="504.35" cy="635.3" r="1.42" fill="#ec921e"/>
<circle cx="502.35" cy="636.04" r="1.42" fill="#ec921e"/>
<circle cx="506.35" cy="639" r="1.42" fill="#ec921e"/>
<circle cx="503.35" cy="640.48" r="1.42" fill="#ec921e"/>
<circle cx="505.35" cy="643.44" r="1.42" fill="#ec921e"/>
<line x1="453.25" y1="584.4" x2="453.25" y2="647" stroke="#231f20" stroke-width="1.4"/>
<line x1="450.45" y1="646.4" x2="453.25" y2="646.4" stroke="#231f20" stroke-width="1.15"/>
<text transform="translate(447.05 648.45)" x="-3.73" y="0" font-size="6.7">0</text>
<line x1="450.45" y1="631.6" x2="453.25" y2="631.6" stroke="#231f20" stroke-width="1.15"/>
<text transform="translate(447.05 633.65)" x="-7.45" y="0" font-size="6.7">10</text>
<line x1="450.45" y1="616.8" x2="453.25" y2="616.8" stroke="#231f20" stroke-width="1.15"/>
<text transform="translate(447.05 618.85)" x="-7.45" y="0" font-size="6.7">20</text>
<line x1="450.45" y1="602" x2="453.25" y2="602" stroke="#231f20" stroke-width="1.15"/>
<text transform="translate(447.05 604.05)" x="-7.45" y="0" font-size="6.7">30</text>
<line x1="450.45" y1="587.2" x2="453.25" y2="587.2" stroke="#231f20" stroke-width="1.15"/>
<text transform="translate(447.05 589.25)" x="-7.45" y="0" font-size="6.7">40</text>
<line x1="450.45" y1="646.4" x2="513.25" y2="646.4" stroke="#231f20" stroke-width="1.25"/>
<line x1="466.55" y1="646.4" x2="466.55" y2="649.4" stroke="#231f20" stroke-width="1"/>
<line x1="498.55" y1="646.4" x2="498.55" y2="649.4" stroke="#231f20" stroke-width="1"/>
<text transform="translate(466.55 658.6)" x="-7.48" y="0" font-size="6.9">Liver</text>
<text transform="translate(498.55 658.6)" x="-9.01" y="0" font-size="6.9">Colon</text>
<line x1="459.5" y1="585.5" x2="473.75" y2="585.5" stroke="#231f20" stroke-width="0.95"/>
<text transform="translate(466.62 586.1)" x="-2.53" y="0" font-size="6.5" fill="#333">**</text>
<line x1="491.75" y1="600.5" x2="508" y2="600.5" stroke="#231f20" stroke-width="0.95"/>
<text transform="translate(499.88 601.1)" x="-1.26" y="0" font-size="6.5" fill="#333">*</text>
<text transform="translate(433.2 616) rotate(-90) scale(0.7816 1)" x="-49.26" y="0" font-size="8.8">%PD-1<tspan dy="-2.29" font-size="7.48">+</tspan><tspan dy="2.29"> Eomes</tspan><tspan dy="-2.29" font-size="7.48">+</tspan><tspan dy="2.29"> CD8</tspan><tspan dy="-2.29" font-size="7.48">+</tspan><tspan dy="2.29"> T</tspan></text>
<rect x="0.5" y="0.5" width="519" height="680" fill="none" stroke="#000" stroke-width="1.2"/>
</svg></body></html>
